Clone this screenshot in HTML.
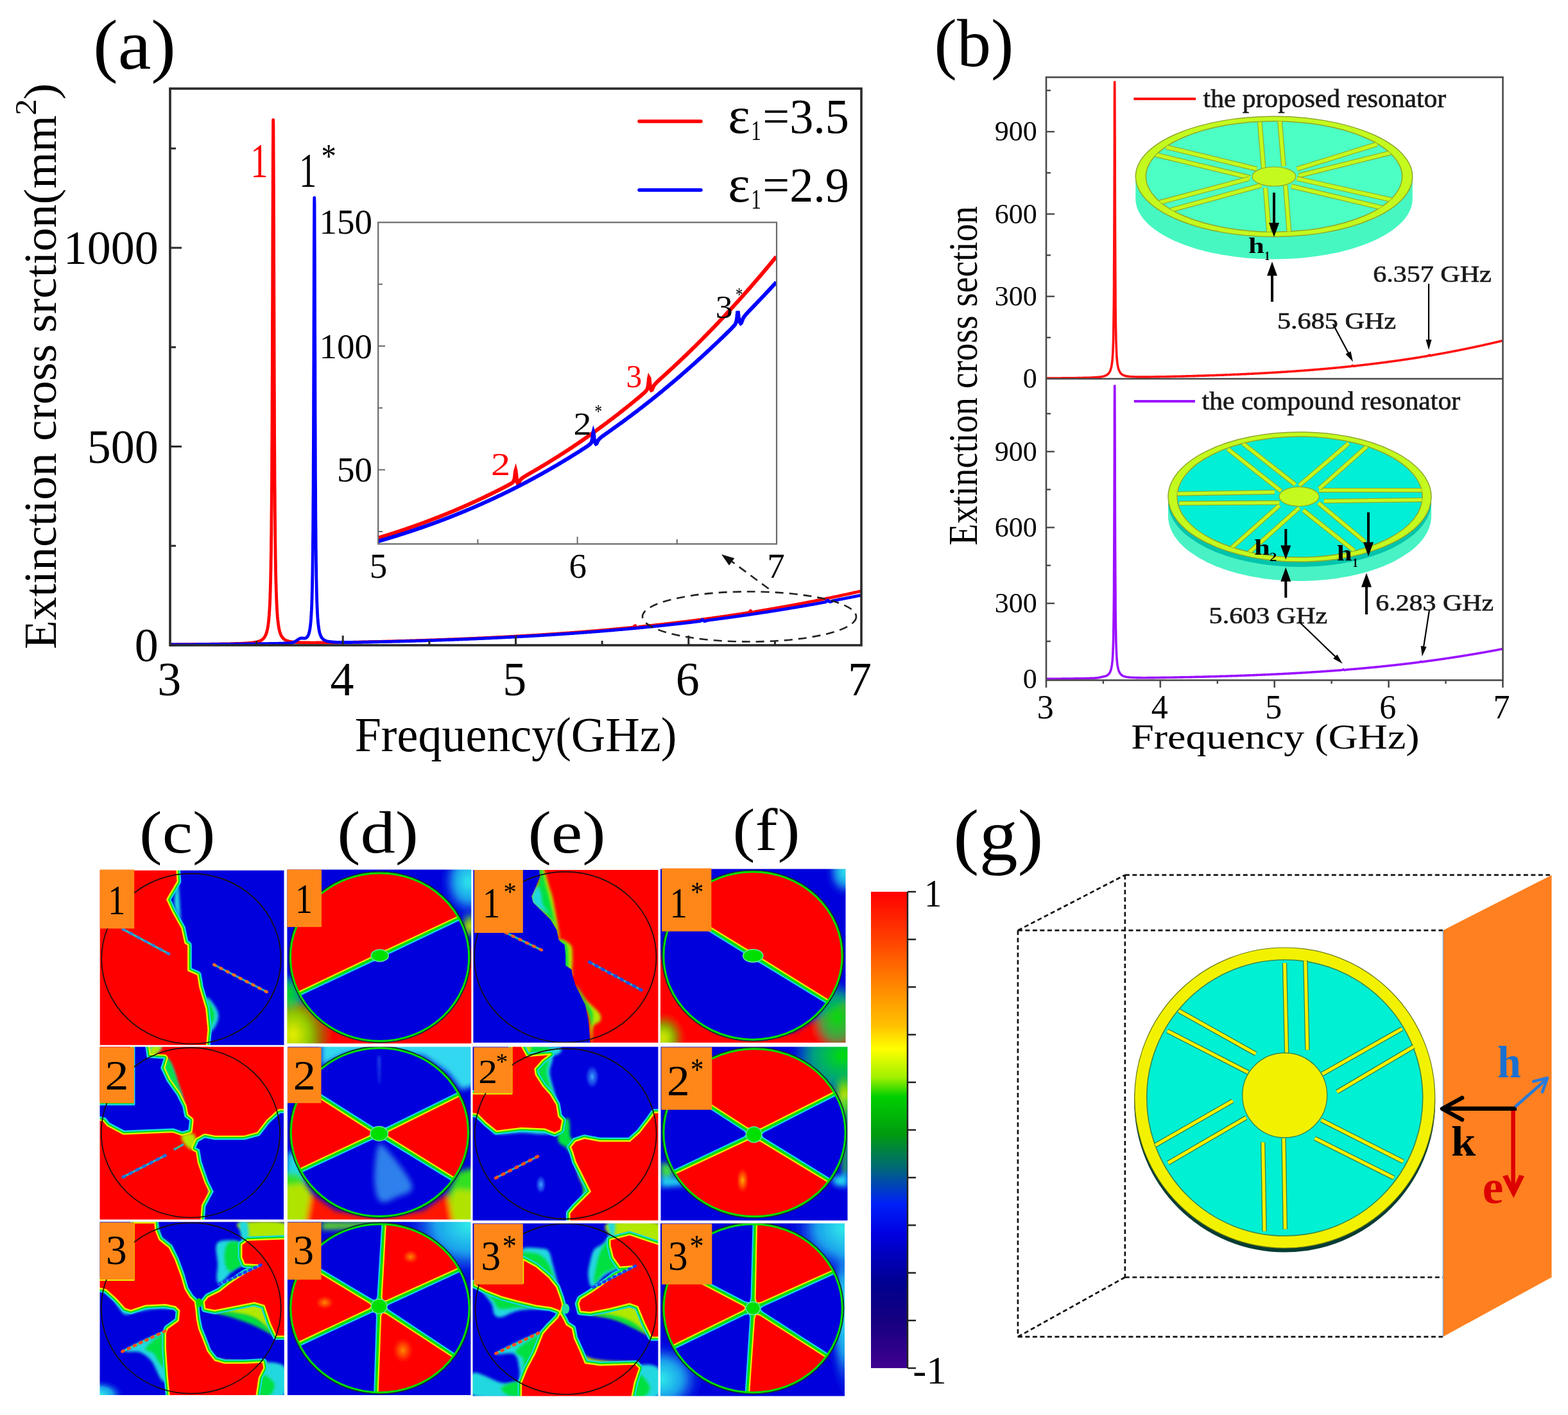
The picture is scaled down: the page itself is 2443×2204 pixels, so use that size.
<!DOCTYPE html>
<html><head><meta charset="utf-8"><style>html,body{margin:0;padding:0;background:#fff;}svg{display:block;}</style></head>
<body><svg xmlns="http://www.w3.org/2000/svg" width="2443" height="2204" viewBox="0 0 2443 2204" font-family="Liberation Serif, Times New Roman, serif">
<rect width="2443" height="2204" fill="#fff"/>
<path d="M265.0,1003.8 L266.1,1003.8 L267.2,1003.8 L268.2,1003.8 L269.3,1003.8 L270.4,1003.8 L271.5,1003.8 L272.5,1003.8 L273.6,1003.8 L274.7,1003.8 L275.8,1003.7 L276.8,1003.7 L277.9,1003.7 L279.0,1003.7 L280.1,1003.7 L281.2,1003.7 L282.2,1003.7 L283.3,1003.7 L284.4,1003.7 L285.5,1003.7 L286.5,1003.7 L287.6,1003.7 L288.7,1003.6 L289.8,1003.6 L290.8,1003.6 L291.9,1003.6 L293.0,1003.6 L294.1,1003.6 L295.2,1003.6 L296.2,1003.6 L297.3,1003.6 L298.4,1003.6 L299.5,1003.5 L300.5,1003.5 L301.6,1003.5 L302.7,1003.5 L303.8,1003.5 L304.8,1003.5 L305.9,1003.5 L307.0,1003.5 L308.1,1003.5 L309.2,1003.5 L310.2,1003.4 L311.3,1003.4 L312.4,1003.4 L313.5,1003.4 L314.5,1003.4 L315.6,1003.4 L316.7,1003.4 L317.8,1003.4 L318.9,1003.4 L319.9,1003.3 L321.0,1003.3 L322.1,1003.3 L323.2,1003.3 L324.2,1003.3 L325.3,1003.3 L326.4,1003.3 L327.5,1003.3 L328.5,1003.2 L329.6,1003.2 L330.7,1003.2 L331.8,1003.2 L332.9,1003.2 L333.9,1003.2 L335.0,1003.2 L336.1,1003.2 L337.2,1003.1 L338.2,1003.1 L339.3,1003.1 L340.4,1003.1 L341.5,1003.1 L342.5,1003.1 L343.6,1003.0 L344.7,1003.0 L345.8,1003.0 L346.9,1003.0 L347.9,1003.0 L349.0,1003.0 L350.1,1002.9 L351.2,1002.9 L352.2,1002.9 L353.3,1002.9 L354.4,1002.9 L355.5,1002.8 L356.5,1002.8 L357.6,1002.8 L358.7,1002.8 L359.8,1002.7 L360.9,1002.7 L361.9,1002.7 L363.0,1002.7 L364.1,1002.6 L365.2,1002.6 L366.2,1002.6 L367.3,1002.5 L368.4,1002.5 L369.5,1002.5 L370.5,1002.4 L371.6,1002.4 L372.7,1002.4 L373.8,1002.3 L374.9,1002.3 L375.9,1002.2 L377.0,1002.2 L378.1,1002.2 L379.2,1002.1 L380.2,1002.1 L381.3,1002.0 L382.4,1001.9 L383.5,1001.9 L384.5,1001.8 L385.6,1001.7 L386.7,1001.7 L387.8,1001.6 L388.9,1001.5 L389.9,1001.4 L391.0,1001.3 L392.1,1001.2 L393.2,1001.0 L394.2,1000.9 L395.3,1000.7 L396.4,1000.6 L397.5,1000.4 L398.5,1000.2 L399.6,1000.0 L400.7,999.7 L401.8,999.4 L402.9,999.1 L403.9,998.7 L405.0,998.3 L406.1,997.8 L407.2,997.2 L408.2,996.4 L409.3,995.6 L410.4,994.6 L411.3,993.5 L412.1,992.4 L412.8,991.3 L413.5,990.0 L414.0,988.8 L414.6,987.5 L415.0,986.4 L415.4,985.1 L415.8,983.7 L416.0,982.6 L416.3,981.5 L416.6,980.3 L416.9,978.9 L417.1,977.5 L417.4,975.9 L417.7,974.1 L417.9,972.2 L418.1,971.2 L418.2,970.1 L418.3,968.9 L418.5,967.7 L418.6,966.5 L418.7,965.1 L418.9,963.7 L419.0,962.2 L419.1,960.7 L419.3,959.0 L419.4,957.2 L419.5,955.3 L419.7,953.3 L419.8,951.2 L420.0,949.0 L420.1,946.5 L420.2,944.0 L420.4,941.2 L420.5,938.3 L420.6,935.2 L420.8,931.8 L420.9,928.2 L421.0,924.3 L421.2,920.1 L421.3,915.5 L421.4,910.6 L421.6,905.3 L421.7,899.6 L421.8,893.3 L422.0,886.5 L422.1,879.1 L422.2,871.0 L422.4,862.1 L422.5,852.3 L422.6,841.6 L422.8,829.8 L422.9,816.8 L423.0,802.4 L423.2,786.5 L423.3,768.9 L423.5,749.4 L423.6,727.8 L423.7,703.8 L423.9,677.2 L424.0,647.8 L424.1,615.5 L424.3,580.0 L424.4,541.4 L424.5,499.9 L424.7,455.8 L424.8,410.0 L424.9,363.6 L425.1,318.2 L425.2,276.1 L425.3,239.5 L425.5,211.0 L425.6,192.8 L425.7,186.6 L425.9,192.8 L426.0,211.0 L426.1,239.5 L426.3,276.0 L426.4,318.2 L426.6,363.6 L426.7,410.0 L426.8,455.8 L427.0,499.9 L427.1,541.4 L427.2,580.0 L427.4,615.4 L427.5,647.8 L427.6,677.2 L427.8,703.7 L427.9,727.7 L428.0,749.4 L428.2,768.9 L428.3,786.5 L428.4,802.4 L428.6,816.7 L428.7,829.7 L428.8,841.5 L429.0,852.2 L429.1,862.0 L429.2,870.9 L429.4,879.0 L429.5,886.4 L429.6,893.2 L429.8,899.5 L429.9,905.2 L430.1,910.5 L430.2,915.4 L430.3,920.0 L430.5,924.1 L430.6,928.0 L430.7,931.7 L430.9,935.0 L431.0,938.2 L431.1,941.1 L431.3,943.8 L431.4,946.4 L431.5,948.8 L431.7,951.1 L431.8,953.2 L431.9,955.2 L432.1,957.0 L432.2,958.8 L432.3,960.5 L432.5,962.1 L432.6,963.5 L432.7,965.0 L432.9,966.3 L433.0,967.6 L433.1,968.8 L433.3,969.9 L433.4,971.0 L433.6,972.0 L433.8,973.9 L434.1,975.7 L434.4,977.3 L434.6,978.7 L434.9,980.0 L435.2,981.3 L435.4,982.4 L435.7,983.4 L436.1,984.8 L436.5,986.1 L436.9,987.2 L437.3,988.2 L437.9,989.4 L438.4,990.5 L439.1,991.6 L439.9,992.8 L440.8,993.9 L441.9,995.0 L443.0,995.8 L444.1,996.5 L445.1,997.1 L446.2,997.6 L447.3,998.1 L448.4,998.4 L449.4,998.7 L450.5,999.0 L451.6,999.2 L452.7,999.5 L453.7,999.6 L454.8,999.8 L455.9,999.9 L457.0,1000.1 L458.1,1000.2 L459.1,1000.3 L460.2,1000.4 L461.3,1000.5 L462.4,1000.5 L463.4,1000.6 L464.5,1000.7 L465.6,1000.7 L466.7,1000.7 L467.7,1000.8 L468.8,1000.8 L469.9,1000.9 L471.0,1000.9 L472.1,1000.9 L473.1,1000.9 L474.2,1001.0 L475.3,1001.0 L476.4,1001.0 L477.4,1001.0 L478.5,1001.0 L479.6,1001.0 L480.7,1001.0 L481.7,1001.0 L482.8,1001.1 L483.9,1001.1 L485.0,1001.1 L486.1,1001.1 L487.1,1001.1 L488.2,1001.1 L489.3,1001.1 L490.4,1001.1 L491.4,1001.1 L492.5,1001.1 L493.6,1001.0 L494.7,1001.0 L495.7,1001.0 L496.8,1001.0 L497.9,1001.0 L499.0,1001.0 L500.1,1001.0 L501.1,1001.0 L502.2,1001.0 L503.3,1001.0 L504.4,1001.0 L505.4,1001.0 L506.5,1000.9 L507.6,1000.9 L508.7,1000.9 L509.7,1000.9 L510.8,1000.9 L511.9,1000.9 L513.0,1000.9 L514.1,1000.9 L515.1,1000.8 L516.2,1000.8 L517.3,1000.8 L518.4,1000.8 L519.4,1000.8 L520.5,1000.8 L521.6,1000.7 L522.7,1000.7 L523.7,1000.7 L524.8,1000.7 L525.9,1000.7 L527.0,1000.7 L528.1,1000.6 L529.1,1000.6 L530.2,1000.6 L531.3,1000.6 L532.4,1000.6 L533.4,1000.6 L534.5,1000.5 L535.6,1000.5 L536.7,1000.5 L537.8,1000.5 L538.8,1000.5 L539.9,1000.4 L541.0,1000.4 L542.1,1000.4 L543.1,1000.4 L544.2,1000.4 L545.3,1000.3 L546.4,1000.3 L547.4,1000.3 L548.5,1000.3 L549.6,1000.3 L550.7,1000.2 L551.8,1000.2 L552.8,1000.2 L553.9,1000.2 L555.0,1000.2 L556.1,1000.1 L557.1,1000.1 L558.2,1000.1 L559.3,1000.1 L560.4,1000.0 L561.4,1000.0 L562.5,1000.0 L563.6,1000.0 L564.7,1000.0 L565.8,999.9 L566.8,999.9 L567.9,999.9 L569.0,999.9 L570.1,999.8 L571.1,999.8 L572.2,999.8 L573.3,999.8 L574.4,999.7 L575.4,999.7 L576.5,999.7 L577.6,999.7 L578.7,999.6 L579.8,999.6 L580.8,999.6 L581.9,999.6 L583.0,999.5 L584.1,999.5 L585.1,999.5 L586.2,999.5 L587.3,999.4 L588.4,999.4 L589.4,999.4 L590.5,999.4 L591.6,999.3 L592.7,999.3 L593.8,999.3 L594.8,999.3 L595.9,999.2 L597.0,999.2 L598.1,999.2 L599.1,999.1 L600.2,999.1 L601.3,999.1 L602.4,999.1 L603.4,999.0 L604.5,999.0 L605.6,999.0 L606.7,999.0 L607.8,998.9 L608.8,998.9 L609.9,998.9 L611.0,998.8 L612.1,998.8 L613.1,998.8 L614.2,998.8 L615.3,998.7 L616.4,998.7 L617.4,998.7 L618.5,998.6 L619.6,998.6 L620.7,998.6 L621.8,998.5 L622.8,998.5 L623.9,998.5 L625.0,998.4 L626.1,998.4 L627.1,998.4 L628.2,998.4 L629.3,998.3 L630.4,998.3 L631.4,998.3 L632.5,998.2 L633.6,998.2 L634.7,998.2 L635.8,998.1 L636.8,998.1 L637.9,998.1 L639.0,998.0 L640.1,998.0 L641.1,998.0 L642.2,997.9 L643.3,997.9 L644.4,997.9 L645.5,997.8 L646.5,997.8 L647.6,997.8 L648.7,997.7 L649.8,997.7 L650.8,997.7 L651.9,997.6 L653.0,997.6 L654.1,997.6 L655.1,997.5 L656.2,997.5 L657.3,997.5 L658.4,997.4 L659.5,997.4 L660.5,997.4 L661.6,997.3 L662.7,997.3 L663.8,997.2 L664.8,997.2 L665.9,997.2 L667.0,997.1 L668.1,997.1 L669.1,997.1 L670.2,997.0 L671.3,997.0 L672.4,997.0 L673.5,996.9 L674.5,996.9 L675.6,996.8 L676.7,996.8 L677.8,996.8 L678.8,996.7 L679.9,996.7 L681.0,996.7 L682.1,996.6 L683.1,996.6 L684.2,996.5 L685.3,996.5 L686.4,996.5 L687.5,996.4 L688.5,996.4 L689.6,996.3 L690.7,996.3 L691.8,996.3 L692.8,996.2 L693.9,996.2 L695.0,996.1 L696.1,996.1 L697.1,996.1 L698.2,996.0 L699.3,996.0 L700.4,995.9 L701.5,995.9 L702.5,995.8 L703.6,995.8 L704.7,995.8 L705.8,995.7 L706.8,995.7 L707.9,995.6 L709.0,995.6 L710.1,995.6 L711.1,995.5 L712.2,995.5 L713.3,995.4 L714.4,995.4 L715.5,995.3 L716.5,995.3 L717.6,995.2 L718.7,995.2 L719.8,995.2 L720.8,995.1 L721.9,995.1 L723.0,995.0 L724.1,995.0 L725.1,994.9 L726.2,994.9 L727.3,994.8 L728.4,994.8 L729.5,994.7 L730.5,994.7 L731.6,994.7 L732.7,994.6 L733.8,994.6 L734.8,994.5 L735.9,994.5 L737.0,994.4 L738.1,994.4 L739.1,994.3 L740.2,994.3 L741.3,994.2 L742.4,994.2 L743.5,994.1 L744.5,994.1 L745.6,994.0 L746.7,994.0 L747.8,993.9 L748.8,993.9 L749.9,993.8 L751.0,993.8 L752.1,993.7 L753.2,993.7 L754.2,993.6 L755.3,993.6 L756.4,993.5 L757.5,993.5 L758.5,993.4 L759.6,993.4 L760.7,993.3 L761.8,993.3 L762.8,993.2 L763.9,993.2 L765.0,993.1 L766.1,993.1 L767.2,993.0 L768.2,993.0 L769.3,992.9 L770.4,992.9 L771.5,992.8 L772.5,992.7 L773.6,992.7 L774.7,992.6 L775.8,992.6 L776.8,992.5 L777.9,992.5 L779.0,992.4 L780.1,992.4 L781.2,992.3 L782.2,992.3 L783.3,992.2 L784.4,992.1 L785.5,992.1 L786.5,992.0 L787.6,992.0 L788.7,991.9 L789.8,991.9 L790.8,991.8 L791.9,991.7 L793.0,991.7 L794.1,991.6 L795.2,991.6 L796.2,991.5 L797.3,991.5 L798.4,991.4 L799.5,991.3 L800.5,991.3 L801.6,991.2 L802.7,991.2 L803.8,991.1 L804.8,991.0 L805.9,991.0 L807.0,990.9 L808.1,990.9 L809.2,990.8 L810.2,990.7 L811.3,990.7 L812.4,990.6 L813.5,990.5 L814.5,990.5 L815.6,990.4 L816.7,990.4 L817.8,990.3 L818.8,990.2 L819.9,990.2 L821.0,990.1 L822.1,990.0 L823.2,990.0 L824.2,989.9 L825.3,989.8 L826.4,989.8 L827.5,989.7 L828.5,989.7 L829.6,989.6 L830.7,989.5 L831.8,989.5 L832.8,989.4 L833.9,989.3 L835.0,989.3 L836.1,989.2 L837.2,989.1 L838.2,989.1 L839.3,989.0 L840.4,988.9 L841.5,988.8 L842.5,988.8 L843.6,988.7 L844.7,988.6 L845.8,988.6 L846.8,988.5 L847.9,988.4 L849.0,988.4 L850.1,988.3 L851.2,988.2 L852.2,988.2 L853.3,988.1 L854.4,988.0 L855.5,987.9 L856.5,987.9 L857.6,987.8 L858.7,987.7 L859.8,987.7 L860.9,987.6 L861.9,987.5 L863.0,987.4 L864.1,987.4 L865.2,987.3 L866.2,987.2 L867.3,987.1 L868.4,987.1 L869.5,987.0 L870.5,986.9 L871.6,986.8 L872.7,986.8 L873.8,986.7 L874.9,986.6 L875.9,986.5 L877.0,986.5 L878.1,986.4 L879.2,986.3 L880.2,986.2 L881.3,986.2 L882.4,986.1 L883.5,986.0 L884.5,985.9 L885.6,985.8 L886.7,985.8 L887.8,985.7 L888.9,985.6 L889.9,985.5 L891.0,985.4 L892.1,985.4 L893.2,985.3 L894.2,985.2 L895.3,985.1 L896.4,985.0 L897.5,985.0 L898.5,984.9 L899.6,984.8 L900.7,984.7 L901.8,984.6 L902.9,984.5 L903.9,984.5 L905.0,984.4 L906.1,984.3 L907.2,984.2 L908.2,984.1 L909.3,984.0 L910.4,984.0 L911.5,983.9 L912.5,983.8 L913.6,983.7 L914.7,983.6 L915.8,983.5 L916.9,983.4 L917.9,983.4 L919.0,983.3 L920.1,983.2 L921.2,983.1 L922.2,983.0 L923.3,982.9 L924.4,982.8 L925.5,982.7 L926.5,982.6 L927.6,982.6 L928.7,982.5 L929.8,982.4 L930.9,982.3 L931.9,982.2 L933.0,982.1 L934.1,982.0 L935.2,981.9 L936.2,981.8 L937.3,981.7 L938.4,981.6 L939.5,981.6 L940.5,981.5 L941.6,981.4 L942.7,981.3 L943.8,981.2 L944.9,981.1 L945.9,981.0 L947.0,980.9 L948.1,980.8 L949.2,980.7 L950.2,980.6 L951.3,980.5 L952.4,980.4 L953.5,980.3 L954.5,980.2 L955.6,980.1 L956.7,980.0 L957.8,979.9 L958.9,979.8 L959.9,979.7 L961.0,979.6 L962.1,979.5 L963.2,979.4 L964.2,979.3 L965.3,979.2 L966.4,979.1 L967.5,979.0 L968.6,978.9 L969.6,978.8 L970.7,978.7 L971.8,978.6 L972.9,978.5 L973.9,978.4 L975.0,978.3 L976.1,978.2 L977.2,978.1 L978.2,978.0 L979.3,977.9 L980.4,977.8 L981.5,977.7 L982.6,977.6 L983.6,977.4 L984.7,977.3 L985.8,977.1 L986.9,976.8 L987.9,976.1 L988.6,975.1 L989.7,974.6 L990.2,975.7 L991.0,976.7 L992.1,977.4 L993.2,977.4 L994.3,977.0 L995.3,976.7 L996.4,976.4 L997.5,976.2 L998.6,976.1 L999.6,975.9 L1000.7,975.8 L1001.8,975.7 L1002.9,975.6 L1004.0,975.4 L1005.0,975.3 L1006.1,975.2 L1007.2,975.1 L1008.3,975.0 L1009.3,974.9 L1010.4,974.8 L1011.5,974.6 L1012.6,974.5 L1013.6,974.4 L1014.7,974.3 L1015.8,974.2 L1016.9,974.1 L1018.0,973.9 L1019.0,973.8 L1020.1,973.7 L1021.2,973.6 L1022.3,973.5 L1023.3,973.4 L1024.4,973.2 L1025.5,973.1 L1026.6,973.0 L1027.7,972.9 L1028.7,972.8 L1029.8,972.6 L1030.9,972.5 L1032.0,972.4 L1033.0,972.3 L1034.1,972.1 L1035.2,972.0 L1036.3,971.9 L1037.3,971.8 L1038.4,971.7 L1039.5,971.5 L1040.6,971.4 L1041.7,971.3 L1042.7,971.2 L1043.8,971.0 L1044.9,970.9 L1046.0,970.8 L1047.0,970.7 L1048.1,970.5 L1049.2,970.4 L1050.3,970.3 L1051.3,970.1 L1052.4,970.0 L1053.5,969.9 L1054.6,969.8 L1055.7,969.6 L1056.7,969.5 L1057.8,969.4 L1058.9,969.2 L1060.0,969.1 L1061.0,969.0 L1062.1,968.9 L1063.2,968.7 L1064.3,968.6 L1065.3,968.5 L1066.4,968.3 L1067.5,968.2 L1068.6,968.1 L1069.7,967.9 L1070.7,967.8 L1071.8,967.7 L1072.9,967.5 L1074.0,967.4 L1075.0,967.2 L1076.1,967.1 L1077.2,967.0 L1078.3,966.8 L1079.3,966.7 L1080.4,966.6 L1081.5,966.4 L1082.6,966.3 L1083.7,966.1 L1084.7,966.0 L1085.8,965.9 L1086.9,965.7 L1088.0,965.6 L1089.0,965.4 L1090.1,965.3 L1091.2,965.2 L1092.3,965.0 L1093.3,964.9 L1094.4,964.7 L1095.5,964.6 L1096.6,964.4 L1097.7,964.3 L1098.7,964.2 L1099.8,964.0 L1100.9,963.9 L1102.0,963.7 L1103.0,963.6 L1104.1,963.4 L1105.2,963.3 L1106.3,963.1 L1107.3,963.0 L1108.4,962.8 L1109.5,962.7 L1110.6,962.5 L1111.7,962.4 L1112.7,962.2 L1113.8,962.1 L1114.9,961.9 L1116.0,961.8 L1117.0,961.6 L1118.1,961.5 L1119.2,961.3 L1120.3,961.2 L1121.3,961.0 L1122.4,960.9 L1123.5,960.7 L1124.6,960.6 L1125.7,960.4 L1126.7,960.3 L1127.8,960.1 L1128.9,960.0 L1130.0,959.8 L1131.0,959.6 L1132.1,959.5 L1133.2,959.3 L1134.3,959.2 L1135.4,959.0 L1136.4,958.9 L1137.5,958.7 L1138.6,958.5 L1139.7,958.4 L1140.7,958.2 L1141.8,958.1 L1142.9,957.9 L1144.0,957.7 L1145.0,957.6 L1146.1,957.4 L1147.2,957.3 L1148.3,957.1 L1149.4,956.9 L1150.4,956.8 L1151.5,956.6 L1152.6,956.4 L1153.7,956.3 L1154.7,956.1 L1155.8,955.9 L1156.9,955.8 L1158.0,955.6 L1159.0,955.4 L1160.1,955.3 L1161.2,955.1 L1162.3,954.9 L1163.4,954.7 L1164.4,954.5 L1165.5,954.3 L1166.6,954.0 L1167.7,953.6 L1168.7,952.4 L1169.4,951.2 L1170.5,952.2 L1171.2,953.2 L1172.2,954.0 L1173.3,954.1 L1174.4,953.7 L1175.5,953.2 L1176.5,952.9 L1177.6,952.6 L1178.7,952.4 L1179.8,952.2 L1180.9,952.0 L1181.9,951.8 L1183.0,951.6 L1184.1,951.5 L1185.2,951.3 L1186.2,951.1 L1187.3,950.9 L1188.4,950.7 L1189.5,950.5 L1190.5,950.4 L1191.6,950.2 L1192.7,950.0 L1193.8,949.8 L1194.9,949.6 L1195.9,949.5 L1197.0,949.3 L1198.1,949.1 L1199.2,948.9 L1200.2,948.7 L1201.3,948.5 L1202.4,948.4 L1203.5,948.2 L1204.5,948.0 L1205.6,947.8 L1206.7,947.6 L1207.8,947.4 L1208.9,947.2 L1209.9,947.0 L1211.0,946.9 L1212.1,946.7 L1213.2,946.5 L1214.2,946.3 L1215.3,946.1 L1216.4,945.9 L1217.5,945.7 L1218.5,945.5 L1219.6,945.3 L1220.7,945.1 L1221.8,945.0 L1222.9,944.8 L1223.9,944.6 L1225.0,944.4 L1226.1,944.2 L1227.2,944.0 L1228.2,943.8 L1229.3,943.6 L1230.4,943.4 L1231.5,943.2 L1232.5,943.0 L1233.6,942.8 L1234.7,942.6 L1235.8,942.4 L1236.9,942.2 L1237.9,942.0 L1239.0,941.8 L1240.1,941.6 L1241.2,941.4 L1242.2,941.2 L1243.3,941.0 L1244.4,940.8 L1245.5,940.6 L1246.6,940.4 L1247.6,940.2 L1248.7,940.0 L1249.8,939.8 L1250.9,939.6 L1251.9,939.4 L1253.0,939.2 L1254.1,939.0 L1255.2,938.8 L1256.2,938.6 L1257.3,938.3 L1258.4,938.1 L1259.5,937.9 L1260.6,937.7 L1261.6,937.5 L1262.7,937.3 L1263.8,937.1 L1264.9,936.9 L1265.9,936.7 L1267.0,936.5 L1268.1,936.3 L1269.2,936.0 L1270.2,935.8 L1271.3,935.6 L1272.4,935.4 L1273.5,935.2 L1274.6,935.0 L1275.6,934.8 L1276.7,934.5 L1277.8,934.3 L1278.9,934.1 L1279.9,933.9 L1281.0,933.7 L1282.1,933.5 L1283.2,933.2 L1284.2,933.0 L1285.3,932.8 L1286.4,932.6 L1287.5,932.4 L1288.6,932.1 L1289.6,931.9 L1290.7,931.7 L1291.8,931.5 L1292.9,931.3 L1293.9,931.0 L1295.0,930.8 L1296.1,930.6 L1297.2,930.4 L1298.2,930.1 L1299.3,929.9 L1300.4,929.7 L1301.5,929.5 L1302.6,929.2 L1303.6,929.0 L1304.7,928.8 L1305.8,928.5 L1306.9,928.3 L1307.9,928.1 L1309.0,927.9 L1310.1,927.6 L1311.2,927.4 L1312.2,927.2 L1313.3,926.9 L1314.4,926.7 L1315.5,926.5 L1316.6,926.2 L1317.6,926.0 L1318.7,925.8 L1319.8,925.5 L1320.9,925.3 L1321.9,925.1 L1323.0,924.8 L1324.1,924.6 L1325.2,924.4 L1326.2,924.1 L1327.3,923.9 L1328.4,923.7 L1329.5,923.4 L1330.6,923.2 L1331.6,922.9 L1332.7,922.7 L1333.8,922.5 L1334.9,922.2 L1335.9,922.0 L1337.0,921.7 L1338.1,921.5 L1339.2,921.3 L1340.2,921.0 L1341.3,920.8 L1342.0,920.6" fill="none" stroke="#ff0000" stroke-width="4.8" stroke-linejoin="round"/>
<path d="M265.0,1004.0 L266.1,1004.0 L267.2,1004.0 L268.2,1004.0 L269.3,1004.0 L270.4,1004.0 L271.5,1004.0 L272.5,1004.0 L273.6,1003.9 L274.7,1003.9 L275.8,1003.9 L276.8,1003.9 L277.9,1003.9 L279.0,1003.9 L280.1,1003.9 L281.2,1003.9 L282.2,1003.9 L283.3,1003.9 L284.4,1003.9 L285.5,1003.9 L286.5,1003.9 L287.6,1003.9 L288.7,1003.9 L289.8,1003.8 L290.8,1003.8 L291.9,1003.8 L293.0,1003.8 L294.1,1003.8 L295.2,1003.8 L296.2,1003.8 L297.3,1003.8 L298.4,1003.8 L299.5,1003.8 L300.5,1003.8 L301.6,1003.8 L302.7,1003.8 L303.8,1003.8 L304.8,1003.7 L305.9,1003.7 L307.0,1003.7 L308.1,1003.7 L309.2,1003.7 L310.2,1003.7 L311.3,1003.7 L312.4,1003.7 L313.5,1003.7 L314.5,1003.7 L315.6,1003.7 L316.7,1003.7 L317.8,1003.7 L318.9,1003.6 L319.9,1003.6 L321.0,1003.6 L322.1,1003.6 L323.2,1003.6 L324.2,1003.6 L325.3,1003.6 L326.4,1003.6 L327.5,1003.6 L328.5,1003.6 L329.6,1003.6 L330.7,1003.6 L331.8,1003.5 L332.9,1003.5 L333.9,1003.5 L335.0,1003.5 L336.1,1003.5 L337.2,1003.5 L338.2,1003.5 L339.3,1003.5 L340.4,1003.5 L341.5,1003.5 L342.5,1003.5 L343.6,1003.4 L344.7,1003.4 L345.8,1003.4 L346.9,1003.4 L347.9,1003.4 L349.0,1003.4 L350.1,1003.4 L351.2,1003.4 L352.2,1003.4 L353.3,1003.4 L354.4,1003.3 L355.5,1003.3 L356.5,1003.3 L357.6,1003.3 L358.7,1003.3 L359.8,1003.3 L360.9,1003.3 L361.9,1003.3 L363.0,1003.3 L364.1,1003.3 L365.2,1003.2 L366.2,1003.2 L367.3,1003.2 L368.4,1003.2 L369.5,1003.2 L370.5,1003.2 L371.6,1003.2 L372.7,1003.2 L373.8,1003.2 L374.9,1003.1 L375.9,1003.1 L377.0,1003.1 L378.1,1003.1 L379.2,1003.1 L380.2,1003.1 L381.3,1003.1 L382.4,1003.1 L383.5,1003.0 L384.5,1003.0 L385.6,1003.0 L386.7,1003.0 L387.8,1003.0 L388.9,1003.0 L389.9,1003.0 L391.0,1003.0 L392.1,1002.9 L393.2,1002.9 L394.2,1002.9 L395.3,1002.9 L396.4,1002.9 L397.5,1002.9 L398.5,1002.9 L399.6,1002.8 L400.7,1002.8 L401.8,1002.8 L402.9,1002.8 L403.9,1002.8 L405.0,1002.8 L406.1,1002.8 L407.2,1002.7 L408.2,1002.7 L409.3,1002.7 L410.4,1002.7 L411.5,1002.7 L412.5,1002.7 L413.6,1002.6 L414.7,1002.6 L415.8,1002.6 L416.9,1002.6 L417.9,1002.6 L419.0,1002.5 L420.1,1002.5 L421.2,1002.5 L422.2,1002.5 L423.3,1002.5 L424.4,1002.4 L425.5,1002.4 L426.6,1002.4 L427.6,1002.4 L428.7,1002.4 L429.8,1002.3 L430.9,1002.3 L431.9,1002.3 L433.0,1002.3 L434.1,1002.2 L435.2,1002.2 L436.2,1002.2 L437.3,1002.1 L438.4,1002.1 L439.5,1002.1 L440.6,1002.1 L441.6,1002.0 L442.7,1002.0 L443.8,1001.9 L444.9,1001.9 L445.9,1001.9 L447.0,1001.8 L448.1,1001.8 L449.2,1001.7 L450.2,1001.6 L451.3,1001.6 L452.4,1001.4 L453.5,1001.3 L454.6,1001.1 L455.6,1000.9 L456.7,1000.6 L457.8,1000.2 L458.9,999.7 L459.9,999.1 L461.0,998.4 L462.1,997.7 L463.2,996.9 L464.2,996.2 L465.3,995.5 L466.4,994.9 L467.5,994.4 L468.6,994.1 L469.6,994.0 L470.7,994.0 L471.8,994.1 L472.9,994.2 L473.9,994.3 L475.0,994.2 L476.1,994.0 L477.2,993.5 L478.2,992.6 L479.2,991.4 L479.9,990.2 L480.4,989.1 L480.8,988.1 L481.2,986.9 L481.6,985.5 L481.9,984.4 L482.2,983.3 L482.4,982.0 L482.7,980.5 L483.0,978.9 L483.2,977.1 L483.5,975.1 L483.6,973.9 L483.8,972.8 L483.9,971.5 L484.0,970.1 L484.2,968.7 L484.3,967.1 L484.4,965.5 L484.6,963.7 L484.7,961.8 L484.8,959.7 L485.0,957.5 L485.1,955.1 L485.2,952.5 L485.4,949.7 L485.5,946.7 L485.7,943.4 L485.8,939.8 L485.9,935.9 L486.1,931.5 L486.2,926.8 L486.3,921.6 L486.5,915.9 L486.6,909.5 L486.7,902.5 L486.9,894.7 L487.0,886.0 L487.1,876.3 L487.3,865.4 L487.4,853.1 L487.5,839.4 L487.7,823.8 L487.8,806.2 L487.9,786.2 L488.1,763.6 L488.2,738.0 L488.3,709.0 L488.5,676.3 L488.6,639.8 L488.7,599.4 L488.9,555.5 L489.0,508.8 L489.2,461.0 L489.3,414.3 L489.4,372.1 L489.6,338.0 L489.7,315.7 L489.8,307.9 L490.0,315.7 L490.1,338.0 L490.2,372.1 L490.4,414.3 L490.5,460.9 L490.6,508.8 L490.8,555.4 L490.9,599.4 L491.0,639.8 L491.2,676.3 L491.3,708.9 L491.4,737.9 L491.6,763.5 L491.7,786.2 L491.8,806.1 L492.0,823.7 L492.1,839.3 L492.2,853.1 L492.4,865.3 L492.5,876.2 L492.7,885.9 L492.8,894.6 L492.9,902.5 L493.1,909.5 L493.2,915.8 L493.3,921.5 L493.5,926.7 L493.6,931.5 L493.7,935.8 L493.9,939.7 L494.0,943.3 L494.1,946.6 L494.3,949.7 L494.4,952.5 L494.5,955.1 L494.7,957.4 L494.8,959.7 L494.9,961.7 L495.1,963.6 L495.2,965.4 L495.3,967.1 L495.5,968.6 L495.6,970.1 L495.7,971.4 L495.9,972.7 L496.0,973.9 L496.2,975.0 L496.3,976.1 L496.6,978.0 L496.8,979.7 L497.1,981.3 L497.4,982.7 L497.6,983.9 L497.9,985.1 L498.2,986.1 L498.6,987.5 L499.0,988.7 L499.4,989.7 L499.9,990.9 L500.5,992.0 L501.1,993.1 L501.9,994.1 L502.9,995.1 L504.0,996.1 L505.0,996.8 L506.1,997.4 L507.2,997.9 L508.3,998.3 L509.3,998.6 L510.4,998.9 L511.5,999.1 L512.6,999.3 L513.7,999.5 L514.7,999.6 L515.8,999.7 L516.9,999.9 L518.0,999.9 L519.0,1000.0 L520.1,1000.1 L521.2,1000.2 L522.3,1000.2 L523.3,1000.3 L524.4,1000.3 L525.5,1000.3 L526.6,1000.4 L527.7,1000.4 L528.7,1000.4 L529.8,1000.4 L530.9,1000.5 L532.0,1000.5 L533.0,1000.5 L534.1,1000.5 L535.2,1000.5 L536.3,1000.5 L537.3,1000.5 L538.4,1000.5 L539.5,1000.5 L540.6,1000.5 L541.7,1000.5 L542.7,1000.5 L543.8,1000.5 L544.9,1000.5 L546.0,1000.5 L547.0,1000.5 L548.1,1000.4 L549.2,1000.4 L550.3,1000.4 L551.3,1000.4 L552.4,1000.4 L553.5,1000.4 L554.6,1000.4 L555.7,1000.4 L556.7,1000.4 L557.8,1000.3 L558.9,1000.3 L560.0,1000.3 L561.0,1000.3 L562.1,1000.3 L563.2,1000.3 L564.3,1000.2 L565.3,1000.2 L566.4,1000.2 L567.5,1000.2 L568.6,1000.2 L569.7,1000.1 L570.7,1000.1 L571.8,1000.1 L572.9,1000.1 L574.0,1000.1 L575.0,1000.0 L576.1,1000.0 L577.2,1000.0 L578.3,1000.0 L579.3,1000.0 L580.4,999.9 L581.5,999.9 L582.6,999.9 L583.7,999.9 L584.7,999.9 L585.8,999.8 L586.9,999.8 L588.0,999.8 L589.0,999.8 L590.1,999.7 L591.2,999.7 L592.3,999.7 L593.4,999.7 L594.4,999.6 L595.5,999.6 L596.6,999.6 L597.7,999.6 L598.7,999.5 L599.8,999.5 L600.9,999.5 L602.0,999.5 L603.0,999.4 L604.1,999.4 L605.2,999.4 L606.3,999.4 L607.4,999.3 L608.4,999.3 L609.5,999.3 L610.6,999.3 L611.7,999.2 L612.7,999.2 L613.8,999.2 L614.9,999.2 L616.0,999.1 L617.0,999.1 L618.1,999.1 L619.2,999.0 L620.3,999.0 L621.4,999.0 L622.4,999.0 L623.5,998.9 L624.6,998.9 L625.7,998.9 L626.7,998.8 L627.8,998.8 L628.9,998.8 L630.0,998.8 L631.0,998.7 L632.1,998.7 L633.2,998.7 L634.3,998.6 L635.4,998.6 L636.4,998.6 L637.5,998.6 L638.6,998.5 L639.7,998.5 L640.7,998.5 L641.8,998.4 L642.9,998.4 L644.0,998.4 L645.0,998.3 L646.1,998.3 L647.2,998.3 L648.3,998.2 L649.4,998.2 L650.4,998.2 L651.5,998.1 L652.6,998.1 L653.7,998.1 L654.7,998.0 L655.8,998.0 L656.9,998.0 L658.0,997.9 L659.0,997.9 L660.1,997.9 L661.2,997.8 L662.3,997.8 L663.4,997.8 L664.4,997.7 L665.5,997.7 L666.6,997.7 L667.7,997.6 L668.7,997.6 L669.8,997.6 L670.9,997.5 L672.0,997.5 L673.0,997.5 L674.1,997.4 L675.2,997.4 L676.3,997.4 L677.4,997.3 L678.4,997.3 L679.5,997.3 L680.6,997.2 L681.7,997.2 L682.7,997.1 L683.8,997.1 L684.9,997.1 L686.0,997.0 L687.0,997.0 L688.1,997.0 L689.2,996.9 L690.3,996.9 L691.4,996.8 L692.4,996.8 L693.5,996.8 L694.6,996.7 L695.7,996.7 L696.7,996.7 L697.8,996.6 L698.9,996.6 L700.0,996.5 L701.1,996.5 L702.1,996.5 L703.2,996.4 L704.3,996.4 L705.4,996.3 L706.4,996.3 L707.5,996.3 L708.6,996.2 L709.7,996.2 L710.7,996.1 L711.8,996.1 L712.9,996.1 L714.0,996.0 L715.1,996.0 L716.1,995.9 L717.2,995.9 L718.3,995.8 L719.4,995.8 L720.4,995.8 L721.5,995.7 L722.6,995.7 L723.7,995.6 L724.7,995.6 L725.8,995.5 L726.9,995.5 L728.0,995.5 L729.1,995.4 L730.1,995.4 L731.2,995.3 L732.3,995.3 L733.4,995.2 L734.4,995.2 L735.5,995.1 L736.6,995.1 L737.7,995.1 L738.7,995.0 L739.8,995.0 L740.9,994.9 L742.0,994.9 L743.1,994.8 L744.1,994.8 L745.2,994.7 L746.3,994.7 L747.4,994.6 L748.4,994.6 L749.5,994.6 L750.6,994.5 L751.7,994.5 L752.7,994.4 L753.8,994.4 L754.9,994.3 L756.0,994.3 L757.1,994.2 L758.1,994.2 L759.2,994.1 L760.3,994.1 L761.4,994.0 L762.4,994.0 L763.5,993.9 L764.6,993.9 L765.7,993.8 L766.7,993.8 L767.8,993.7 L768.9,993.7 L770.0,993.6 L771.1,993.6 L772.1,993.5 L773.2,993.5 L774.3,993.4 L775.4,993.4 L776.4,993.3 L777.5,993.3 L778.6,993.2 L779.7,993.2 L780.7,993.1 L781.8,993.1 L782.9,993.0 L784.0,992.9 L785.1,992.9 L786.1,992.8 L787.2,992.8 L788.3,992.7 L789.4,992.7 L790.4,992.6 L791.5,992.6 L792.6,992.5 L793.7,992.5 L794.7,992.4 L795.8,992.3 L796.9,992.3 L798.0,992.2 L799.1,992.2 L800.1,992.1 L801.2,992.1 L802.3,992.0 L803.4,992.0 L804.4,991.9 L805.5,991.8 L806.6,991.8 L807.7,991.7 L808.8,991.7 L809.8,991.6 L810.9,991.5 L812.0,991.5 L813.1,991.4 L814.1,991.4 L815.2,991.3 L816.3,991.3 L817.4,991.2 L818.4,991.1 L819.5,991.1 L820.6,991.0 L821.7,991.0 L822.8,990.9 L823.8,990.8 L824.9,990.8 L826.0,990.7 L827.1,990.6 L828.1,990.6 L829.2,990.5 L830.3,990.5 L831.4,990.4 L832.4,990.3 L833.5,990.3 L834.6,990.2 L835.7,990.1 L836.8,990.1 L837.8,990.0 L838.9,990.0 L840.0,989.9 L841.1,989.8 L842.1,989.8 L843.2,989.7 L844.3,989.6 L845.4,989.6 L846.4,989.5 L847.5,989.4 L848.6,989.4 L849.7,989.3 L850.8,989.2 L851.8,989.2 L852.9,989.1 L854.0,989.0 L855.1,989.0 L856.1,988.9 L857.2,988.8 L858.3,988.8 L859.4,988.7 L860.4,988.6 L861.5,988.6 L862.6,988.5 L863.7,988.4 L864.8,988.3 L865.8,988.3 L866.9,988.2 L868.0,988.1 L869.1,988.1 L870.1,988.0 L871.2,987.9 L872.3,987.9 L873.4,987.8 L874.4,987.7 L875.5,987.6 L876.6,987.6 L877.7,987.5 L878.8,987.4 L879.8,987.3 L880.9,987.3 L882.0,987.2 L883.1,987.1 L884.1,987.1 L885.2,987.0 L886.3,986.9 L887.4,986.8 L888.4,986.8 L889.5,986.7 L890.6,986.6 L891.7,986.5 L892.8,986.5 L893.8,986.4 L894.9,986.3 L896.0,986.2 L897.1,986.1 L898.1,986.1 L899.2,986.0 L900.3,985.9 L901.4,985.8 L902.4,985.8 L903.5,985.7 L904.6,985.6 L905.7,985.5 L906.8,985.4 L907.8,985.4 L908.9,985.3 L910.0,985.2 L911.1,985.1 L912.1,985.0 L913.2,985.0 L914.3,984.9 L915.4,984.8 L916.5,984.7 L917.5,984.6 L918.6,984.5 L919.7,984.5 L920.8,984.4 L921.8,984.3 L922.9,984.2 L924.0,984.1 L925.1,984.0 L926.1,984.0 L927.2,983.9 L928.3,983.8 L929.4,983.7 L930.5,983.6 L931.5,983.5 L932.6,983.5 L933.7,983.4 L934.8,983.3 L935.8,983.2 L936.9,983.1 L938.0,983.0 L939.1,982.9 L940.1,982.8 L941.2,982.8 L942.3,982.7 L943.4,982.6 L944.5,982.5 L945.5,982.4 L946.6,982.3 L947.7,982.2 L948.8,982.1 L949.8,982.0 L950.9,982.0 L952.0,981.9 L953.1,981.8 L954.1,981.7 L955.2,981.6 L956.3,981.5 L957.4,981.4 L958.5,981.3 L959.5,981.2 L960.6,981.1 L961.7,981.0 L962.8,980.9 L963.8,980.8 L964.9,980.7 L966.0,980.7 L967.1,980.6 L968.1,980.5 L969.2,980.4 L970.3,980.3 L971.4,980.2 L972.5,980.1 L973.5,980.0 L974.6,979.9 L975.7,979.8 L976.8,979.7 L977.8,979.6 L978.9,979.5 L980.0,979.4 L981.1,979.3 L982.1,979.2 L983.2,979.1 L984.3,979.0 L985.4,978.9 L986.5,978.8 L987.5,978.7 L988.6,978.6 L989.7,978.5 L990.8,978.4 L991.8,978.3 L992.9,978.2 L994.0,978.1 L995.1,978.0 L996.1,977.9 L997.2,977.8 L998.3,977.7 L999.4,977.6 L1000.5,977.5 L1001.5,977.4 L1002.6,977.3 L1003.7,977.2 L1004.8,977.1 L1005.8,976.9 L1006.9,976.8 L1008.0,976.7 L1009.1,976.6 L1010.1,976.5 L1011.2,976.4 L1012.3,976.3 L1013.4,976.2 L1014.5,976.1 L1015.5,976.0 L1016.6,975.9 L1017.7,975.8 L1018.8,975.7 L1019.8,975.5 L1020.9,975.4 L1022.0,975.3 L1023.1,975.2 L1024.2,975.1 L1025.2,975.0 L1026.3,974.9 L1027.4,974.8 L1028.5,974.7 L1029.5,974.5 L1030.6,974.4 L1031.7,974.3 L1032.8,974.2 L1033.8,974.1 L1034.9,974.0 L1036.0,973.9 L1037.1,973.7 L1038.2,973.6 L1039.2,973.5 L1040.3,973.4 L1041.4,973.3 L1042.5,973.2 L1043.5,973.0 L1044.6,972.9 L1045.7,972.8 L1046.8,972.7 L1047.8,972.6 L1048.9,972.5 L1050.0,972.3 L1051.1,972.2 L1052.2,972.1 L1053.2,972.0 L1054.3,971.9 L1055.4,971.7 L1056.5,971.6 L1057.5,971.5 L1058.6,971.4 L1059.7,971.3 L1060.8,971.1 L1061.8,971.0 L1062.9,970.9 L1064.0,970.8 L1065.1,970.6 L1066.2,970.5 L1067.2,970.4 L1068.3,970.3 L1069.4,970.1 L1070.5,970.0 L1071.5,969.9 L1072.6,969.8 L1073.7,969.6 L1074.8,969.5 L1075.8,969.4 L1076.9,969.3 L1078.0,969.1 L1079.1,969.0 L1080.2,968.9 L1081.2,968.7 L1082.3,968.6 L1083.4,968.5 L1084.5,968.4 L1085.5,968.2 L1086.6,968.1 L1087.7,967.9 L1088.8,967.8 L1089.8,967.6 L1090.9,967.4 L1092.0,967.1 L1093.1,966.3 L1093.8,965.2 L1094.8,965.2 L1095.5,966.2 L1096.6,967.1 L1097.7,967.6 L1098.7,967.5 L1099.8,967.0 L1100.9,966.7 L1102.0,966.4 L1103.0,966.2 L1104.1,966.0 L1105.2,965.9 L1106.3,965.7 L1107.3,965.6 L1108.4,965.4 L1109.5,965.3 L1110.6,965.1 L1111.7,965.0 L1112.7,964.9 L1113.8,964.7 L1114.9,964.6 L1116.0,964.4 L1117.0,964.3 L1118.1,964.1 L1119.2,964.0 L1120.3,963.9 L1121.3,963.7 L1122.4,963.6 L1123.5,963.4 L1124.6,963.3 L1125.7,963.1 L1126.7,963.0 L1127.8,962.9 L1128.9,962.7 L1130.0,962.6 L1131.0,962.4 L1132.1,962.3 L1133.2,962.1 L1134.3,962.0 L1135.4,961.8 L1136.4,961.7 L1137.5,961.6 L1138.6,961.4 L1139.7,961.3 L1140.7,961.1 L1141.8,961.0 L1142.9,960.8 L1144.0,960.7 L1145.0,960.5 L1146.1,960.4 L1147.2,960.2 L1148.3,960.1 L1149.4,959.9 L1150.4,959.8 L1151.5,959.6 L1152.6,959.5 L1153.7,959.3 L1154.7,959.2 L1155.8,959.0 L1156.9,958.8 L1158.0,958.7 L1159.0,958.5 L1160.1,958.4 L1161.2,958.2 L1162.3,958.1 L1163.4,957.9 L1164.4,957.8 L1165.5,957.6 L1166.6,957.5 L1167.7,957.3 L1168.7,957.1 L1169.8,957.0 L1170.9,956.8 L1172.0,956.7 L1173.0,956.5 L1174.1,956.3 L1175.2,956.2 L1176.3,956.0 L1177.4,955.9 L1178.4,955.7 L1179.5,955.5 L1180.6,955.4 L1181.7,955.2 L1182.7,955.1 L1183.8,954.9 L1184.9,954.7 L1186.0,954.6 L1187.0,954.4 L1188.1,954.2 L1189.2,954.1 L1190.3,953.9 L1191.4,953.7 L1192.4,953.6 L1193.5,953.4 L1194.6,953.3 L1195.7,953.1 L1196.7,952.9 L1197.8,952.8 L1198.9,952.6 L1200.0,952.4 L1201.0,952.2 L1202.1,952.1 L1203.2,951.9 L1204.3,951.7 L1205.4,951.6 L1206.4,951.4 L1207.5,951.2 L1208.6,951.1 L1209.7,950.9 L1210.7,950.7 L1211.8,950.5 L1212.9,950.4 L1214.0,950.2 L1215.0,950.0 L1216.1,949.9 L1217.2,949.7 L1218.3,949.5 L1219.4,949.3 L1220.4,949.2 L1221.5,949.0 L1222.6,948.8 L1223.7,948.6 L1224.7,948.4 L1225.8,948.3 L1226.9,948.1 L1228.0,947.9 L1229.0,947.7 L1230.1,947.6 L1231.2,947.4 L1232.3,947.2 L1233.4,947.0 L1234.4,946.8 L1235.5,946.7 L1236.6,946.5 L1237.7,946.3 L1238.7,946.1 L1239.8,945.9 L1240.9,945.8 L1242.0,945.6 L1243.1,945.4 L1244.1,945.2 L1245.2,945.0 L1246.3,944.8 L1247.4,944.7 L1248.4,944.5 L1249.5,944.3 L1250.6,944.1 L1251.7,943.9 L1252.7,943.7 L1253.8,943.5 L1254.9,943.4 L1256.0,943.2 L1257.1,943.0 L1258.1,942.8 L1259.2,942.6 L1260.3,942.4 L1261.4,942.2 L1262.4,942.0 L1263.5,941.8 L1264.6,941.7 L1265.7,941.5 L1266.7,941.3 L1267.8,941.1 L1268.9,940.9 L1270.0,940.7 L1271.1,940.5 L1272.1,940.3 L1273.2,940.1 L1274.3,939.9 L1275.4,939.7 L1276.4,939.5 L1277.5,939.3 L1278.6,939.1 L1279.7,938.9 L1280.7,938.7 L1281.8,938.5 L1282.9,938.3 L1284.0,938.1 L1285.1,937.9 L1286.1,937.6 L1287.2,937.1 L1288.3,936.2 L1289.0,935.0 L1290.0,934.9 L1290.7,936.0 L1291.8,936.8 L1292.9,937.3 L1293.9,937.4 L1295.0,937.0 L1296.1,936.4 L1297.2,936.0 L1298.2,935.7 L1299.3,935.5 L1300.4,935.2 L1301.5,935.0 L1302.6,934.8 L1303.6,934.6 L1304.7,934.3 L1305.8,934.1 L1306.9,933.9 L1307.9,933.7 L1309.0,933.5 L1310.1,933.3 L1311.2,933.1 L1312.2,932.9 L1313.3,932.7 L1314.4,932.5 L1315.5,932.3 L1316.6,932.0 L1317.6,931.8 L1318.7,931.6 L1319.8,931.4 L1320.9,931.2 L1321.9,931.0 L1323.0,930.8 L1324.1,930.6 L1325.2,930.4 L1326.2,930.2 L1327.3,929.9 L1328.4,929.7 L1329.5,929.5 L1330.6,929.3 L1331.6,929.1 L1332.7,928.9 L1333.8,928.7 L1334.9,928.5 L1335.9,928.2 L1337.0,928.0 L1338.1,927.8 L1339.2,927.6 L1340.2,927.4 L1341.3,927.2 L1342.0,927.0" fill="none" stroke="#0000ff" stroke-width="4.8" stroke-linejoin="round"/>
<rect x="265" y="138" width="1077" height="867" fill="none" stroke="#2a2a2a" stroke-width="3.6"/>
<line x1="265.0" y1="695.5" x2="283.0" y2="695.5" stroke="#2a2a2a" stroke-width="3" />
<line x1="265.0" y1="386.0" x2="283.0" y2="386.0" stroke="#2a2a2a" stroke-width="3" />
<line x1="265.0" y1="850.2" x2="274.0" y2="850.2" stroke="#2a2a2a" stroke-width="3" />
<line x1="265.0" y1="540.8" x2="274.0" y2="540.8" stroke="#2a2a2a" stroke-width="3" />
<line x1="265.0" y1="231.2" x2="274.0" y2="231.2" stroke="#2a2a2a" stroke-width="3" />
<line x1="534.2" y1="1005.0" x2="534.2" y2="990.0" stroke="#2a2a2a" stroke-width="3" />
<line x1="803.5" y1="1005.0" x2="803.5" y2="990.0" stroke="#2a2a2a" stroke-width="3" />
<line x1="1072.8" y1="1005.0" x2="1072.8" y2="990.0" stroke="#2a2a2a" stroke-width="3" />
<line x1="399.6" y1="1005.0" x2="399.6" y2="998.0" stroke="#2a2a2a" stroke-width="3" />
<line x1="668.9" y1="1005.0" x2="668.9" y2="998.0" stroke="#2a2a2a" stroke-width="3" />
<line x1="938.1" y1="1005.0" x2="938.1" y2="998.0" stroke="#2a2a2a" stroke-width="3" />
<line x1="1207.4" y1="1005.0" x2="1207.4" y2="998.0" stroke="#2a2a2a" stroke-width="3" />
<text x="209.8" y="1029.5" font-size="74" textLength="37.0" lengthAdjust="spacingAndGlyphs" fill="#000" >0</text>
<text x="135.8" y="720.5" font-size="74" textLength="111.0" lengthAdjust="spacingAndGlyphs" fill="#000" >500</text>
<text x="98.8" y="410.5" font-size="74" textLength="148.0" lengthAdjust="spacingAndGlyphs" fill="#000" >1000</text>
<text x="245.2" y="1083.0" font-size="74" textLength="37.0" lengthAdjust="spacingAndGlyphs" fill="#000" >3</text>
<text x="514.6" y="1083.0" font-size="74" textLength="37.0" lengthAdjust="spacingAndGlyphs" fill="#000" >4</text>
<text x="783.3" y="1083.0" font-size="74" textLength="37.0" lengthAdjust="spacingAndGlyphs" fill="#000" >5</text>
<text x="1052.8" y="1083.0" font-size="74" textLength="37.0" lengthAdjust="spacingAndGlyphs" fill="#000" >6</text>
<text x="1321.1" y="1083.0" font-size="74" textLength="37.0" lengthAdjust="spacingAndGlyphs" fill="#000" >7</text>
<text x="552.7" y="1170.0" font-size="77" textLength="501.6" lengthAdjust="spacingAndGlyphs" fill="#000" >Frequency(GHz)</text>
<text transform="translate(86.8,1011.1) rotate(-90)" x="0" y="0" font-size="72" textLength="831.5" lengthAdjust="spacingAndGlyphs" fill="#000">Extinction cross srction(mm</text>
<text transform="translate(56.3,179.8) rotate(-90)" x="0" y="0" font-size="46" textLength="25.7" lengthAdjust="spacingAndGlyphs" fill="#000">2</text>
<text transform="translate(86.8,155.2) rotate(-90)" x="0" y="0" font-size="72" textLength="25.5" lengthAdjust="spacingAndGlyphs" fill="#000">)</text>
<text x="144.9" y="107.3" font-size="110" textLength="129.2" lengthAdjust="spacingAndGlyphs" fill="#000" >(a)</text>
<line x1="996.0" y1="189.0" x2="1092.0" y2="189.0" stroke="#ff0000" stroke-width="5.5" stroke-linecap="round"/>
<line x1="996.0" y1="296.0" x2="1092.0" y2="296.0" stroke="#0000ff" stroke-width="5.5" stroke-linecap="round"/>
<text x="1134.2" y="206.5" font-size="80" textLength="34.5" lengthAdjust="spacingAndGlyphs" fill="#000" >ε</text>
<text x="1170.3" y="218.0" font-size="45" textLength="15.6" lengthAdjust="spacingAndGlyphs" fill="#000" >1</text>
<text x="1188.3" y="206.5" font-size="77" textLength="134.6" lengthAdjust="spacingAndGlyphs" fill="#000" >=3.5</text>
<text x="1134.2" y="313.5" font-size="80" textLength="34.5" lengthAdjust="spacingAndGlyphs" fill="#000" >ε</text>
<text x="1170.3" y="325.0" font-size="45" textLength="15.6" lengthAdjust="spacingAndGlyphs" fill="#000" >1</text>
<text x="1188.3" y="313.5" font-size="77" textLength="134.7" lengthAdjust="spacingAndGlyphs" fill="#000" >=2.9</text>
<text x="390.6" y="276.0" font-size="77" textLength="27.0" lengthAdjust="spacingAndGlyphs" fill="#ff0000" >1</text>
<text x="466.3" y="291.0" font-size="77" textLength="27.0" lengthAdjust="spacingAndGlyphs" fill="#000" >1</text>
<text x="500.5" y="261.0" font-size="52" textLength="23.3" lengthAdjust="spacingAndGlyphs" fill="#000" >*</text>
<clipPath id="insclip"><rect x="589.2" y="346.4" width="620.8" height="500.9"/></clipPath>
<g clip-path="url(#insclip)"><path d="M589.2,837.9 L590.1,837.6 L591.1,837.3 L592.0,837.0 L592.9,836.8 L593.9,836.5 L594.8,836.2 L595.7,835.9 L596.6,835.6 L597.6,835.3 L598.5,835.0 L599.4,834.8 L600.4,834.5 L601.3,834.2 L602.2,833.9 L603.2,833.6 L604.1,833.3 L605.0,833.0 L606.0,832.7 L606.9,832.4 L607.8,832.1 L608.8,831.8 L609.7,831.5 L610.6,831.2 L611.5,830.9 L612.5,830.6 L613.4,830.3 L614.3,830.0 L615.3,829.7 L616.2,829.4 L617.1,829.1 L618.1,828.8 L619.0,828.5 L619.9,828.2 L620.9,827.9 L621.8,827.6 L622.7,827.3 L623.7,827.0 L624.6,826.7 L625.5,826.3 L626.4,826.0 L627.4,825.7 L628.3,825.4 L629.2,825.1 L630.2,824.8 L631.1,824.5 L632.0,824.1 L633.0,823.8 L633.9,823.5 L634.8,823.2 L635.8,822.9 L636.7,822.5 L637.6,822.2 L638.6,821.9 L639.5,821.6 L640.4,821.2 L641.3,820.9 L642.3,820.6 L643.2,820.3 L644.1,819.9 L645.1,819.6 L646.0,819.3 L646.9,818.9 L647.9,818.6 L648.8,818.3 L649.7,817.9 L650.7,817.6 L651.6,817.3 L652.5,816.9 L653.5,816.6 L654.4,816.3 L655.3,815.9 L656.2,815.6 L657.2,815.2 L658.1,814.9 L659.0,814.6 L660.0,814.2 L660.9,813.9 L661.8,813.5 L662.8,813.2 L663.7,812.8 L664.6,812.5 L665.6,812.1 L666.5,811.8 L667.4,811.4 L668.4,811.1 L669.3,810.7 L670.2,810.4 L671.1,810.0 L672.1,809.7 L673.0,809.3 L673.9,809.0 L674.9,808.6 L675.8,808.2 L676.7,807.9 L677.7,807.5 L678.6,807.2 L679.5,806.8 L680.5,806.4 L681.4,806.1 L682.3,805.7 L683.3,805.3 L684.2,805.0 L685.1,804.6 L686.0,804.2 L687.0,803.9 L687.9,803.5 L688.8,803.1 L689.8,802.7 L690.7,802.4 L691.6,802.0 L692.6,801.6 L693.5,801.2 L694.4,800.9 L695.4,800.5 L696.3,800.1 L697.2,799.7 L698.2,799.3 L699.1,799.0 L700.0,798.6 L700.9,798.2 L701.9,797.8 L702.8,797.4 L703.7,797.0 L704.7,796.6 L705.6,796.3 L706.5,795.9 L707.5,795.5 L708.4,795.1 L709.3,794.7 L710.3,794.3 L711.2,793.9 L712.1,793.5 L713.0,793.1 L714.0,792.7 L714.9,792.3 L715.8,791.9 L716.8,791.5 L717.7,791.1 L718.6,790.7 L719.6,790.3 L720.5,789.9 L721.4,789.5 L722.4,789.1 L723.3,788.7 L724.2,788.3 L725.2,787.8 L726.1,787.4 L727.0,787.0 L727.9,786.6 L728.9,786.2 L729.8,785.8 L730.7,785.4 L731.7,784.9 L732.6,784.5 L733.5,784.1 L734.5,783.7 L735.4,783.3 L736.3,782.8 L737.3,782.4 L738.2,782.0 L739.1,781.6 L740.1,781.1 L741.0,780.7 L741.9,780.3 L742.8,779.9 L743.8,779.4 L744.7,779.0 L745.6,778.6 L746.6,778.1 L747.5,777.7 L748.4,777.3 L749.4,776.8 L750.3,776.4 L751.2,775.9 L752.2,775.5 L753.1,775.1 L754.0,774.6 L755.0,774.2 L755.9,773.7 L756.8,773.3 L757.7,772.8 L758.7,772.4 L759.6,771.9 L760.5,771.5 L761.5,771.0 L762.4,770.6 L763.3,770.1 L764.3,769.7 L765.2,769.2 L766.1,768.8 L767.1,768.3 L768.0,767.8 L768.9,767.4 L769.9,766.9 L770.8,766.5 L771.7,766.0 L772.6,765.5 L773.6,765.1 L774.5,764.6 L775.4,764.1 L776.4,763.7 L777.3,763.2 L778.2,762.7 L779.2,762.3 L780.1,761.8 L781.0,761.3 L782.0,760.8 L782.9,760.4 L783.8,759.9 L784.8,759.4 L785.7,758.9 L786.6,758.4 L787.5,757.9 L788.5,757.5 L789.4,757.0 L790.3,756.5 L791.3,756.0 L792.2,755.5 L793.1,755.0 L794.1,754.5 L795.0,753.9 L795.9,753.4 L796.9,752.8 L797.8,752.2 L798.7,751.4 L799.5,750.6 L800.1,749.7 L800.6,748.9 L801.0,747.7 L801.4,746.6 L801.7,745.2 L801.8,744.3 L802.0,743.3 L802.1,742.1 L802.3,740.9 L802.4,739.4 L802.6,737.9 L802.8,736.4 L802.9,734.9 L803.1,733.7 L803.4,732.7 L803.7,733.9 L803.8,735.3 L804.0,736.8 L804.2,738.5 L804.3,740.1 L804.5,741.7 L804.6,743.1 L804.8,744.4 L804.9,745.6 L805.1,746.6 L805.2,747.6 L805.4,748.4 L805.7,749.9 L806.0,751.1 L806.3,752.1 L806.8,753.1 L807.7,753.0 L808.3,751.9 L808.8,750.9 L809.3,749.9 L809.7,749.0 L810.4,748.0 L811.0,747.2 L811.8,746.3 L812.7,745.4 L813.6,744.7 L814.6,744.0 L815.5,743.4 L816.4,742.8 L817.3,742.2 L818.3,741.6 L819.2,741.1 L820.1,740.5 L821.1,740.0 L822.0,739.4 L822.9,738.9 L823.9,738.3 L824.8,737.8 L825.7,737.2 L826.7,736.7 L827.6,736.2 L828.5,735.6 L829.4,735.1 L830.4,734.5 L831.3,734.0 L832.2,733.5 L833.2,732.9 L834.1,732.4 L835.0,731.8 L836.0,731.3 L836.9,730.7 L837.8,730.2 L838.8,729.6 L839.7,729.1 L840.6,728.5 L841.6,728.0 L842.5,727.4 L843.4,726.9 L844.3,726.3 L845.3,725.8 L846.2,725.2 L847.1,724.7 L848.1,724.1 L849.0,723.5 L849.9,723.0 L850.9,722.4 L851.8,721.8 L852.7,721.3 L853.7,720.7 L854.6,720.1 L855.5,719.6 L856.5,719.0 L857.4,718.4 L858.3,717.9 L859.2,717.3 L860.2,716.7 L861.1,716.1 L862.0,715.5 L863.0,715.0 L863.9,714.4 L864.8,713.8 L865.8,713.2 L866.7,712.6 L867.6,712.0 L868.6,711.5 L869.5,710.9 L870.4,710.3 L871.4,709.7 L872.3,709.1 L873.2,708.5 L874.1,707.9 L875.1,707.3 L876.0,706.7 L876.9,706.1 L877.9,705.5 L878.8,704.9 L879.7,704.3 L880.7,703.7 L881.6,703.1 L882.5,702.5 L883.5,701.9 L884.4,701.3 L885.3,700.7 L886.3,700.1 L887.2,699.4 L888.1,698.8 L889.0,698.2 L890.0,697.6 L890.9,697.0 L891.8,696.4 L892.8,695.7 L893.7,695.1 L894.6,694.5 L895.6,693.9 L896.5,693.2 L897.4,692.6 L898.4,692.0 L899.3,691.4 L900.2,690.7 L901.2,690.1 L902.1,689.5 L903.0,688.8 L903.9,688.2 L904.9,687.5 L905.8,686.9 L906.7,686.3 L907.7,685.6 L908.6,685.0 L909.5,684.3 L910.5,683.7 L911.4,683.0 L912.3,682.4 L913.3,681.7 L914.2,681.1 L915.1,680.4 L916.1,679.8 L917.0,679.1 L917.9,678.5 L918.8,677.8 L919.8,677.2 L920.7,676.5 L921.6,675.8 L922.6,675.2 L923.5,674.5 L924.4,673.8 L925.4,673.2 L926.3,672.5 L927.2,671.8 L928.2,671.2 L929.1,670.5 L930.0,669.8 L931.0,669.1 L931.9,668.5 L932.8,667.8 L933.7,667.1 L934.7,666.4 L935.6,665.7 L936.5,665.0 L937.5,664.4 L938.4,663.7 L939.3,663.0 L940.3,662.3 L941.2,661.6 L942.1,660.9 L943.1,660.2 L944.0,659.5 L944.9,658.8 L945.8,658.1 L946.8,657.4 L947.7,656.7 L948.6,656.0 L949.6,655.3 L950.5,654.6 L951.4,653.9 L952.4,653.2 L953.3,652.5 L954.2,651.8 L955.2,651.1 L956.1,650.3 L957.0,649.6 L958.0,648.9 L958.9,648.2 L959.8,647.5 L960.7,646.8 L961.7,646.0 L962.6,645.3 L963.5,644.6 L964.5,643.9 L965.4,643.1 L966.3,642.4 L967.3,641.7 L968.2,640.9 L969.1,640.2 L970.1,639.5 L971.0,638.7 L971.9,638.0 L972.9,637.3 L973.8,636.5 L974.7,635.8 L975.6,635.0 L976.6,634.3 L977.5,633.5 L978.4,632.8 L979.4,632.0 L980.3,631.3 L981.2,630.5 L982.2,629.8 L983.1,629.0 L984.0,628.3 L985.0,627.5 L985.9,626.8 L986.8,626.0 L987.8,625.2 L988.7,624.5 L989.6,623.7 L990.5,622.9 L991.5,622.2 L992.4,621.4 L993.3,620.6 L994.3,619.8 L995.2,619.1 L996.1,618.3 L997.1,617.5 L998.0,616.7 L998.9,615.9 L999.9,615.1 L1000.8,614.3 L1001.7,613.5 L1002.7,612.7 L1003.6,611.9 L1004.5,611.0 L1005.4,610.1 L1006.2,609.3 L1007.0,608.3 L1007.6,607.4 L1008.1,606.6 L1008.6,605.6 L1008.9,604.7 L1009.2,603.7 L1009.5,602.3 L1009.6,601.5 L1009.8,600.6 L1009.9,599.6 L1010.1,598.4 L1010.3,597.0 L1010.4,595.6 L1010.6,594.0 L1010.7,592.4 L1010.9,590.9 L1011.0,589.7 L1011.2,588.8 L1011.7,589.7 L1011.8,590.9 L1012.0,592.5 L1012.1,594.1 L1012.3,595.7 L1012.4,597.2 L1012.6,598.5 L1012.7,599.8 L1012.9,600.9 L1013.1,601.9 L1013.2,602.8 L1013.4,603.6 L1013.7,605.0 L1014.0,606.1 L1014.3,607.0 L1014.8,607.8 L1015.7,607.4 L1016.2,606.5 L1016.6,605.4 L1017.1,604.2 L1017.6,603.1 L1018.0,602.2 L1018.5,601.3 L1019.1,600.3 L1019.7,599.4 L1020.5,598.4 L1021.3,597.5 L1022.1,596.7 L1023.0,595.7 L1023.9,594.8 L1024.8,593.9 L1025.8,593.1 L1026.7,592.2 L1027.6,591.3 L1028.6,590.5 L1029.5,589.6 L1030.4,588.8 L1031.4,587.9 L1032.3,587.1 L1033.2,586.2 L1034.2,585.4 L1035.1,584.5 L1036.0,583.7 L1037.0,582.9 L1037.9,582.0 L1038.8,581.2 L1039.7,580.3 L1040.7,579.5 L1041.6,578.6 L1042.5,577.7 L1043.5,576.9 L1044.4,576.0 L1045.3,575.2 L1046.3,574.3 L1047.2,573.5 L1048.1,572.6 L1049.1,571.7 L1050.0,570.9 L1050.9,570.0 L1051.9,569.1 L1052.8,568.3 L1053.7,567.4 L1054.6,566.5 L1055.6,565.7 L1056.5,564.8 L1057.4,563.9 L1058.4,563.0 L1059.3,562.1 L1060.2,561.3 L1061.2,560.4 L1062.1,559.5 L1063.0,558.6 L1064.0,557.7 L1064.9,556.8 L1065.8,556.0 L1066.8,555.1 L1067.7,554.2 L1068.6,553.3 L1069.5,552.4 L1070.5,551.5 L1071.4,550.6 L1072.3,549.7 L1073.3,548.8 L1074.2,547.9 L1075.1,547.0 L1076.1,546.1 L1077.0,545.2 L1077.9,544.2 L1078.9,543.3 L1079.8,542.4 L1080.7,541.5 L1081.6,540.6 L1082.6,539.7 L1083.5,538.8 L1084.4,537.8 L1085.4,536.9 L1086.3,536.0 L1087.2,535.1 L1088.2,534.1 L1089.1,533.2 L1090.0,532.3 L1091.0,531.3 L1091.9,530.4 L1092.8,529.5 L1093.8,528.5 L1094.7,527.6 L1095.6,526.7 L1096.5,525.7 L1097.5,524.8 L1098.4,523.8 L1099.3,522.9 L1100.3,521.9 L1101.2,521.0 L1102.1,520.0 L1103.1,519.1 L1104.0,518.1 L1104.9,517.2 L1105.9,516.2 L1106.8,515.3 L1107.7,514.3 L1108.5,513.5 L1109.3,512.7 L1110.1,511.9 L1110.8,511.1 L1111.6,510.3 L1112.4,509.5 L1113.2,508.7 L1113.9,507.9 L1114.7,507.0 L1115.5,506.2 L1116.3,505.4 L1117.0,504.6 L1117.8,503.8 L1118.6,503.0 L1119.4,502.2 L1120.1,501.3 L1120.9,500.5 L1121.7,499.7 L1122.5,498.9 L1123.2,498.1 L1124.0,497.2 L1124.8,496.4 L1125.6,495.6 L1126.3,494.8 L1127.1,493.9 L1127.9,493.1 L1128.7,492.3 L1129.5,491.4 L1130.2,490.6 L1131.0,489.8 L1131.8,488.9 L1132.6,488.1 L1133.3,487.3 L1134.1,486.4 L1134.9,485.6 L1135.7,484.8 L1136.4,483.9 L1137.2,483.1 L1138.0,482.2 L1138.8,481.4 L1139.5,480.5 L1140.3,479.7 L1141.1,478.8 L1141.9,478.0 L1142.6,477.1 L1143.4,476.3 L1144.2,475.4 L1145.0,474.6 L1145.7,473.7 L1146.5,472.9 L1147.3,472.0 L1148.1,471.2 L1148.9,470.3 L1149.6,469.4 L1150.4,468.6 L1151.2,467.7 L1152.0,466.9 L1152.7,466.0 L1153.5,465.1 L1154.3,464.3 L1155.1,463.4 L1155.8,462.5 L1156.6,461.7 L1157.4,460.8 L1158.2,459.9 L1158.9,459.0 L1159.7,458.2 L1160.5,457.3 L1161.3,456.4 L1162.0,455.5 L1162.8,454.7 L1163.6,453.8 L1164.4,452.9 L1165.1,452.0 L1165.9,451.1 L1166.7,450.2 L1167.5,449.4 L1168.3,448.5 L1169.0,447.6 L1169.8,446.7 L1170.6,445.8 L1171.4,444.9 L1172.1,444.0 L1172.9,443.1 L1173.7,442.2 L1174.5,441.3 L1175.2,440.4 L1176.0,439.5 L1176.8,438.6 L1177.6,437.7 L1178.3,436.8 L1179.1,435.9 L1179.9,435.0 L1180.7,434.1 L1181.4,433.2 L1182.2,432.3 L1183.0,431.4 L1183.8,430.5 L1184.5,429.6 L1185.3,428.7 L1186.1,427.8 L1186.9,426.9 L1187.7,425.9 L1188.4,425.0 L1189.2,424.1 L1190.0,423.2 L1190.8,422.3 L1191.5,421.4 L1192.3,420.4 L1193.1,419.5 L1193.9,418.6 L1194.6,417.7 L1195.4,416.7 L1196.2,415.8 L1197.0,414.9 L1197.7,414.0 L1198.5,413.0 L1199.3,412.1 L1200.1,411.2 L1200.8,410.2 L1201.6,409.3 L1202.4,408.4 L1203.2,407.4 L1203.9,406.5 L1204.7,405.5 L1205.5,404.6 L1206.3,403.7 L1207.1,402.7 L1207.8,401.8 L1208.6,400.8 L1209.4,399.9" fill="none" stroke="#ff0000" stroke-width="6"/>
<path d="M589.2,843.1 L590.1,842.8 L591.1,842.6 L592.0,842.3 L592.9,842.0 L593.9,841.7 L594.8,841.5 L595.7,841.2 L596.6,840.9 L597.6,840.7 L598.5,840.4 L599.4,840.1 L600.4,839.8 L601.3,839.6 L602.2,839.3 L603.2,839.0 L604.1,838.7 L605.0,838.5 L606.0,838.2 L606.9,837.9 L607.8,837.6 L608.8,837.3 L609.7,837.1 L610.6,836.8 L611.5,836.5 L612.5,836.2 L613.4,835.9 L614.3,835.6 L615.3,835.3 L616.2,835.1 L617.1,834.8 L618.1,834.5 L619.0,834.2 L619.9,833.9 L620.9,833.6 L621.8,833.3 L622.7,833.0 L623.7,832.7 L624.6,832.4 L625.5,832.1 L626.4,831.8 L627.4,831.5 L628.3,831.2 L629.2,831.0 L630.2,830.7 L631.1,830.4 L632.0,830.0 L633.0,829.7 L633.9,829.4 L634.8,829.1 L635.8,828.8 L636.7,828.5 L637.6,828.2 L638.6,827.9 L639.5,827.6 L640.4,827.3 L641.3,827.0 L642.3,826.7 L643.2,826.4 L644.1,826.1 L645.1,825.8 L646.0,825.4 L646.9,825.1 L647.9,824.8 L648.8,824.5 L649.7,824.2 L650.7,823.9 L651.6,823.5 L652.5,823.2 L653.5,822.9 L654.4,822.6 L655.3,822.3 L656.2,821.9 L657.2,821.6 L658.1,821.3 L659.0,821.0 L660.0,820.6 L660.9,820.3 L661.8,820.0 L662.8,819.7 L663.7,819.3 L664.6,819.0 L665.6,818.7 L666.5,818.3 L667.4,818.0 L668.4,817.7 L669.3,817.3 L670.2,817.0 L671.1,816.7 L672.1,816.3 L673.0,816.0 L673.9,815.7 L674.9,815.3 L675.8,815.0 L676.7,814.6 L677.7,814.3 L678.6,814.0 L679.5,813.6 L680.5,813.3 L681.4,812.9 L682.3,812.6 L683.3,812.2 L684.2,811.9 L685.1,811.5 L686.0,811.2 L687.0,810.8 L687.9,810.5 L688.8,810.1 L689.8,809.8 L690.7,809.4 L691.6,809.1 L692.6,808.7 L693.5,808.4 L694.4,808.0 L695.4,807.6 L696.3,807.3 L697.2,806.9 L698.2,806.6 L699.1,806.2 L700.0,805.8 L700.9,805.5 L701.9,805.1 L702.8,804.7 L703.7,804.4 L704.7,804.0 L705.6,803.6 L706.5,803.3 L707.5,802.9 L708.4,802.5 L709.3,802.2 L710.3,801.8 L711.2,801.4 L712.1,801.0 L713.0,800.7 L714.0,800.3 L714.9,799.9 L715.8,799.5 L716.8,799.2 L717.7,798.8 L718.6,798.4 L719.6,798.0 L720.5,797.6 L721.4,797.2 L722.4,796.9 L723.3,796.5 L724.2,796.1 L725.2,795.7 L726.1,795.3 L727.0,794.9 L727.9,794.5 L728.9,794.1 L729.8,793.7 L730.7,793.4 L731.7,793.0 L732.6,792.6 L733.5,792.2 L734.5,791.8 L735.4,791.4 L736.3,791.0 L737.3,790.6 L738.2,790.2 L739.1,789.8 L740.1,789.4 L741.0,789.0 L741.9,788.6 L742.8,788.2 L743.8,787.7 L744.7,787.3 L745.6,786.9 L746.6,786.5 L747.5,786.1 L748.4,785.7 L749.4,785.3 L750.3,784.9 L751.2,784.5 L752.2,784.0 L753.1,783.6 L754.0,783.2 L755.0,782.8 L755.9,782.4 L756.8,781.9 L757.7,781.5 L758.7,781.1 L759.6,780.7 L760.5,780.3 L761.5,779.8 L762.4,779.4 L763.3,779.0 L764.3,778.5 L765.2,778.1 L766.1,777.7 L767.1,777.3 L768.0,776.8 L768.9,776.4 L769.9,776.0 L770.8,775.5 L771.7,775.1 L772.6,774.6 L773.6,774.2 L774.5,773.8 L775.4,773.3 L776.4,772.9 L777.3,772.4 L778.2,772.0 L779.2,771.6 L780.1,771.1 L781.0,770.7 L782.0,770.2 L782.9,769.8 L783.8,769.3 L784.8,768.9 L785.7,768.4 L786.6,768.0 L787.5,767.5 L788.5,767.1 L789.4,766.6 L790.3,766.1 L791.3,765.7 L792.2,765.2 L793.1,764.8 L794.1,764.3 L795.0,763.8 L795.9,763.4 L796.9,762.9 L797.8,762.4 L798.7,762.0 L799.7,761.5 L800.6,761.0 L801.5,760.6 L802.4,760.1 L803.4,759.6 L804.3,759.2 L805.2,758.7 L806.2,758.2 L807.1,757.7 L808.0,757.3 L809.0,756.8 L809.9,756.3 L810.8,755.8 L811.8,755.3 L812.7,754.9 L813.6,754.4 L814.6,753.9 L815.5,753.4 L816.4,752.9 L817.3,752.4 L818.3,751.9 L819.2,751.5 L820.1,751.0 L821.1,750.5 L822.0,750.0 L822.9,749.5 L823.9,749.0 L824.8,748.5 L825.7,748.0 L826.7,747.5 L827.6,747.0 L828.5,746.5 L829.4,746.0 L830.4,745.5 L831.3,745.0 L832.2,744.5 L833.2,744.0 L834.1,743.5 L835.0,743.0 L836.0,742.4 L836.9,741.9 L837.8,741.4 L838.8,740.9 L839.7,740.4 L840.6,739.9 L841.6,739.4 L842.5,738.8 L843.4,738.3 L844.3,737.8 L845.3,737.3 L846.2,736.8 L847.1,736.2 L848.1,735.7 L849.0,735.2 L849.9,734.7 L850.9,734.1 L851.8,733.6 L852.7,733.1 L853.7,732.6 L854.6,732.0 L855.5,731.5 L856.5,731.0 L857.4,730.4 L858.3,729.9 L859.2,729.3 L860.2,728.8 L861.1,728.3 L862.0,727.7 L863.0,727.2 L863.9,726.6 L864.8,726.1 L865.8,725.6 L866.7,725.0 L867.6,724.5 L868.6,723.9 L869.5,723.4 L870.4,722.8 L871.4,722.3 L872.3,721.7 L873.2,721.1 L874.1,720.6 L875.1,720.0 L876.0,719.5 L876.9,718.9 L877.9,718.4 L878.8,717.8 L879.7,717.2 L880.7,716.7 L881.6,716.1 L882.5,715.5 L883.5,715.0 L884.4,714.4 L885.3,713.8 L886.3,713.3 L887.2,712.7 L888.1,712.1 L889.0,711.5 L890.0,711.0 L890.9,710.4 L891.8,709.8 L892.8,709.2 L893.7,708.7 L894.6,708.1 L895.6,707.5 L896.5,706.9 L897.4,706.3 L898.4,705.7 L899.3,705.1 L900.2,704.6 L901.2,704.0 L902.1,703.4 L903.0,702.8 L903.9,702.2 L904.9,701.6 L905.8,701.0 L906.7,700.4 L907.7,699.8 L908.6,699.2 L909.5,698.6 L910.5,698.0 L911.4,697.4 L912.3,696.8 L913.3,696.2 L914.2,695.5 L915.1,694.9 L916.1,694.2 L917.0,693.6 L917.9,692.9 L918.8,692.1 L919.8,691.3 L920.6,690.4 L921.2,689.5 L921.6,688.6 L922.1,687.4 L922.4,686.3 L922.7,685.0 L922.9,684.1 L923.0,683.2 L923.2,682.1 L923.3,680.9 L923.5,679.6 L923.7,678.2 L923.8,676.8 L924.0,675.4 L924.1,674.3 L924.4,673.2 L924.7,674.2 L924.9,675.3 L925.1,676.7 L925.2,678.1 L925.4,679.5 L925.5,680.8 L925.7,682.0 L925.8,683.1 L926.0,684.1 L926.1,685.0 L926.4,686.4 L926.8,687.6 L927.1,688.6 L927.4,689.5 L927.8,690.6 L928.5,691.5 L929.4,691.0 L929.9,690.2 L930.3,689.1 L930.8,688.1 L931.3,687.2 L931.7,686.3 L932.3,685.4 L933.0,684.5 L933.7,683.7 L934.7,682.7 L935.6,681.9 L936.5,681.1 L937.5,680.4 L938.4,679.7 L939.3,679.0 L940.3,678.3 L941.2,677.6 L942.1,677.0 L943.1,676.3 L944.0,675.7 L944.9,675.0 L945.8,674.3 L946.8,673.7 L947.7,673.0 L948.6,672.4 L949.6,671.7 L950.5,671.0 L951.4,670.4 L952.4,669.7 L953.3,669.1 L954.2,668.4 L955.2,667.7 L956.1,667.1 L957.0,666.4 L958.0,665.7 L958.9,665.1 L959.8,664.4 L960.7,663.7 L961.7,663.1 L962.6,662.4 L963.5,661.7 L964.5,661.0 L965.4,660.4 L966.3,659.7 L967.3,659.0 L968.2,658.3 L969.1,657.7 L970.1,657.0 L971.0,656.3 L971.9,655.6 L972.9,654.9 L973.8,654.2 L974.7,653.6 L975.6,652.9 L976.6,652.2 L977.5,651.5 L978.4,650.8 L979.4,650.1 L980.3,649.4 L981.2,648.7 L982.2,648.0 L983.1,647.3 L984.0,646.6 L985.0,645.9 L985.9,645.2 L986.8,644.5 L987.8,643.8 L988.7,643.1 L989.6,642.4 L990.5,641.7 L991.5,641.0 L992.4,640.3 L993.3,639.6 L994.3,638.9 L995.2,638.1 L996.1,637.4 L997.1,636.7 L998.0,636.0 L998.9,635.3 L999.9,634.6 L1000.8,633.8 L1001.7,633.1 L1002.7,632.4 L1003.6,631.7 L1004.5,630.9 L1005.4,630.2 L1006.4,629.5 L1007.3,628.7 L1008.2,628.0 L1009.2,627.3 L1010.1,626.5 L1011.0,625.8 L1012.0,625.1 L1012.9,624.3 L1013.8,623.6 L1014.8,622.9 L1015.7,622.1 L1016.6,621.4 L1017.6,620.6 L1018.5,619.9 L1019.4,619.1 L1020.3,618.4 L1021.3,617.6 L1022.2,616.9 L1023.1,616.1 L1024.1,615.4 L1025.0,614.6 L1025.9,613.9 L1026.9,613.1 L1027.8,612.3 L1028.7,611.6 L1029.7,610.8 L1030.6,610.1 L1031.5,609.3 L1032.5,608.5 L1033.4,607.8 L1034.3,607.0 L1035.2,606.2 L1036.2,605.5 L1037.1,604.7 L1038.0,603.9 L1039.0,603.1 L1039.9,602.4 L1040.8,601.6 L1041.8,600.8 L1042.7,600.0 L1043.6,599.2 L1044.6,598.5 L1045.5,597.7 L1046.4,596.9 L1047.4,596.1 L1048.3,595.3 L1049.2,594.5 L1050.1,593.7 L1051.1,593.0 L1052.0,592.2 L1052.9,591.4 L1053.9,590.6 L1054.8,589.8 L1055.7,589.0 L1056.7,588.2 L1057.6,587.4 L1058.5,586.6 L1059.5,585.8 L1060.4,585.0 L1061.3,584.2 L1062.2,583.4 L1063.2,582.6 L1064.1,581.7 L1065.0,580.9 L1066.0,580.1 L1066.9,579.3 L1067.8,578.5 L1068.8,577.7 L1069.7,576.9 L1070.6,576.0 L1071.6,575.2 L1072.5,574.4 L1073.4,573.6 L1074.4,572.8 L1075.3,571.9 L1076.2,571.1 L1077.1,570.3 L1078.1,569.5 L1079.0,568.6 L1079.9,567.8 L1080.9,567.0 L1081.8,566.1 L1082.7,565.3 L1083.7,564.5 L1084.6,563.6 L1085.5,562.8 L1086.5,561.9 L1087.4,561.1 L1088.3,560.2 L1089.3,559.4 L1090.2,558.6 L1091.1,557.7 L1092.0,556.9 L1093.0,556.0 L1093.9,555.2 L1094.8,554.3 L1095.8,553.5 L1096.7,552.6 L1097.6,551.7 L1098.6,550.9 L1099.5,550.0 L1100.4,549.2 L1101.4,548.3 L1102.3,547.4 L1103.2,546.6 L1104.2,545.7 L1105.1,544.9 L1106.0,544.0 L1106.9,543.1 L1107.9,542.2 L1108.8,541.4 L1109.7,540.5 L1110.7,539.6 L1111.6,538.8 L1112.5,537.9 L1113.5,537.0 L1114.4,536.1 L1115.3,535.2 L1116.3,534.4 L1117.2,533.5 L1118.1,532.6 L1119.1,531.7 L1120.0,530.8 L1120.9,529.9 L1121.8,529.0 L1122.8,528.1 L1123.7,527.3 L1124.6,526.4 L1125.6,525.5 L1126.5,524.6 L1127.4,523.7 L1128.4,522.8 L1129.3,521.9 L1130.2,521.0 L1131.2,520.1 L1132.1,519.2 L1133.0,518.2 L1134.0,517.3 L1134.9,516.4 L1135.8,515.5 L1136.7,514.6 L1137.7,513.7 L1138.6,512.7 L1139.5,511.8 L1140.5,510.8 L1141.2,510.0 L1142.0,509.2 L1142.8,508.4 L1143.6,507.5 L1144.4,506.5 L1145.0,505.7 L1145.6,504.7 L1146.1,503.8 L1146.5,502.8 L1146.8,501.9 L1147.1,500.9 L1147.5,499.6 L1147.8,498.0 L1147.9,497.1 L1148.1,496.0 L1148.2,494.7 L1148.4,493.3 L1148.5,491.8 L1148.7,490.2 L1148.9,488.5 L1149.0,487.0 L1149.2,485.6 L1149.3,484.7 L1149.9,486.5 L1150.1,487.9 L1150.2,489.4 L1150.4,490.9 L1150.6,492.3 L1150.7,493.6 L1150.9,494.7 L1151.0,495.6 L1151.2,496.5 L1151.5,497.9 L1151.8,499.1 L1152.1,500.0 L1152.4,500.8 L1152.9,501.9 L1153.4,502.8 L1154.1,503.7 L1155.1,502.8 L1155.5,501.7 L1155.8,500.8 L1156.1,500.0 L1156.5,499.1 L1156.8,498.3 L1157.2,497.2 L1157.7,496.2 L1158.2,495.3 L1158.6,494.5 L1159.2,493.5 L1159.9,492.7 L1160.5,491.8 L1161.3,490.9 L1162.0,490.0 L1162.8,489.1 L1163.6,488.2 L1164.4,487.4 L1165.1,486.5 L1165.9,485.7 L1166.7,484.9 L1167.5,484.0 L1168.3,483.2 L1169.0,482.4 L1169.8,481.6 L1170.6,480.8 L1171.4,480.0 L1172.1,479.2 L1172.9,478.4 L1173.7,477.6 L1174.5,476.7 L1175.2,475.9 L1176.0,475.1 L1176.8,474.3 L1177.6,473.5 L1178.3,472.7 L1179.1,471.9 L1179.9,471.1 L1180.7,470.3 L1181.4,469.5 L1182.2,468.6 L1183.0,467.8 L1183.8,467.0 L1184.5,466.2 L1185.3,465.4 L1186.1,464.6 L1186.9,463.7 L1187.7,462.9 L1188.4,462.1 L1189.2,461.3 L1190.0,460.5 L1190.8,459.7 L1191.5,458.8 L1192.3,458.0 L1193.1,457.2 L1193.9,456.4 L1194.6,455.5 L1195.4,454.7 L1196.2,453.9 L1197.0,453.1 L1197.7,452.2 L1198.5,451.4 L1199.3,450.6 L1200.1,449.7 L1200.8,448.9 L1201.6,448.1 L1202.4,447.2 L1203.2,446.4 L1203.9,445.6 L1204.7,444.7 L1205.5,443.9 L1206.3,443.1 L1207.1,442.2 L1207.8,441.4 L1208.6,440.5 L1209.4,439.7" fill="none" stroke="#0000ff" stroke-width="6"/></g>
<rect x="589.2" y="346.4" width="620.8" height="500.9" fill="none" stroke="#6a6a6a" stroke-width="2.2"/>
<line x1="589.2" y1="731.7" x2="600.0" y2="731.7" stroke="#6a6a6a" stroke-width="2" />
<line x1="589.2" y1="539.0" x2="600.0" y2="539.0" stroke="#6a6a6a" stroke-width="2" />
<line x1="589.2" y1="828.0" x2="596.0" y2="828.0" stroke="#6a6a6a" stroke-width="2" />
<line x1="589.2" y1="635.4" x2="596.0" y2="635.4" stroke="#6a6a6a" stroke-width="2" />
<line x1="589.2" y1="442.7" x2="596.0" y2="442.7" stroke="#6a6a6a" stroke-width="2" />
<line x1="899.6" y1="847.3" x2="899.6" y2="836.0" stroke="#6a6a6a" stroke-width="2" />
<line x1="744.4" y1="847.3" x2="744.4" y2="840.0" stroke="#6a6a6a" stroke-width="2" />
<line x1="1054.8" y1="847.3" x2="1054.8" y2="840.0" stroke="#6a6a6a" stroke-width="2" />
<text x="497.6" y="364.0" font-size="55" textLength="82.5" lengthAdjust="spacingAndGlyphs" fill="#000" >150</text>
<text x="497.6" y="557.5" font-size="55" textLength="82.5" lengthAdjust="spacingAndGlyphs" fill="#000" >100</text>
<text x="525.1" y="749.5" font-size="55" textLength="55.0" lengthAdjust="spacingAndGlyphs" fill="#000" >50</text>
<text x="575.7" y="900.0" font-size="55" textLength="27.5" lengthAdjust="spacingAndGlyphs" fill="#000" >5</text>
<text x="886.4" y="900.0" font-size="55" textLength="27.5" lengthAdjust="spacingAndGlyphs" fill="#000" >6</text>
<text x="1195.2" y="900.0" font-size="55" textLength="27.5" lengthAdjust="spacingAndGlyphs" fill="#000" >7</text>
<text x="765.1" y="740.0" font-size="50" textLength="30.2" lengthAdjust="spacingAndGlyphs" fill="#ff0000" >2</text>
<text x="893.5" y="677.0" font-size="50" textLength="27.9" lengthAdjust="spacingAndGlyphs" fill="#000" >2</text>
<text x="926.6" y="650.0" font-size="30" textLength="11.5" lengthAdjust="spacingAndGlyphs" fill="#000" >*</text>
<text x="975.5" y="602.6" font-size="50" textLength="24.7" lengthAdjust="spacingAndGlyphs" fill="#ff0000" >3</text>
<text x="1114.7" y="494.8" font-size="50" textLength="27.0" lengthAdjust="spacingAndGlyphs" fill="#000" >3</text>
<text x="1145.9" y="468.0" font-size="30" textLength="11.2" lengthAdjust="spacingAndGlyphs" fill="#000" >*</text>
<ellipse cx="1167.5" cy="960.5" rx="166.5" ry="39" fill="none" stroke="#222" stroke-width="2.6" stroke-dasharray="13,9"/>
<line x1="1197.6" y1="917.0" x2="1138.0" y2="873.0" stroke="#222" stroke-width="2.6" stroke-dasharray="13,9"/>
<polygon points="1124.0,863.4 1144.3,869.5 1136.0,880.8" fill="#111" />
<clipPath id="bt"><rect x="1630" y="120" width="711.5" height="470"/></clipPath>
<clipPath id="bb"><rect x="1630" y="590" width="711.5" height="470"/></clipPath>
<path clip-path="url(#bt)" d="M1630.0,589.2 L1630.8,589.1 L1631.6,589.1 L1632.4,589.1 L1633.2,589.1 L1634.0,589.1 L1634.8,589.1 L1635.6,589.1 L1636.4,589.1 L1637.2,589.1 L1638.0,589.1 L1638.8,589.1 L1639.6,589.1 L1640.4,589.1 L1641.2,589.1 L1642.0,589.1 L1642.8,589.1 L1643.6,589.0 L1644.4,589.0 L1645.2,589.0 L1646.0,589.0 L1646.8,589.0 L1647.6,589.0 L1648.4,589.0 L1649.2,589.0 L1650.0,589.0 L1650.8,589.0 L1651.6,589.0 L1652.4,589.0 L1653.2,589.0 L1654.0,588.9 L1654.8,588.9 L1655.6,588.9 L1656.4,588.9 L1657.2,588.9 L1658.0,588.9 L1658.8,588.9 L1659.6,588.9 L1660.4,588.9 L1661.2,588.9 L1662.0,588.9 L1662.8,588.8 L1663.6,588.8 L1664.4,588.8 L1665.2,588.8 L1666.0,588.8 L1666.8,588.8 L1667.6,588.8 L1668.4,588.8 L1669.2,588.8 L1670.0,588.8 L1670.8,588.7 L1671.6,588.7 L1672.4,588.7 L1673.2,588.7 L1674.0,588.7 L1674.8,588.7 L1675.6,588.7 L1676.4,588.7 L1677.2,588.7 L1678.0,588.6 L1678.8,588.6 L1679.6,588.6 L1680.4,588.6 L1681.2,588.6 L1682.0,588.6 L1682.8,588.6 L1683.6,588.5 L1684.4,588.5 L1685.2,588.5 L1686.0,588.5 L1686.8,588.5 L1687.6,588.5 L1688.4,588.4 L1689.2,588.4 L1690.0,588.4 L1690.8,588.4 L1691.6,588.4 L1692.4,588.3 L1693.2,588.3 L1694.0,588.3 L1694.8,588.3 L1695.6,588.3 L1696.4,588.2 L1697.2,588.2 L1698.0,588.2 L1698.8,588.1 L1699.6,588.1 L1700.4,588.1 L1701.2,588.0 L1702.0,588.0 L1702.8,588.0 L1703.6,587.9 L1704.4,587.9 L1705.2,587.9 L1706.0,587.8 L1706.8,587.8 L1707.6,587.7 L1708.4,587.6 L1709.2,587.6 L1710.0,587.5 L1710.8,587.4 L1711.6,587.4 L1712.4,587.3 L1713.2,587.2 L1714.0,587.1 L1714.8,587.0 L1715.6,586.9 L1716.4,586.7 L1717.2,586.6 L1718.0,586.4 L1718.8,586.3 L1719.6,586.1 L1720.4,585.8 L1721.2,585.6 L1722.0,585.3 L1722.8,584.9 L1723.6,584.5 L1724.4,584.1 L1725.2,583.5 L1726.0,582.9 L1726.8,582.1 L1727.6,581.3 L1728.2,580.4 L1728.7,579.6 L1729.2,578.8 L1729.6,577.8 L1730.0,577.0 L1730.3,576.0 L1730.6,575.2 L1730.8,574.3 L1731.1,573.3 L1731.4,572.2 L1731.6,571.4 L1731.7,570.6 L1731.9,569.6 L1732.1,568.6 L1732.3,567.4 L1732.4,566.2 L1732.6,564.8 L1732.8,563.3 L1732.9,562.4 L1733.0,561.5 L1733.1,560.6 L1733.2,559.6 L1733.2,558.5 L1733.3,557.4 L1733.4,556.2 L1733.5,554.9 L1733.6,553.5 L1733.7,552.0 L1733.8,550.4 L1733.9,548.7 L1734.0,546.8 L1734.0,544.8 L1734.1,542.5 L1734.2,540.1 L1734.3,537.4 L1734.4,534.5 L1734.5,531.3 L1734.6,527.7 L1734.7,523.8 L1734.8,519.4 L1734.8,514.5 L1734.9,509.0 L1735.0,502.9 L1735.1,495.9 L1735.2,488.0 L1735.3,479.0 L1735.4,468.7 L1735.5,457.0 L1735.6,443.5 L1735.6,428.1 L1735.7,410.3 L1735.8,389.9 L1735.9,366.5 L1736.0,340.1 L1736.1,310.5 L1736.2,278.1 L1736.3,243.8 L1736.4,209.3 L1736.4,177.1 L1736.5,150.4 L1736.6,132.6 L1736.7,126.3 L1736.8,132.6 L1736.9,150.4 L1737.0,177.1 L1737.1,209.3 L1737.2,243.8 L1737.2,278.1 L1737.3,310.5 L1737.4,340.0 L1737.5,366.5 L1737.6,389.8 L1737.7,410.3 L1737.8,428.0 L1737.9,443.5 L1738.0,457.0 L1738.0,468.7 L1738.1,479.0 L1738.2,487.9 L1738.3,495.8 L1738.4,502.8 L1738.5,509.0 L1738.6,514.5 L1738.7,519.4 L1738.8,523.7 L1738.8,527.7 L1738.9,531.2 L1739.0,534.5 L1739.1,537.4 L1739.2,540.0 L1739.3,542.5 L1739.4,544.7 L1739.5,546.7 L1739.6,548.6 L1739.6,550.3 L1739.7,551.9 L1739.8,553.4 L1739.9,554.8 L1740.0,556.1 L1740.1,557.3 L1740.2,558.5 L1740.3,559.5 L1740.4,560.5 L1740.4,561.4 L1740.5,562.3 L1740.6,563.2 L1740.8,564.7 L1741.0,566.1 L1741.2,567.3 L1741.3,568.5 L1741.5,569.5 L1741.7,570.4 L1741.9,571.3 L1742.0,572.1 L1742.3,573.2 L1742.6,574.2 L1742.8,575.1 L1743.2,576.1 L1743.6,577.0 L1743.9,577.8 L1744.4,578.7 L1744.9,579.7 L1745.5,580.6 L1746.2,581.5 L1747.0,582.3 L1747.8,583.0 L1748.6,583.5 L1749.4,584.0 L1750.2,584.4 L1751.0,584.7 L1751.8,585.0 L1752.6,585.3 L1753.4,585.5 L1754.2,585.7 L1755.0,585.9 L1755.8,586.0 L1756.6,586.1 L1757.4,586.3 L1758.2,586.4 L1759.0,586.4 L1759.8,586.5 L1760.6,586.6 L1761.4,586.7 L1762.2,586.7 L1763.0,586.8 L1763.8,586.8 L1764.6,586.9 L1765.4,586.9 L1766.2,586.9 L1767.0,587.0 L1767.8,587.0 L1768.6,587.0 L1769.4,587.0 L1770.2,587.0 L1771.0,587.1 L1771.8,587.1 L1772.6,587.1 L1773.4,587.1 L1774.2,587.1 L1775.0,587.1 L1775.8,587.1 L1776.6,587.1 L1777.4,587.1 L1778.2,587.1 L1779.0,587.1 L1779.8,587.1 L1780.6,587.1 L1781.4,587.1 L1782.2,587.1 L1783.0,587.1 L1783.8,587.1 L1784.6,587.1 L1785.4,587.1 L1786.2,587.1 L1787.0,587.1 L1787.8,587.1 L1788.6,587.1 L1789.4,587.1 L1790.2,587.1 L1791.0,587.1 L1791.8,587.1 L1792.6,587.1 L1793.4,587.0 L1794.2,587.0 L1795.0,587.0 L1795.8,587.0 L1796.6,587.0 L1797.4,587.0 L1798.2,587.0 L1799.0,587.0 L1799.8,587.0 L1800.6,586.9 L1801.4,586.9 L1802.2,586.9 L1803.0,586.9 L1803.8,586.9 L1804.6,586.9 L1805.4,586.9 L1806.2,586.9 L1807.0,586.8 L1807.8,586.8 L1808.7,586.8 L1809.5,586.8 L1810.3,586.8 L1811.1,586.8 L1811.9,586.8 L1812.7,586.7 L1813.5,586.7 L1814.3,586.7 L1815.1,586.7 L1815.9,586.7 L1816.7,586.7 L1817.5,586.7 L1818.3,586.6 L1819.1,586.6 L1819.9,586.6 L1820.7,586.6 L1821.5,586.6 L1822.3,586.6 L1823.1,586.5 L1823.9,586.5 L1824.7,586.5 L1825.5,586.5 L1826.3,586.5 L1827.1,586.4 L1827.9,586.4 L1828.7,586.4 L1829.5,586.4 L1830.3,586.4 L1831.1,586.4 L1831.9,586.3 L1832.7,586.3 L1833.5,586.3 L1834.3,586.3 L1835.1,586.3 L1835.9,586.2 L1836.7,586.2 L1837.5,586.2 L1838.3,586.2 L1839.1,586.2 L1839.9,586.1 L1840.7,586.1 L1841.5,586.1 L1842.3,586.1 L1843.1,586.1 L1843.9,586.0 L1844.7,586.0 L1845.5,586.0 L1846.3,586.0 L1847.1,586.0 L1847.9,585.9 L1848.7,585.9 L1849.5,585.9 L1850.3,585.9 L1851.1,585.9 L1851.9,585.8 L1852.7,585.8 L1853.5,585.8 L1854.3,585.8 L1855.1,585.7 L1855.9,585.7 L1856.7,585.7 L1857.5,585.7 L1858.3,585.7 L1859.1,585.6 L1859.9,585.6 L1860.7,585.6 L1861.5,585.6 L1862.3,585.5 L1863.1,585.5 L1863.9,585.5 L1864.7,585.5 L1865.5,585.4 L1866.3,585.4 L1867.1,585.4 L1867.9,585.4 L1868.7,585.3 L1869.5,585.3 L1870.3,585.3 L1871.1,585.3 L1871.9,585.2 L1872.7,585.2 L1873.5,585.2 L1874.3,585.2 L1875.1,585.1 L1875.9,585.1 L1876.7,585.1 L1877.5,585.1 L1878.3,585.0 L1879.1,585.0 L1879.9,585.0 L1880.7,585.0 L1881.5,584.9 L1882.3,584.9 L1883.1,584.9 L1883.9,584.9 L1884.7,584.8 L1885.5,584.8 L1886.3,584.8 L1887.1,584.8 L1887.9,584.7 L1888.7,584.7 L1889.5,584.7 L1890.3,584.6 L1891.1,584.6 L1891.9,584.6 L1892.7,584.6 L1893.5,584.5 L1894.3,584.5 L1895.1,584.5 L1895.9,584.4 L1896.7,584.4 L1897.5,584.4 L1898.3,584.4 L1899.1,584.3 L1899.9,584.3 L1900.7,584.3 L1901.5,584.2 L1902.3,584.2 L1903.1,584.2 L1903.9,584.1 L1904.7,584.1 L1905.5,584.1 L1906.3,584.1 L1907.1,584.0 L1907.9,584.0 L1908.7,584.0 L1909.5,583.9 L1910.3,583.9 L1911.1,583.9 L1911.9,583.8 L1912.7,583.8 L1913.5,583.8 L1914.3,583.7 L1915.1,583.7 L1915.9,583.7 L1916.7,583.6 L1917.5,583.6 L1918.3,583.6 L1919.1,583.5 L1919.9,583.5 L1920.7,583.5 L1921.5,583.4 L1922.3,583.4 L1923.1,583.4 L1923.9,583.3 L1924.7,583.3 L1925.5,583.3 L1926.3,583.2 L1927.1,583.2 L1927.9,583.2 L1928.7,583.1 L1929.5,583.1 L1930.3,583.1 L1931.1,583.0 L1931.9,583.0 L1932.7,583.0 L1933.5,582.9 L1934.3,582.9 L1935.1,582.8 L1935.9,582.8 L1936.7,582.8 L1937.5,582.7 L1938.3,582.7 L1939.1,582.7 L1939.9,582.6 L1940.7,582.6 L1941.5,582.6 L1942.3,582.5 L1943.1,582.5 L1943.9,582.4 L1944.7,582.4 L1945.5,582.4 L1946.3,582.3 L1947.1,582.3 L1947.9,582.2 L1948.7,582.2 L1949.5,582.2 L1950.3,582.1 L1951.1,582.1 L1951.9,582.1 L1952.7,582.0 L1953.5,582.0 L1954.3,581.9 L1955.1,581.9 L1955.9,581.8 L1956.7,581.8 L1957.5,581.8 L1958.3,581.7 L1959.1,581.7 L1959.9,581.6 L1960.7,581.6 L1961.5,581.6 L1962.3,581.5 L1963.1,581.5 L1963.9,581.4 L1964.7,581.4 L1965.5,581.3 L1966.3,581.3 L1967.1,581.3 L1967.9,581.2 L1968.7,581.2 L1969.5,581.1 L1970.3,581.1 L1971.1,581.0 L1971.9,581.0 L1972.7,581.0 L1973.5,580.9 L1974.3,580.9 L1975.1,580.8 L1975.9,580.8 L1976.7,580.7 L1977.5,580.7 L1978.3,580.6 L1979.1,580.6 L1979.9,580.5 L1980.7,580.5 L1981.5,580.5 L1982.3,580.4 L1983.1,580.4 L1983.9,580.3 L1984.7,580.3 L1985.5,580.2 L1986.3,580.2 L1987.1,580.1 L1987.9,580.1 L1988.7,580.0 L1989.5,580.0 L1990.3,579.9 L1991.1,579.9 L1991.9,579.8 L1992.7,579.8 L1993.5,579.7 L1994.3,579.7 L1995.1,579.6 L1995.9,579.6 L1996.7,579.5 L1997.5,579.5 L1998.3,579.4 L1999.1,579.4 L1999.9,579.3 L2000.7,579.3 L2001.5,579.2 L2002.3,579.2 L2003.1,579.1 L2003.9,579.1 L2004.7,579.0 L2005.5,579.0 L2006.3,578.9 L2007.1,578.9 L2007.9,578.8 L2008.7,578.8 L2009.5,578.7 L2010.3,578.6 L2011.1,578.6 L2011.9,578.5 L2012.7,578.5 L2013.5,578.4 L2014.3,578.4 L2015.1,578.3 L2015.9,578.3 L2016.7,578.2 L2017.5,578.2 L2018.3,578.1 L2019.1,578.0 L2019.9,578.0 L2020.7,577.9 L2021.5,577.9 L2022.3,577.8 L2023.1,577.8 L2023.9,577.7 L2024.7,577.6 L2025.5,577.6 L2026.3,577.5 L2027.1,577.5 L2027.9,577.4 L2028.7,577.3 L2029.5,577.3 L2030.3,577.2 L2031.1,577.2 L2031.9,577.1 L2032.7,577.0 L2033.5,577.0 L2034.3,576.9 L2035.1,576.9 L2035.9,576.8 L2036.7,576.7 L2037.5,576.7 L2038.3,576.6 L2039.1,576.6 L2039.9,576.5 L2040.7,576.4 L2041.5,576.4 L2042.3,576.3 L2043.1,576.2 L2043.9,576.2 L2044.7,576.1 L2045.5,576.1 L2046.3,576.0 L2047.1,575.9 L2047.9,575.9 L2048.7,575.8 L2049.5,575.7 L2050.3,575.7 L2051.1,575.6 L2051.9,575.5 L2052.7,575.5 L2053.5,575.4 L2054.4,575.3 L2055.2,575.3 L2056.0,575.2 L2056.8,575.1 L2057.6,575.1 L2058.4,575.0 L2059.2,574.9 L2060.0,574.9 L2060.8,574.8 L2061.6,574.7 L2062.4,574.7 L2063.2,574.6 L2064.0,574.5 L2064.8,574.4 L2065.6,574.4 L2066.4,574.3 L2067.2,574.2 L2068.0,574.2 L2068.8,574.1 L2069.6,574.0 L2070.4,573.9 L2071.2,573.9 L2072.0,573.8 L2072.8,573.7 L2073.6,573.7 L2074.4,573.6 L2075.2,573.5 L2076.0,573.4 L2076.8,573.4 L2077.6,573.3 L2078.4,573.2 L2079.2,573.1 L2080.0,573.1 L2080.8,573.0 L2081.6,572.9 L2082.4,572.8 L2083.2,572.8 L2084.0,572.7 L2084.8,572.6 L2085.6,572.5 L2086.4,572.5 L2087.2,572.4 L2088.0,572.3 L2088.8,572.2 L2089.6,572.1 L2090.4,572.1 L2091.2,572.0 L2092.0,571.9 L2092.8,571.8 L2093.6,571.7 L2094.4,571.7 L2095.2,571.6 L2096.0,571.5 L2096.8,571.4 L2097.6,571.3 L2098.4,571.3 L2099.2,571.2 L2100.0,571.1 L2100.8,571.0 L2101.6,570.9 L2102.4,570.8 L2103.2,570.8 L2104.0,570.7 L2104.8,570.6 L2105.6,570.4 L2106.4,570.2 L2107.2,569.5 L2108.0,569.6 L2108.8,570.3 L2109.6,570.4 L2110.4,570.3 L2111.2,570.1 L2112.0,569.9 L2112.8,569.8 L2113.6,569.7 L2114.4,569.6 L2115.2,569.5 L2116.0,569.4 L2116.8,569.3 L2117.6,569.2 L2118.4,569.1 L2119.2,569.0 L2120.0,569.0 L2120.8,568.9 L2121.6,568.8 L2122.4,568.7 L2123.2,568.6 L2124.0,568.5 L2124.8,568.4 L2125.6,568.3 L2126.4,568.2 L2127.2,568.1 L2128.0,568.0 L2128.8,567.9 L2129.6,567.9 L2130.4,567.8 L2131.2,567.7 L2132.0,567.6 L2132.8,567.5 L2133.6,567.4 L2134.4,567.3 L2135.2,567.2 L2136.0,567.1 L2136.8,567.0 L2137.6,566.9 L2138.4,566.8 L2139.2,566.7 L2140.0,566.6 L2140.8,566.5 L2141.6,566.4 L2142.4,566.3 L2143.2,566.2 L2144.0,566.1 L2144.8,566.0 L2145.6,565.9 L2146.4,565.8 L2147.2,565.7 L2148.0,565.6 L2148.8,565.5 L2149.6,565.4 L2150.4,565.3 L2151.2,565.2 L2152.0,565.1 L2152.8,565.0 L2153.6,564.9 L2154.4,564.8 L2155.2,564.7 L2156.0,564.6 L2156.8,564.5 L2157.6,564.4 L2158.4,564.3 L2159.2,564.2 L2160.0,564.1 L2160.8,564.0 L2161.6,563.9 L2162.4,563.8 L2163.2,563.6 L2164.0,563.5 L2164.8,563.4 L2165.6,563.3 L2166.4,563.2 L2167.2,563.1 L2168.0,563.0 L2168.8,562.9 L2169.6,562.8 L2170.4,562.7 L2171.2,562.6 L2172.0,562.4 L2172.8,562.3 L2173.6,562.2 L2174.4,562.1 L2175.2,562.0 L2176.0,561.9 L2176.8,561.8 L2177.6,561.7 L2178.4,561.6 L2179.2,561.4 L2180.0,561.3 L2180.8,561.2 L2181.6,561.1 L2182.4,561.0 L2183.2,560.9 L2184.0,560.7 L2184.8,560.6 L2185.6,560.5 L2186.4,560.4 L2187.2,560.3 L2188.0,560.2 L2188.8,560.0 L2189.6,559.9 L2190.4,559.8 L2191.2,559.7 L2192.0,559.6 L2192.8,559.5 L2193.6,559.3 L2194.4,559.2 L2195.2,559.1 L2196.0,559.0 L2196.8,558.8 L2197.6,558.7 L2198.4,558.6 L2199.2,558.5 L2200.0,558.4 L2200.8,558.2 L2201.6,558.1 L2202.4,558.0 L2203.2,557.9 L2204.0,557.7 L2204.8,557.6 L2205.6,557.5 L2206.4,557.4 L2207.2,557.2 L2208.0,557.1 L2208.8,557.0 L2209.6,556.9 L2210.4,556.7 L2211.2,556.6 L2212.0,556.5 L2212.8,556.3 L2213.6,556.2 L2214.4,556.1 L2215.2,555.9 L2216.0,555.8 L2216.8,555.7 L2217.6,555.6 L2218.4,555.4 L2219.2,555.3 L2220.0,555.2 L2220.8,555.0 L2221.6,554.9 L2222.4,554.8 L2223.2,554.6 L2224.0,554.5 L2224.8,554.3 L2225.6,554.1 L2226.4,553.5 L2227.2,553.0 L2228.0,553.8 L2228.8,554.0 L2229.6,553.8 L2230.4,553.6 L2231.2,553.4 L2232.0,553.2 L2232.8,553.0 L2233.6,552.9 L2234.4,552.7 L2235.2,552.6 L2236.0,552.4 L2236.8,552.3 L2237.6,552.2 L2238.4,552.0 L2239.2,551.9 L2240.0,551.7 L2240.8,551.6 L2241.6,551.4 L2242.4,551.3 L2243.2,551.2 L2244.0,551.0 L2244.8,550.9 L2245.6,550.7 L2246.4,550.6 L2247.2,550.4 L2248.0,550.3 L2248.8,550.1 L2249.6,550.0 L2250.4,549.9 L2251.2,549.7 L2252.0,549.6 L2252.8,549.4 L2253.6,549.3 L2254.4,549.1 L2255.2,549.0 L2256.0,548.8 L2256.8,548.7 L2257.6,548.5 L2258.4,548.4 L2259.2,548.2 L2260.0,548.1 L2260.8,547.9 L2261.6,547.8 L2262.4,547.6 L2263.2,547.4 L2264.0,547.3 L2264.8,547.1 L2265.6,547.0 L2266.4,546.8 L2267.2,546.7 L2268.0,546.5 L2268.8,546.4 L2269.6,546.2 L2270.4,546.1 L2271.2,545.9 L2272.0,545.7 L2272.8,545.6 L2273.6,545.4 L2274.4,545.3 L2275.2,545.1 L2276.0,544.9 L2276.8,544.8 L2277.6,544.6 L2278.4,544.5 L2279.2,544.3 L2280.0,544.1 L2280.8,544.0 L2281.6,543.8 L2282.4,543.7 L2283.2,543.5 L2284.0,543.3 L2284.8,543.2 L2285.6,543.0 L2286.4,542.8 L2287.2,542.7 L2288.0,542.5 L2288.8,542.3 L2289.6,542.2 L2290.4,542.0 L2291.2,541.8 L2292.0,541.7 L2292.8,541.5 L2293.6,541.3 L2294.4,541.2 L2295.2,541.0 L2296.0,540.8 L2296.8,540.7 L2297.6,540.5 L2298.4,540.3 L2299.2,540.1 L2300.0,540.0 L2300.9,539.8 L2301.7,539.6 L2302.5,539.5 L2303.3,539.3 L2304.1,539.1 L2304.9,538.9 L2305.7,538.8 L2306.5,538.6 L2307.3,538.4 L2308.1,538.2 L2308.9,538.1 L2309.7,537.9 L2310.5,537.7 L2311.3,537.5 L2312.1,537.3 L2312.9,537.2 L2313.7,537.0 L2314.5,536.8 L2315.3,536.6 L2316.1,536.5 L2316.9,536.3 L2317.7,536.1 L2318.5,535.9 L2319.3,535.7 L2320.1,535.5 L2320.9,535.4 L2321.7,535.2 L2322.5,535.0 L2323.3,534.8 L2324.1,534.6 L2324.9,534.4 L2325.7,534.3 L2326.5,534.1 L2327.3,533.9 L2328.1,533.7 L2328.9,533.5 L2329.7,533.3 L2330.5,533.1 L2331.3,533.0 L2332.1,532.8 L2332.9,532.6 L2333.7,532.4 L2334.5,532.2 L2335.3,532.0 L2336.1,531.8 L2336.9,531.6 L2337.7,531.4 L2338.5,531.2 L2339.3,531.1 L2340.1,530.9 L2340.9,530.7" fill="none" stroke="#ff1010" stroke-width="3.6"/>
<path clip-path="url(#bb)" d="M1630.0,1057.3 L1630.8,1057.3 L1631.6,1057.3 L1632.4,1057.3 L1633.2,1057.3 L1634.0,1057.3 L1634.8,1057.3 L1635.6,1057.3 L1636.4,1057.3 L1637.2,1057.3 L1638.0,1057.3 L1638.8,1057.3 L1639.6,1057.3 L1640.4,1057.2 L1641.2,1057.2 L1642.0,1057.2 L1642.8,1057.2 L1643.6,1057.2 L1644.4,1057.2 L1645.2,1057.2 L1646.0,1057.2 L1646.8,1057.2 L1647.6,1057.2 L1648.4,1057.2 L1649.2,1057.2 L1650.0,1057.2 L1650.8,1057.2 L1651.6,1057.2 L1652.4,1057.2 L1653.2,1057.2 L1654.0,1057.1 L1654.8,1057.1 L1655.6,1057.1 L1656.4,1057.1 L1657.2,1057.1 L1658.0,1057.1 L1658.8,1057.1 L1659.6,1057.1 L1660.4,1057.1 L1661.2,1057.1 L1662.0,1057.1 L1662.8,1057.1 L1663.6,1057.1 L1664.4,1057.0 L1665.2,1057.0 L1666.0,1057.0 L1666.8,1057.0 L1667.6,1057.0 L1668.4,1057.0 L1669.2,1057.0 L1670.0,1057.0 L1670.8,1057.0 L1671.6,1057.0 L1672.4,1057.0 L1673.2,1056.9 L1674.0,1056.9 L1674.8,1056.9 L1675.6,1056.9 L1676.4,1056.9 L1677.2,1056.9 L1678.0,1056.9 L1678.8,1056.9 L1679.6,1056.9 L1680.4,1056.9 L1681.2,1056.8 L1682.0,1056.8 L1682.8,1056.8 L1683.6,1056.8 L1684.4,1056.8 L1685.2,1056.8 L1686.0,1056.8 L1686.8,1056.7 L1687.6,1056.7 L1688.4,1056.7 L1689.2,1056.7 L1690.0,1056.7 L1690.8,1056.7 L1691.6,1056.6 L1692.4,1056.6 L1693.2,1056.6 L1694.0,1056.6 L1694.8,1056.6 L1695.6,1056.5 L1696.4,1056.5 L1697.2,1056.5 L1698.0,1056.5 L1698.8,1056.4 L1699.6,1056.4 L1700.4,1056.4 L1701.2,1056.4 L1702.0,1056.3 L1702.8,1056.3 L1703.6,1056.3 L1704.4,1056.2 L1705.2,1056.2 L1706.0,1056.1 L1706.8,1056.1 L1707.6,1056.0 L1708.4,1056.0 L1709.2,1055.9 L1710.0,1055.8 L1710.8,1055.7 L1711.6,1055.6 L1712.4,1055.5 L1713.2,1055.3 L1714.0,1055.1 L1714.8,1054.9 L1715.6,1054.7 L1716.4,1054.5 L1717.2,1054.3 L1718.0,1054.1 L1718.8,1053.9 L1719.6,1053.7 L1720.4,1053.6 L1721.2,1053.4 L1722.0,1053.2 L1722.8,1053.0 L1723.6,1052.7 L1724.4,1052.4 L1725.2,1051.9 L1726.0,1051.4 L1726.8,1050.7 L1727.6,1049.8 L1728.3,1049.0 L1728.8,1048.2 L1729.2,1047.4 L1729.7,1046.5 L1730.0,1045.6 L1730.4,1044.7 L1730.7,1043.9 L1730.9,1043.0 L1731.2,1042.0 L1731.5,1040.9 L1731.6,1040.0 L1731.8,1039.2 L1732.0,1038.2 L1732.2,1037.1 L1732.4,1036.0 L1732.5,1034.7 L1732.7,1033.3 L1732.9,1031.7 L1733.0,1030.8 L1733.1,1029.9 L1733.2,1028.9 L1733.2,1027.8 L1733.3,1026.7 L1733.4,1025.5 L1733.5,1024.3 L1733.6,1022.9 L1733.7,1021.4 L1733.8,1019.8 L1733.9,1018.1 L1734.0,1016.3 L1734.0,1014.2 L1734.1,1012.0 L1734.2,1009.6 L1734.3,1007.0 L1734.4,1004.1 L1734.5,1000.9 L1734.6,997.4 L1734.7,993.5 L1734.8,989.2 L1734.8,984.3 L1734.9,978.9 L1735.0,972.8 L1735.1,965.9 L1735.2,958.1 L1735.3,949.2 L1735.4,939.0 L1735.5,927.4 L1735.6,914.0 L1735.6,898.7 L1735.7,881.1 L1735.8,860.8 L1735.9,837.7 L1736.0,811.4 L1736.1,782.1 L1736.2,750.0 L1736.3,716.1 L1736.4,681.9 L1736.4,649.9 L1736.5,623.4 L1736.6,605.8 L1736.7,599.5 L1736.8,605.8 L1736.9,623.4 L1737.0,649.9 L1737.1,681.9 L1737.2,716.1 L1737.2,750.0 L1737.3,782.1 L1737.4,811.4 L1737.5,837.7 L1737.6,860.8 L1737.7,881.0 L1737.8,898.7 L1737.9,914.0 L1738.0,927.3 L1738.0,939.0 L1738.1,949.1 L1738.2,958.0 L1738.3,965.8 L1738.4,972.7 L1738.5,978.9 L1738.6,984.3 L1738.7,989.1 L1738.8,993.5 L1738.8,997.4 L1738.9,1000.9 L1739.0,1004.1 L1739.1,1007.0 L1739.2,1009.6 L1739.3,1012.0 L1739.4,1014.2 L1739.5,1016.2 L1739.6,1018.1 L1739.6,1019.8 L1739.7,1021.4 L1739.8,1022.8 L1739.9,1024.2 L1740.0,1025.5 L1740.1,1026.7 L1740.2,1027.8 L1740.3,1028.8 L1740.4,1029.8 L1740.4,1030.7 L1740.5,1031.6 L1740.6,1032.4 L1740.8,1033.9 L1741.0,1035.3 L1741.2,1036.5 L1741.3,1037.6 L1741.5,1038.6 L1741.7,1039.5 L1741.9,1040.4 L1742.1,1041.5 L1742.4,1042.5 L1742.7,1043.4 L1742.9,1044.3 L1743.3,1045.3 L1743.6,1046.1 L1744.1,1047.1 L1744.5,1047.9 L1745.1,1048.7 L1745.7,1049.6 L1746.4,1050.4 L1747.2,1051.1 L1748.0,1051.8 L1748.8,1052.3 L1749.6,1052.7 L1750.4,1053.1 L1751.2,1053.4 L1752.0,1053.7 L1752.8,1053.9 L1753.6,1054.1 L1754.4,1054.3 L1755.2,1054.4 L1756.0,1054.6 L1756.8,1054.7 L1757.6,1054.8 L1758.4,1054.9 L1759.2,1055.0 L1760.0,1055.1 L1760.8,1055.1 L1761.6,1055.2 L1762.4,1055.2 L1763.2,1055.3 L1764.0,1055.3 L1764.8,1055.4 L1765.6,1055.4 L1766.4,1055.4 L1767.2,1055.5 L1768.0,1055.5 L1768.8,1055.5 L1769.6,1055.5 L1770.4,1055.6 L1771.2,1055.6 L1772.0,1055.6 L1772.8,1055.6 L1773.6,1055.6 L1774.4,1055.6 L1775.2,1055.6 L1776.0,1055.6 L1776.8,1055.6 L1777.6,1055.6 L1778.4,1055.7 L1779.2,1055.7 L1780.0,1055.7 L1780.8,1055.7 L1781.6,1055.7 L1782.4,1055.7 L1783.2,1055.7 L1784.0,1055.7 L1784.8,1055.7 L1785.6,1055.7 L1786.4,1055.7 L1787.2,1055.7 L1788.0,1055.6 L1788.8,1055.6 L1789.6,1055.6 L1790.4,1055.6 L1791.2,1055.6 L1792.0,1055.6 L1792.8,1055.6 L1793.6,1055.6 L1794.4,1055.6 L1795.2,1055.6 L1796.0,1055.6 L1796.8,1055.6 L1797.6,1055.6 L1798.4,1055.6 L1799.2,1055.6 L1800.0,1055.5 L1800.8,1055.5 L1801.6,1055.5 L1802.4,1055.5 L1803.2,1055.5 L1804.0,1055.5 L1804.8,1055.5 L1805.6,1055.5 L1806.4,1055.5 L1807.2,1055.5 L1808.0,1055.5 L1808.8,1055.4 L1809.6,1055.4 L1810.4,1055.4 L1811.2,1055.4 L1812.0,1055.4 L1812.8,1055.4 L1813.6,1055.4 L1814.4,1055.4 L1815.2,1055.4 L1816.0,1055.3 L1816.8,1055.3 L1817.6,1055.3 L1818.4,1055.3 L1819.2,1055.3 L1820.0,1055.3 L1820.8,1055.3 L1821.6,1055.2 L1822.4,1055.2 L1823.2,1055.2 L1824.0,1055.2 L1824.8,1055.2 L1825.6,1055.2 L1826.4,1055.2 L1827.2,1055.2 L1828.0,1055.1 L1828.8,1055.1 L1829.6,1055.1 L1830.4,1055.1 L1831.2,1055.1 L1832.0,1055.1 L1832.8,1055.1 L1833.6,1055.0 L1834.4,1055.0 L1835.2,1055.0 L1836.0,1055.0 L1836.8,1055.0 L1837.6,1055.0 L1838.4,1054.9 L1839.2,1054.9 L1840.0,1054.9 L1840.8,1054.9 L1841.6,1054.9 L1842.4,1054.9 L1843.2,1054.9 L1844.0,1054.8 L1844.8,1054.8 L1845.6,1054.8 L1846.4,1054.8 L1847.2,1054.8 L1848.0,1054.8 L1848.8,1054.7 L1849.6,1054.7 L1850.4,1054.7 L1851.2,1054.7 L1852.0,1054.7 L1852.8,1054.7 L1853.6,1054.6 L1854.4,1054.6 L1855.2,1054.6 L1856.0,1054.6 L1856.8,1054.6 L1857.6,1054.5 L1858.4,1054.5 L1859.2,1054.5 L1860.0,1054.5 L1860.8,1054.5 L1861.6,1054.5 L1862.4,1054.4 L1863.3,1054.4 L1864.1,1054.4 L1864.9,1054.4 L1865.7,1054.4 L1866.5,1054.3 L1867.3,1054.3 L1868.1,1054.3 L1868.9,1054.3 L1869.7,1054.3 L1870.5,1054.2 L1871.3,1054.2 L1872.1,1054.2 L1872.9,1054.2 L1873.7,1054.2 L1874.5,1054.1 L1875.3,1054.1 L1876.1,1054.1 L1876.9,1054.1 L1877.7,1054.1 L1878.5,1054.0 L1879.3,1054.0 L1880.1,1054.0 L1880.9,1054.0 L1881.7,1054.0 L1882.5,1053.9 L1883.3,1053.9 L1884.1,1053.9 L1884.9,1053.9 L1885.7,1053.9 L1886.5,1053.8 L1887.3,1053.8 L1888.1,1053.8 L1888.9,1053.8 L1889.7,1053.7 L1890.5,1053.7 L1891.3,1053.7 L1892.1,1053.7 L1892.9,1053.7 L1893.7,1053.6 L1894.5,1053.6 L1895.3,1053.6 L1896.1,1053.6 L1896.9,1053.5 L1897.7,1053.5 L1898.5,1053.5 L1899.3,1053.5 L1900.1,1053.4 L1900.9,1053.4 L1901.7,1053.4 L1902.5,1053.4 L1903.3,1053.4 L1904.1,1053.3 L1904.9,1053.3 L1905.7,1053.3 L1906.5,1053.3 L1907.3,1053.2 L1908.1,1053.2 L1908.9,1053.2 L1909.7,1053.2 L1910.5,1053.1 L1911.3,1053.1 L1912.1,1053.1 L1912.9,1053.1 L1913.7,1053.0 L1914.5,1053.0 L1915.3,1053.0 L1916.1,1053.0 L1916.9,1052.9 L1917.7,1052.9 L1918.5,1052.9 L1919.3,1052.9 L1920.1,1052.8 L1920.9,1052.8 L1921.7,1052.8 L1922.5,1052.7 L1923.3,1052.7 L1924.1,1052.7 L1924.9,1052.7 L1925.7,1052.6 L1926.5,1052.6 L1927.3,1052.6 L1928.1,1052.6 L1928.9,1052.5 L1929.7,1052.5 L1930.5,1052.5 L1931.3,1052.4 L1932.1,1052.4 L1932.9,1052.4 L1933.7,1052.4 L1934.5,1052.3 L1935.3,1052.3 L1936.1,1052.3 L1936.9,1052.2 L1937.7,1052.2 L1938.5,1052.2 L1939.3,1052.2 L1940.1,1052.1 L1940.9,1052.1 L1941.7,1052.1 L1942.5,1052.0 L1943.3,1052.0 L1944.1,1052.0 L1944.9,1051.9 L1945.7,1051.9 L1946.5,1051.9 L1947.3,1051.9 L1948.1,1051.8 L1948.9,1051.8 L1949.7,1051.8 L1950.5,1051.7 L1951.3,1051.7 L1952.1,1051.7 L1952.9,1051.6 L1953.7,1051.6 L1954.5,1051.6 L1955.3,1051.5 L1956.1,1051.5 L1956.9,1051.5 L1957.7,1051.4 L1958.5,1051.4 L1959.3,1051.4 L1960.1,1051.3 L1960.9,1051.3 L1961.7,1051.3 L1962.5,1051.2 L1963.3,1051.2 L1964.1,1051.2 L1964.9,1051.1 L1965.7,1051.1 L1966.5,1051.1 L1967.3,1051.0 L1968.1,1051.0 L1968.9,1051.0 L1969.7,1050.9 L1970.5,1050.9 L1971.3,1050.9 L1972.1,1050.8 L1972.9,1050.8 L1973.7,1050.8 L1974.5,1050.7 L1975.3,1050.7 L1976.1,1050.6 L1976.9,1050.6 L1977.7,1050.6 L1978.5,1050.5 L1979.3,1050.5 L1980.1,1050.5 L1980.9,1050.4 L1981.7,1050.4 L1982.5,1050.4 L1983.3,1050.3 L1984.1,1050.3 L1984.9,1050.2 L1985.7,1050.2 L1986.5,1050.2 L1987.3,1050.1 L1988.1,1050.1 L1988.9,1050.1 L1989.7,1050.0 L1990.5,1050.0 L1991.3,1049.9 L1992.1,1049.9 L1992.9,1049.9 L1993.7,1049.8 L1994.5,1049.8 L1995.3,1049.7 L1996.1,1049.7 L1996.9,1049.7 L1997.7,1049.6 L1998.5,1049.6 L1999.3,1049.5 L2000.1,1049.5 L2000.9,1049.5 L2001.7,1049.4 L2002.5,1049.4 L2003.3,1049.3 L2004.1,1049.3 L2004.9,1049.2 L2005.7,1049.2 L2006.5,1049.2 L2007.3,1049.1 L2008.1,1049.1 L2008.9,1049.0 L2009.7,1049.0 L2010.5,1049.0 L2011.3,1048.9 L2012.1,1048.9 L2012.9,1048.8 L2013.7,1048.8 L2014.5,1048.7 L2015.3,1048.7 L2016.1,1048.6 L2016.9,1048.6 L2017.7,1048.6 L2018.5,1048.5 L2019.3,1048.5 L2020.1,1048.4 L2020.9,1048.4 L2021.7,1048.3 L2022.5,1048.3 L2023.3,1048.2 L2024.1,1048.2 L2024.9,1048.2 L2025.7,1048.1 L2026.5,1048.1 L2027.3,1048.0 L2028.1,1048.0 L2028.9,1047.9 L2029.7,1047.9 L2030.5,1047.8 L2031.3,1047.8 L2032.1,1047.7 L2032.9,1047.7 L2033.7,1047.6 L2034.5,1047.6 L2035.3,1047.5 L2036.1,1047.5 L2036.9,1047.4 L2037.7,1047.4 L2038.5,1047.3 L2039.3,1047.3 L2040.1,1047.2 L2040.9,1047.2 L2041.7,1047.1 L2042.5,1047.1 L2043.3,1047.0 L2044.1,1047.0 L2044.9,1046.9 L2045.7,1046.9 L2046.5,1046.8 L2047.3,1046.8 L2048.1,1046.7 L2048.9,1046.7 L2049.7,1046.6 L2050.5,1046.6 L2051.3,1046.5 L2052.1,1046.5 L2052.9,1046.4 L2053.7,1046.4 L2054.5,1046.3 L2055.3,1046.3 L2056.1,1046.2 L2056.9,1046.2 L2057.7,1046.1 L2058.5,1046.0 L2059.3,1046.0 L2060.1,1045.9 L2060.9,1045.9 L2061.7,1045.8 L2062.5,1045.8 L2063.3,1045.7 L2064.1,1045.7 L2064.9,1045.6 L2065.7,1045.5 L2066.5,1045.5 L2067.3,1045.4 L2068.1,1045.4 L2068.9,1045.3 L2069.7,1045.3 L2070.5,1045.2 L2071.3,1045.2 L2072.1,1045.1 L2072.9,1045.0 L2073.7,1045.0 L2074.5,1044.9 L2075.3,1044.9 L2076.1,1044.8 L2076.9,1044.7 L2077.7,1044.7 L2078.5,1044.6 L2079.3,1044.6 L2080.1,1044.5 L2080.9,1044.4 L2081.7,1044.4 L2082.5,1044.3 L2083.3,1044.3 L2084.1,1044.2 L2084.9,1044.1 L2085.7,1044.1 L2086.5,1044.0 L2087.3,1044.0 L2088.1,1043.9 L2088.9,1043.8 L2089.7,1043.8 L2090.5,1043.7 L2091.3,1043.5 L2092.1,1043.2 L2092.9,1042.7 L2093.7,1043.3 L2094.5,1043.6 L2095.3,1043.6 L2096.1,1043.4 L2096.9,1043.3 L2097.7,1043.2 L2098.5,1043.1 L2099.3,1043.0 L2100.1,1043.0 L2100.9,1042.9 L2101.7,1042.8 L2102.5,1042.7 L2103.3,1042.7 L2104.1,1042.6 L2104.9,1042.5 L2105.7,1042.5 L2106.5,1042.4 L2107.3,1042.3 L2108.1,1042.3 L2109.0,1042.2 L2109.8,1042.1 L2110.6,1042.1 L2111.4,1042.0 L2112.2,1041.9 L2113.0,1041.9 L2113.8,1041.8 L2114.6,1041.7 L2115.4,1041.7 L2116.2,1041.6 L2117.0,1041.5 L2117.8,1041.4 L2118.6,1041.4 L2119.4,1041.3 L2120.2,1041.2 L2121.0,1041.2 L2121.8,1041.1 L2122.6,1041.0 L2123.4,1040.9 L2124.2,1040.9 L2125.0,1040.8 L2125.8,1040.7 L2126.6,1040.6 L2127.4,1040.6 L2128.2,1040.5 L2129.0,1040.4 L2129.8,1040.4 L2130.6,1040.3 L2131.4,1040.2 L2132.2,1040.1 L2133.0,1040.1 L2133.8,1040.0 L2134.6,1039.9 L2135.4,1039.8 L2136.2,1039.8 L2137.0,1039.7 L2137.8,1039.6 L2138.6,1039.5 L2139.4,1039.4 L2140.2,1039.4 L2141.0,1039.3 L2141.8,1039.2 L2142.6,1039.1 L2143.4,1039.1 L2144.2,1039.0 L2145.0,1038.9 L2145.8,1038.8 L2146.6,1038.7 L2147.4,1038.7 L2148.2,1038.6 L2149.0,1038.5 L2149.8,1038.4 L2150.6,1038.3 L2151.4,1038.3 L2152.2,1038.2 L2153.0,1038.1 L2153.8,1038.0 L2154.6,1037.9 L2155.4,1037.8 L2156.2,1037.8 L2157.0,1037.7 L2157.8,1037.6 L2158.6,1037.5 L2159.4,1037.4 L2160.2,1037.3 L2161.0,1037.3 L2161.8,1037.2 L2162.6,1037.1 L2163.4,1037.0 L2164.2,1036.9 L2165.0,1036.8 L2165.8,1036.7 L2166.6,1036.7 L2167.4,1036.6 L2168.2,1036.5 L2169.0,1036.4 L2169.8,1036.3 L2170.6,1036.2 L2171.4,1036.1 L2172.2,1036.0 L2173.0,1036.0 L2173.8,1035.9 L2174.6,1035.8 L2175.4,1035.7 L2176.2,1035.6 L2177.0,1035.5 L2177.8,1035.4 L2178.6,1035.3 L2179.4,1035.2 L2180.2,1035.2 L2181.0,1035.1 L2181.8,1035.0 L2182.6,1034.9 L2183.4,1034.8 L2184.2,1034.7 L2185.0,1034.6 L2185.8,1034.5 L2186.6,1034.4 L2187.4,1034.3 L2188.2,1034.2 L2189.0,1034.1 L2189.8,1034.0 L2190.6,1033.9 L2191.4,1033.9 L2192.2,1033.8 L2193.0,1033.7 L2193.8,1033.6 L2194.6,1033.5 L2195.4,1033.4 L2196.2,1033.3 L2197.0,1033.2 L2197.8,1033.1 L2198.6,1033.0 L2199.4,1032.9 L2200.2,1032.8 L2201.0,1032.7 L2201.8,1032.6 L2202.6,1032.5 L2203.4,1032.4 L2204.2,1032.3 L2205.0,1032.2 L2205.8,1032.1 L2206.6,1032.0 L2207.4,1031.9 L2208.2,1031.8 L2209.0,1031.7 L2209.8,1031.6 L2210.6,1031.5 L2211.4,1031.4 L2212.2,1031.2 L2213.0,1030.9 L2213.8,1030.3 L2214.6,1030.7 L2215.4,1031.1 L2216.2,1031.0 L2217.0,1030.8 L2217.8,1030.6 L2218.6,1030.5 L2219.4,1030.4 L2220.2,1030.3 L2221.0,1030.2 L2221.8,1030.0 L2222.6,1029.9 L2223.4,1029.8 L2224.2,1029.7 L2225.0,1029.6 L2225.8,1029.5 L2226.6,1029.4 L2227.4,1029.3 L2228.2,1029.2 L2229.0,1029.1 L2229.8,1029.0 L2230.6,1028.8 L2231.4,1028.7 L2232.2,1028.6 L2233.0,1028.5 L2233.8,1028.4 L2234.6,1028.3 L2235.4,1028.2 L2236.2,1028.1 L2237.0,1028.0 L2237.8,1027.9 L2238.6,1027.7 L2239.4,1027.6 L2240.2,1027.5 L2241.0,1027.4 L2241.8,1027.3 L2242.6,1027.2 L2243.4,1027.1 L2244.2,1026.9 L2245.0,1026.8 L2245.8,1026.7 L2246.6,1026.6 L2247.4,1026.5 L2248.2,1026.4 L2249.0,1026.2 L2249.8,1026.1 L2250.6,1026.0 L2251.4,1025.9 L2252.2,1025.8 L2253.0,1025.7 L2253.8,1025.5 L2254.6,1025.4 L2255.4,1025.3 L2256.2,1025.2 L2257.0,1025.1 L2257.8,1024.9 L2258.6,1024.8 L2259.4,1024.7 L2260.2,1024.6 L2261.0,1024.5 L2261.8,1024.3 L2262.6,1024.2 L2263.4,1024.1 L2264.2,1024.0 L2265.0,1023.9 L2265.8,1023.7 L2266.6,1023.6 L2267.4,1023.5 L2268.2,1023.4 L2269.0,1023.2 L2269.8,1023.1 L2270.6,1023.0 L2271.4,1022.9 L2272.2,1022.7 L2273.0,1022.6 L2273.8,1022.5 L2274.6,1022.4 L2275.4,1022.2 L2276.2,1022.1 L2277.0,1022.0 L2277.8,1021.9 L2278.6,1021.7 L2279.4,1021.6 L2280.2,1021.5 L2281.0,1021.3 L2281.8,1021.2 L2282.6,1021.1 L2283.4,1020.9 L2284.2,1020.8 L2285.0,1020.7 L2285.8,1020.6 L2286.6,1020.4 L2287.4,1020.3 L2288.2,1020.2 L2289.0,1020.0 L2289.8,1019.9 L2290.6,1019.8 L2291.4,1019.6 L2292.2,1019.5 L2293.0,1019.4 L2293.8,1019.2 L2294.6,1019.1 L2295.4,1019.0 L2296.2,1018.8 L2297.0,1018.7 L2297.8,1018.6 L2298.6,1018.4 L2299.4,1018.3 L2300.2,1018.1 L2301.0,1018.0 L2301.8,1017.9 L2302.6,1017.7 L2303.4,1017.6 L2304.2,1017.5 L2305.0,1017.3 L2305.8,1017.2 L2306.6,1017.0 L2307.4,1016.9 L2308.2,1016.8 L2309.0,1016.6 L2309.8,1016.5 L2310.6,1016.3 L2311.4,1016.2 L2312.2,1016.1 L2313.0,1015.9 L2313.8,1015.8 L2314.6,1015.6 L2315.4,1015.5 L2316.2,1015.3 L2317.0,1015.2 L2317.8,1015.1 L2318.6,1014.9 L2319.4,1014.8 L2320.2,1014.6 L2321.0,1014.5 L2321.8,1014.3 L2322.6,1014.2 L2323.4,1014.0 L2324.2,1013.9 L2325.0,1013.7 L2325.8,1013.6 L2326.6,1013.5 L2327.4,1013.3 L2328.2,1013.2 L2329.0,1013.0 L2329.8,1012.9 L2330.6,1012.7 L2331.4,1012.6 L2332.2,1012.4 L2333.0,1012.3 L2333.8,1012.1 L2334.6,1012.0 L2335.4,1011.8 L2336.2,1011.7 L2337.0,1011.5 L2337.8,1011.4 L2338.6,1011.2 L2339.4,1011.0 L2340.2,1010.9 L2341.0,1010.7" fill="none" stroke="#9b10ff" stroke-width="3.6"/>
<rect x="1630" y="120.3" width="711.5" height="939.2" fill="none" stroke="#4a4a4a" stroke-width="2.6"/>
<line x1="1630.0" y1="590.0" x2="2341.5" y2="590.0" stroke="#4a4a4a" stroke-width="2.6" />
<line x1="1630.0" y1="461.7" x2="1643.0" y2="461.7" stroke="#4a4a4a" stroke-width="2.4" />
<line x1="1630.0" y1="939.8" x2="1643.0" y2="939.8" stroke="#4a4a4a" stroke-width="2.4" />
<line x1="1630.0" y1="333.4" x2="1643.0" y2="333.4" stroke="#4a4a4a" stroke-width="2.4" />
<line x1="1630.0" y1="821.6" x2="1643.0" y2="821.6" stroke="#4a4a4a" stroke-width="2.4" />
<line x1="1630.0" y1="205.1" x2="1643.0" y2="205.1" stroke="#4a4a4a" stroke-width="2.4" />
<line x1="1630.0" y1="703.4" x2="1643.0" y2="703.4" stroke="#4a4a4a" stroke-width="2.4" />
<line x1="1630.0" y1="525.8" x2="1637.0" y2="525.8" stroke="#4a4a4a" stroke-width="2.4" />
<line x1="1630.0" y1="998.9" x2="1637.0" y2="998.9" stroke="#4a4a4a" stroke-width="2.4" />
<line x1="1630.0" y1="397.5" x2="1637.0" y2="397.5" stroke="#4a4a4a" stroke-width="2.4" />
<line x1="1630.0" y1="880.7" x2="1637.0" y2="880.7" stroke="#4a4a4a" stroke-width="2.4" />
<line x1="1630.0" y1="269.2" x2="1637.0" y2="269.2" stroke="#4a4a4a" stroke-width="2.4" />
<line x1="1630.0" y1="762.5" x2="1637.0" y2="762.5" stroke="#4a4a4a" stroke-width="2.4" />
<line x1="1630.0" y1="140.9" x2="1637.0" y2="140.9" stroke="#4a4a4a" stroke-width="2.4" />
<line x1="1630.0" y1="644.3" x2="1637.0" y2="644.3" stroke="#4a4a4a" stroke-width="2.4" />
<line x1="1630.0" y1="1059.5" x2="1630.0" y2="1071.0" stroke="#4a4a4a" stroke-width="2.6" />
<line x1="1807.8" y1="1059.5" x2="1807.8" y2="1071.0" stroke="#4a4a4a" stroke-width="2.6" />
<line x1="1985.7" y1="1059.5" x2="1985.7" y2="1071.0" stroke="#4a4a4a" stroke-width="2.6" />
<line x1="2163.6" y1="1059.5" x2="2163.6" y2="1071.0" stroke="#4a4a4a" stroke-width="2.6" />
<line x1="2341.4" y1="1059.5" x2="2341.4" y2="1071.0" stroke="#4a4a4a" stroke-width="2.6" />
<line x1="1718.9" y1="1059.5" x2="1718.9" y2="1065.0" stroke="#4a4a4a" stroke-width="2.4" />
<line x1="1896.8" y1="1059.5" x2="1896.8" y2="1065.0" stroke="#4a4a4a" stroke-width="2.4" />
<line x1="2074.6" y1="1059.5" x2="2074.6" y2="1065.0" stroke="#4a4a4a" stroke-width="2.4" />
<line x1="2252.5" y1="1059.5" x2="2252.5" y2="1065.0" stroke="#4a4a4a" stroke-width="2.4" />
<text x="1593.7" y="604.2" font-size="44" textLength="22.0" lengthAdjust="spacingAndGlyphs" fill="#000" >0</text>
<text x="1593.7" y="1072.2" font-size="44" textLength="22.0" lengthAdjust="spacingAndGlyphs" fill="#000" >0</text>
<text x="1549.7" y="475.9" font-size="44" textLength="66.0" lengthAdjust="spacingAndGlyphs" fill="#000" >300</text>
<text x="1549.7" y="954.0" font-size="44" textLength="66.0" lengthAdjust="spacingAndGlyphs" fill="#000" >300</text>
<text x="1549.7" y="347.6" font-size="44" textLength="66.0" lengthAdjust="spacingAndGlyphs" fill="#000" >600</text>
<text x="1549.7" y="835.8" font-size="44" textLength="66.0" lengthAdjust="spacingAndGlyphs" fill="#000" >600</text>
<text x="1549.7" y="219.3" font-size="44" textLength="66.0" lengthAdjust="spacingAndGlyphs" fill="#000" >900</text>
<text x="1549.7" y="717.6" font-size="44" textLength="66.0" lengthAdjust="spacingAndGlyphs" fill="#000" >900</text>
<text x="1615.8" y="1118.5" font-size="52" textLength="26.0" lengthAdjust="spacingAndGlyphs" fill="#000" >3</text>
<text x="1793.7" y="1118.5" font-size="52" textLength="26.0" lengthAdjust="spacingAndGlyphs" fill="#000" >4</text>
<text x="1971.2" y="1118.5" font-size="52" textLength="26.0" lengthAdjust="spacingAndGlyphs" fill="#000" >5</text>
<text x="2149.2" y="1118.5" font-size="52" textLength="26.0" lengthAdjust="spacingAndGlyphs" fill="#000" >6</text>
<text x="2326.4" y="1118.5" font-size="52" textLength="26.0" lengthAdjust="spacingAndGlyphs" fill="#000" >7</text>
<text x="1762.2" y="1166.3" font-size="54.5" textLength="449.4" lengthAdjust="spacingAndGlyphs" fill="#000" >Frequency (GHz)</text>
<text transform="translate(1521.5,849.4) rotate(-90)" x="0" y="0" font-size="64" textLength="528.4" lengthAdjust="spacingAndGlyphs" fill="#000">Extinction cross section</text>
<text x="1455.6" y="103.0" font-size="106" textLength="123.6" lengthAdjust="spacingAndGlyphs" fill="#000" >(b)</text>
<line x1="1766.4" y1="154.0" x2="1863.0" y2="154.0" stroke="#ff1010" stroke-width="4" />
<text x="1874.6" y="166.5" font-size="39.5" textLength="378.5" lengthAdjust="spacingAndGlyphs" fill="#1a1a1a" stroke="#1a1a1a" stroke-width="0.7">the proposed resonator</text>
<line x1="1766.8" y1="625.0" x2="1862.0" y2="625.0" stroke="#9b10ff" stroke-width="4" />
<text x="1872.6" y="638.4" font-size="39.5" textLength="402.5" lengthAdjust="spacingAndGlyphs" fill="#1a1a1a" stroke="#1a1a1a" stroke-width="0.7">the compound resonator</text>
<ellipse cx="1985" cy="310" rx="215.7" ry="93.7" fill="#46f7c2"/>
<rect x="1769.3" y="275" width="431.4" height="35" fill="#46f7c2"/>
<ellipse cx="1985" cy="275" rx="215.7" ry="93.7" fill="#c4fa1e" stroke="#8fa82a" stroke-width="1.5"/>
<ellipse cx="1985" cy="275" rx="199.7" ry="86.2" fill="#4cffc4" stroke="#8fa82a" stroke-width="1.5"/>
<clipPath id="rtclip"><ellipse cx="1985" cy="275" rx="199.7" ry="86.2"/></clipPath><g clip-path="url(#rtclip)">
<line x1="1962.7" y1="190.3" x2="1968.6" y2="261.7" stroke="#8fa82a" stroke-width="7.7" stroke-linecap="butt"/><line x1="1962.7" y1="190.3" x2="1968.6" y2="261.7" stroke="#c4fa1e" stroke-width="5.5" stroke-linecap="butt"/>
<line x1="1993.9" y1="188.8" x2="1999.9" y2="258.7" stroke="#8fa82a" stroke-width="7.7" stroke-linecap="butt"/><line x1="1993.9" y1="188.8" x2="1999.9" y2="258.7" stroke="#c4fa1e" stroke-width="5.5" stroke-linecap="butt"/>
<line x1="1971.6" y1="292.9" x2="1977.6" y2="368.8" stroke="#8fa82a" stroke-width="7.7" stroke-linecap="butt"/><line x1="1971.6" y1="292.9" x2="1977.6" y2="368.8" stroke="#c4fa1e" stroke-width="5.5" stroke-linecap="butt"/>
<line x1="2002.8" y1="288.5" x2="2008.8" y2="365.8" stroke="#8fa82a" stroke-width="7.7" stroke-linecap="butt"/><line x1="2002.8" y1="288.5" x2="2008.8" y2="365.8" stroke="#c4fa1e" stroke-width="5.5" stroke-linecap="butt"/>
<line x1="1816.9" y1="229.0" x2="1958.2" y2="263.2" stroke="#8fa82a" stroke-width="7.7" stroke-linecap="butt"/><line x1="1816.9" y1="229.0" x2="1958.2" y2="263.2" stroke="#c4fa1e" stroke-width="5.5" stroke-linecap="butt"/>
<line x1="1800.6" y1="240.9" x2="1947.8" y2="276.6" stroke="#8fa82a" stroke-width="7.7" stroke-linecap="butt"/><line x1="1800.6" y1="240.9" x2="1947.8" y2="276.6" stroke="#c4fa1e" stroke-width="5.5" stroke-linecap="butt"/>
<line x1="2020.7" y1="263.2" x2="2145.6" y2="224.5" stroke="#8fa82a" stroke-width="7.7" stroke-linecap="butt"/><line x1="2020.7" y1="263.2" x2="2145.6" y2="224.5" stroke="#c4fa1e" stroke-width="5.5" stroke-linecap="butt"/>
<line x1="2023.7" y1="273.6" x2="2166.5" y2="237.9" stroke="#8fa82a" stroke-width="7.7" stroke-linecap="butt"/><line x1="2023.7" y1="273.6" x2="2166.5" y2="237.9" stroke="#c4fa1e" stroke-width="5.5" stroke-linecap="butt"/>
<line x1="1806.5" y1="315.3" x2="1946.3" y2="278.1" stroke="#8fa82a" stroke-width="7.7" stroke-linecap="butt"/><line x1="1806.5" y1="315.3" x2="1946.3" y2="278.1" stroke="#c4fa1e" stroke-width="5.5" stroke-linecap="butt"/>
<line x1="1824.4" y1="327.2" x2="1965.7" y2="288.5" stroke="#8fa82a" stroke-width="7.7" stroke-linecap="butt"/><line x1="1824.4" y1="327.2" x2="1965.7" y2="288.5" stroke="#c4fa1e" stroke-width="5.5" stroke-linecap="butt"/>
<line x1="2020.7" y1="278.1" x2="2172.4" y2="312.3" stroke="#8fa82a" stroke-width="7.7" stroke-linecap="butt"/><line x1="2020.7" y1="278.1" x2="2172.4" y2="312.3" stroke="#c4fa1e" stroke-width="5.5" stroke-linecap="butt"/>
<line x1="2011.8" y1="290.0" x2="2156.0" y2="324.2" stroke="#8fa82a" stroke-width="7.7" stroke-linecap="butt"/><line x1="2011.8" y1="290.0" x2="2156.0" y2="324.2" stroke="#c4fa1e" stroke-width="5.5" stroke-linecap="butt"/>
</g>
<ellipse cx="1985" cy="275" rx="34" ry="15" fill="#c4fa1e" stroke="#8fa82a" stroke-width="1.2"/>
<line x1="1985.0" y1="300.0" x2="1985.0" y2="351.4" stroke="#000" stroke-width="4" /><polygon points="1985.0,369.0 1977.0,347.0 1993.0,347.0" fill="#000" />
<line x1="1982.0" y1="470.0" x2="1982.0" y2="425.1" stroke="#000" stroke-width="4" /><polygon points="1982.0,407.5 1990.0,429.5 1974.0,429.5" fill="#000" />
<text x="1944.9" y="394.0" font-size="33" textLength="24.8" lengthAdjust="spacingAndGlyphs" fill="#000" font-weight="bold" >h</text>
<text x="1970.3" y="404.5" font-size="19" textLength="8.1" lengthAdjust="spacingAndGlyphs" fill="#000" font-weight="bold" >1</text>
<ellipse cx="2025" cy="804" rx="205" ry="101" fill="#48f2c4"/>
<rect x="1820" y="774" width="410" height="30" fill="#48f2c4"/>
<ellipse cx="2025" cy="782" rx="205" ry="101" fill="#00c4ac"/>
<rect x="1820" y="774" width="410" height="8" fill="#00c4ac"/>
<ellipse cx="2025" cy="774" rx="205" ry="101" fill="#c4fa1e" stroke="#8fa82a" stroke-width="1.5"/>
<ellipse cx="2025" cy="774" rx="191" ry="94" fill="#00efd6" stroke="#8fa82a" stroke-width="1.5"/>
<clipPath id="rbclip"><ellipse cx="2025" cy="774" rx="191" ry="94"/></clipPath><g clip-path="url(#rbclip)">
<line x1="1829.7" y1="769.1" x2="1985.9" y2="766.6" stroke="#8fa82a" stroke-width="7.2" stroke-linecap="butt"/><line x1="1829.7" y1="769.1" x2="1985.9" y2="766.6" stroke="#c4fa1e" stroke-width="5" stroke-linecap="butt"/>
<line x1="1837.2" y1="783.9" x2="1993.4" y2="782.9" stroke="#8fa82a" stroke-width="7.2" stroke-linecap="butt"/><line x1="1837.2" y1="783.9" x2="1993.4" y2="782.9" stroke="#c4fa1e" stroke-width="5" stroke-linecap="butt"/>
<line x1="2055.3" y1="763.6" x2="2216.5" y2="763.6" stroke="#8fa82a" stroke-width="7.2" stroke-linecap="butt"/><line x1="2055.3" y1="763.6" x2="2216.5" y2="763.6" stroke="#c4fa1e" stroke-width="5" stroke-linecap="butt"/>
<line x1="2062.8" y1="780.5" x2="2218.9" y2="778.5" stroke="#8fa82a" stroke-width="7.2" stroke-linecap="butt"/><line x1="2062.8" y1="780.5" x2="2218.9" y2="778.5" stroke="#c4fa1e" stroke-width="5" stroke-linecap="butt"/>
<line x1="1912.8" y1="699.2" x2="1995.8" y2="764.8" stroke="#8fa82a" stroke-width="7.2" stroke-linecap="butt"/><line x1="1912.8" y1="699.2" x2="1995.8" y2="764.8" stroke="#c4fa1e" stroke-width="5" stroke-linecap="butt"/>
<line x1="1936.3" y1="690.5" x2="2018.1" y2="754.9" stroke="#8fa82a" stroke-width="7.2" stroke-linecap="butt"/><line x1="1936.3" y1="690.5" x2="2018.1" y2="754.9" stroke="#c4fa1e" stroke-width="5" stroke-linecap="butt"/>
<line x1="2101.2" y1="690.5" x2="2024.3" y2="756.2" stroke="#8fa82a" stroke-width="7.2" stroke-linecap="butt"/><line x1="2101.2" y1="690.5" x2="2024.3" y2="756.2" stroke="#c4fa1e" stroke-width="5" stroke-linecap="butt"/>
<line x1="2129.7" y1="695.4" x2="2055.3" y2="761.1" stroke="#8fa82a" stroke-width="7.2" stroke-linecap="butt"/><line x1="2129.7" y1="695.4" x2="2055.3" y2="761.1" stroke="#c4fa1e" stroke-width="5" stroke-linecap="butt"/>
<line x1="1993.4" y1="787.2" x2="1916.5" y2="855.3" stroke="#8fa82a" stroke-width="7.2" stroke-linecap="butt"/><line x1="1993.4" y1="787.2" x2="1916.5" y2="855.3" stroke="#c4fa1e" stroke-width="5" stroke-linecap="butt"/>
<line x1="2024.3" y1="790.9" x2="1946.3" y2="860.3" stroke="#8fa82a" stroke-width="7.2" stroke-linecap="butt"/><line x1="2024.3" y1="790.9" x2="1946.3" y2="860.3" stroke="#c4fa1e" stroke-width="5" stroke-linecap="butt"/>
<line x1="2030.5" y1="794.6" x2="2109.9" y2="857.8" stroke="#8fa82a" stroke-width="7.2" stroke-linecap="butt"/><line x1="2030.5" y1="794.6" x2="2109.9" y2="857.8" stroke="#c4fa1e" stroke-width="5" stroke-linecap="butt"/>
<line x1="2054.1" y1="783.4" x2="2127.2" y2="844.2" stroke="#8fa82a" stroke-width="7.2" stroke-linecap="butt"/><line x1="2054.1" y1="783.4" x2="2127.2" y2="844.2" stroke="#c4fa1e" stroke-width="5" stroke-linecap="butt"/>
</g>
<ellipse cx="2024" cy="773.5" rx="31" ry="15" fill="#c4fa1e" stroke="#8fa82a" stroke-width="1.2"/>
<line x1="2003.3" y1="824.0" x2="2003.3" y2="853.8" stroke="#000" stroke-width="4" /><polygon points="2003.3,871.4 1995.3,849.4 2011.3,849.4" fill="#000" />
<line x1="2003.3" y1="931.0" x2="2003.3" y2="901.4" stroke="#000" stroke-width="4" /><polygon points="2003.3,883.8 2011.3,905.8 1995.3,905.8" fill="#000" />
<line x1="2132.0" y1="798.0" x2="2132.0" y2="848.9" stroke="#000" stroke-width="4" /><polygon points="2132.0,866.5 2124.0,844.5 2140.0,844.5" fill="#000" />
<line x1="2129.0" y1="957.0" x2="2129.0" y2="910.1" stroke="#000" stroke-width="4" /><polygon points="2129.0,892.5 2137.0,914.5 2121.0,914.5" fill="#000" />
<text x="1953.9" y="864.0" font-size="33" textLength="24.8" lengthAdjust="spacingAndGlyphs" fill="#000" font-weight="bold" >h</text>
<text x="1978.0" y="874.0" font-size="19" textLength="11.3" lengthAdjust="spacingAndGlyphs" fill="#000" font-weight="bold" >2</text>
<text x="2082.7" y="872.7" font-size="33" textLength="23.9" lengthAdjust="spacingAndGlyphs" fill="#000" font-weight="bold" >h</text>
<text x="2107.5" y="882.6" font-size="19" textLength="8.1" lengthAdjust="spacingAndGlyphs" fill="#000" font-weight="bold" >1</text>
<text x="2139.2" y="438.7" font-size="36.5" textLength="184.6" lengthAdjust="spacingAndGlyphs" fill="#1a1a1a" stroke="#1a1a1a" stroke-width="0.7">6.357 GHz</text>
<text x="1989.9" y="512.0" font-size="36.5" textLength="185.2" lengthAdjust="spacingAndGlyphs" fill="#1a1a1a" stroke="#1a1a1a" stroke-width="0.7">5.685 GHz</text>
<text x="1883.6" y="970.5" font-size="36.5" textLength="184.6" lengthAdjust="spacingAndGlyphs" fill="#1a1a1a" stroke="#1a1a1a" stroke-width="0.7">5.603 GHz</text>
<text x="2143.2" y="950.6" font-size="36.5" textLength="184.0" lengthAdjust="spacingAndGlyphs" fill="#1a1a1a" stroke="#1a1a1a" stroke-width="0.7">6.283 GHz</text>
<line x1="2226.0" y1="442.0" x2="2226.0" y2="532.2" stroke="#000" stroke-width="2.2" /><polygon points="2226.0,545.0 2221.5,529.0 2230.5,529.0" fill="#000" />
<line x1="2076.8" y1="504.7" x2="2102.0" y2="552.1" stroke="#000" stroke-width="2.2" /><polygon points="2108.0,563.4 2096.5,551.4 2104.5,547.2" fill="#000" />
<line x1="2023.6" y1="968.0" x2="2082.6" y2="1024.8" stroke="#000" stroke-width="2.2" /><polygon points="2091.8,1033.7 2077.2,1025.8 2083.4,1019.4" fill="#000" />
<line x1="2226.9" y1="950.6" x2="2217.7" y2="1009.9" stroke="#000" stroke-width="2.2" /><polygon points="2215.7,1022.5 2213.7,1006.0 2222.6,1007.4" fill="#000" />
<defs><radialGradient id="gC"><stop offset="0" stop-color="#30f0e8" stop-opacity="1"/><stop offset="0.5" stop-color="#20c8f0" stop-opacity="0.8"/><stop offset="1" stop-color="#0000dc" stop-opacity="0"/></radialGradient><radialGradient id="gY"><stop offset="0" stop-color="#f0f000" stop-opacity="1"/><stop offset="0.45" stop-color="#80e000" stop-opacity="0.9"/><stop offset="1" stop-color="#00d000" stop-opacity="0"/></radialGradient><radialGradient id="gG"><stop offset="0" stop-color="#00e000" stop-opacity="1"/><stop offset="0.6" stop-color="#00e060" stop-opacity="0.7"/><stop offset="1" stop-color="#00e0a0" stop-opacity="0"/></radialGradient><radialGradient id="gO"><stop offset="0" stop-color="#ffb000" stop-opacity="1"/><stop offset="0.5" stop-color="#ff6000" stop-opacity="0.7"/><stop offset="1" stop-color="#ff0000" stop-opacity="0"/></radialGradient><radialGradient id="gLB"><stop offset="0" stop-color="#40a8ff" stop-opacity="1"/><stop offset="0.6" stop-color="#2060f0" stop-opacity="0.6"/><stop offset="1" stop-color="#0000dc" stop-opacity="0"/></radialGradient><filter id="blur4" x="-50%" y="-50%" width="200%" height="200%"><feGaussianBlur stdDeviation="4"/></filter><filter id="blur2" x="-50%" y="-50%" width="200%" height="200%"><feGaussianBlur stdDeviation="2"/></filter><filter id="blur1"><feGaussianBlur stdDeviation="0.5"/></filter></defs>
<clipPath id="mc1"><rect x="155.7" y="1355.7" width="286.8" height="272.0"/></clipPath><g clip-path="url(#mc1)"><g filter="url(#blur1)"><rect x="150.7" y="1350.7" width="296.8" height="282.0" fill="#0000dc"/><path d="M321.4,1554.3 C323.0,1550.5 329.7,1559.8 332.9,1564.2 C336.1,1568.6 339.8,1575.2 340.3,1580.7 C340.9,1586.2 338.5,1592.8 336.2,1597.2 C333.9,1601.6 328.5,1608.7 326.3,1607.1 C324.1,1605.4 323.8,1596.1 323.0,1587.3 C322.2,1578.5 319.7,1558.2 321.4,1554.3 Z" fill="#20d8e0" filter="url(#blur2)"/><path d="M321.4,1559.3 C322.2,1553.8 327.4,1563.9 329.6,1567.5 C331.8,1571.1 334.3,1576.3 334.5,1580.7 C334.8,1585.1 332.9,1590.6 331.2,1593.9 C329.6,1597.2 326.3,1606.3 324.6,1600.5 C323.0,1594.7 320.5,1564.8 321.4,1559.3 Z" fill="#00e040" filter="url(#blur2)"/><path d="M275.2,1373.0 C276.3,1368.6 277.4,1373.0 278.5,1382.9 C279.6,1392.8 280.7,1421.9 281.8,1432.3 C282.9,1442.8 285.4,1445.5 285.1,1445.5 C284.8,1445.5 282.3,1438.4 280.1,1432.3 C277.9,1426.3 272.7,1419.1 271.9,1409.2 C271.1,1399.4 274.1,1377.4 275.2,1373.0 Z" fill="#20d8e0" filter="url(#blur2)"/><path d="M149.9,1349.9 L275.2,1349.9 L276.8,1373.0 L260.4,1401.0 L268.6,1419.1 L283.4,1445.5 L288.4,1468.6 L293.3,1471.9 L293.3,1511.5 L308.2,1518.1 L311.5,1537.8 L321.4,1570.8 L324.6,1603.8 L321.4,1636.8 L149.9,1636.8 Z" fill="none" stroke="#18d8e0" stroke-width="11" stroke-linejoin="round"/><path d="M149.9,1349.9 L275.2,1349.9 L276.8,1373.0 L260.4,1401.0 L268.6,1419.1 L283.4,1445.5 L288.4,1468.6 L293.3,1471.9 L293.3,1511.5 L308.2,1518.1 L311.5,1537.8 L321.4,1570.8 L324.6,1603.8 L321.4,1636.8 L149.9,1636.8 Z" fill="none" stroke="#00e000" stroke-width="6.5" stroke-linejoin="round"/><path d="M149.9,1349.9 L275.2,1349.9 L276.8,1373.0 L260.4,1401.0 L268.6,1419.1 L283.4,1445.5 L288.4,1468.6 L293.3,1471.9 L293.3,1511.5 L308.2,1518.1 L311.5,1537.8 L321.4,1570.8 L324.6,1603.8 L321.4,1636.8 L149.9,1636.8 Z" fill="#ff0000" stroke="#e8f000" stroke-width="2.5" stroke-linejoin="round"/><line x1="192.8" y1="1448.0" x2="262.0" y2="1485.1" stroke="#20c0c0" stroke-width="3.2" stroke-linecap="round"/><ellipse cx="192.8" cy="1448.0" rx="3.6" ry="2.4" transform="rotate(28.2 192.8 1448.0)" fill="#3080d8"/><ellipse cx="204.3" cy="1454.2" rx="3.6" ry="2.4" transform="rotate(28.2 204.3 1454.2)" fill="#3080d8"/><ellipse cx="215.8" cy="1460.4" rx="3.6" ry="2.4" transform="rotate(28.2 215.8 1460.4)" fill="#3080d8"/><ellipse cx="227.4" cy="1466.5" rx="3.6" ry="2.4" transform="rotate(28.2 227.4 1466.5)" fill="#3080d8"/><ellipse cx="238.9" cy="1472.7" rx="3.6" ry="2.4" transform="rotate(28.2 238.9 1472.7)" fill="#3080d8"/><ellipse cx="250.5" cy="1478.9" rx="3.6" ry="2.4" transform="rotate(28.2 250.5 1478.9)" fill="#3080d8"/><ellipse cx="262.0" cy="1485.1" rx="3.6" ry="2.4" transform="rotate(28.2 262.0 1485.1)" fill="#3080d8"/><line x1="334.5" y1="1503.2" x2="414.5" y2="1544.4" stroke="#20b0c0" stroke-width="3.2" stroke-linecap="round"/><ellipse cx="334.5" cy="1503.2" rx="3.6" ry="2.4" transform="rotate(27.3 334.5 1503.2)" fill="#f07020"/><ellipse cx="344.5" cy="1508.4" rx="3.6" ry="2.4" transform="rotate(27.3 344.5 1508.4)" fill="#f07020"/><ellipse cx="354.5" cy="1513.5" rx="3.6" ry="2.4" transform="rotate(27.3 354.5 1513.5)" fill="#f07020"/><ellipse cx="364.5" cy="1518.7" rx="3.6" ry="2.4" transform="rotate(27.3 364.5 1518.7)" fill="#f07020"/><ellipse cx="374.5" cy="1523.8" rx="3.6" ry="2.4" transform="rotate(27.3 374.5 1523.8)" fill="#f07020"/><ellipse cx="384.5" cy="1529.0" rx="3.6" ry="2.4" transform="rotate(27.3 384.5 1529.0)" fill="#f07020"/><ellipse cx="394.5" cy="1534.1" rx="3.6" ry="2.4" transform="rotate(27.3 394.5 1534.1)" fill="#f07020"/><ellipse cx="404.5" cy="1539.3" rx="3.6" ry="2.4" transform="rotate(27.3 404.5 1539.3)" fill="#f07020"/><ellipse cx="414.5" cy="1544.4" rx="3.6" ry="2.4" transform="rotate(27.3 414.5 1544.4)" fill="#f07020"/><ellipse cx="297.9" cy="1493.3" rx="139.7" ry="132.7" fill="none" stroke="#1a1010" stroke-width="1.7"/></g></g>
<rect x="155.7" y="1354.5" width="53.5" height="91.8" fill="#ff8719"/>
<text x="168.3" y="1424.0" font-size="66.5" textLength="27.0" lengthAdjust="spacingAndGlyphs" fill="#000" >1</text>
<clipPath id="mc3"><rect x="447.4" y="1354.5" width="286.9" height="270.7"/></clipPath><g clip-path="url(#mc3)"><g filter="url(#blur1)"><rect x="442.4" y="1349.5" width="296.9" height="280.7" fill="#0000dc"/><g filter="url(#blur4)"><polygon points="761.5,1432.3 761.5,1653.2 423.5,1653.2 423.5,1551.0 489.5,1570.8 604.9,1587.3 720.3,1504.9" fill="#ff0000" /><ellipse cx="456.5" cy="1612.0" rx="60" ry="75" fill="url(#gY)"/><ellipse cx="449.9" cy="1546.1" rx="25" ry="30" fill="url(#gG)"/><ellipse cx="730.2" cy="1373.0" rx="45" ry="60" fill="url(#gC)"/><ellipse cx="731.8" cy="1442.2" rx="14" ry="22" fill="url(#gY)"/></g><clipPath id="ec2"><ellipse cx="591.6" cy="1490.8" rx="141.0" ry="132.7"/></clipPath><ellipse cx="591.6" cy="1490.8" rx="141.0" ry="132.7" fill="#00e000"/><g clip-path="url(#ec2)"><path d="M593.8,1492.9 L606.5,1484.7 L954.1,1319.2 L991.7,1491.3 L950.8,1664.5 L838.8,1802.9 L677.9,1879.0 L499.9,1877.7 L340.1,1799.3 L230.9,1661.1 L579.4,1497.5 Z" fill="#0000dc" stroke="#18d0f0" stroke-width="2.2" stroke-linejoin="round"/><path d="M589.5,1483.9 L576.8,1492.0 L229.3,1657.7 L191.7,1485.6 L232.5,1312.3 L344.5,1173.9 L505.5,1097.8 L683.5,1099.1 L843.3,1177.5 L952.5,1315.7 L603.9,1479.2 Z" fill="#ff0000" stroke="#f0e800" stroke-width="2.2" stroke-linejoin="round"/><ellipse cx="591.7" cy="1488.4" rx="13.6" ry="9.3" fill="#00e000" stroke="#60e8a0" stroke-width="1.5"/></g><ellipse cx="591.6" cy="1490.8" rx="139.2" ry="130.9" fill="none" stroke="#00e000" stroke-width="3.2"/><ellipse cx="591.6" cy="1490.8" rx="141.4" ry="133.1" fill="none" stroke="#103030" stroke-width="1.6"/></g></g>
<rect x="447.4" y="1354.5" width="53.6" height="89.4" fill="#ff8719"/>
<text x="460.0" y="1421.6" font-size="66.0" textLength="27.0" lengthAdjust="spacingAndGlyphs" fill="#000" >1</text>
<clipPath id="mc4"><rect x="737.4" y="1354.9" width="288.0" height="269.1"/></clipPath><g clip-path="url(#mc4)"><g filter="url(#blur1)"><rect x="732.4" y="1349.9" width="298.0" height="279.1" fill="#ff0000"/><path d="M839.6,1354.6 C840.4,1352.8 844.5,1349.7 847.3,1354.6 C850.1,1359.5 854.2,1376.4 856.5,1383.8 C858.8,1391.3 858.8,1388.5 861.2,1399.2 C863.5,1410.0 868.6,1437.4 870.4,1448.5 C872.2,1459.5 872.7,1465.4 871.9,1465.4 C871.2,1465.4 868.6,1454.4 865.8,1448.5 C862.9,1442.6 858.8,1435.1 855.0,1430.0 C851.2,1424.9 846.8,1421.8 842.7,1417.7 C838.6,1413.6 832.7,1409.0 830.4,1405.4 C828.1,1401.8 827.8,1400.3 828.8,1396.2 C829.9,1392.1 834.2,1385.9 836.5,1380.8 C838.8,1375.6 842.2,1369.7 842.7,1365.4 C843.2,1361.0 838.8,1356.4 839.6,1354.6 Z" fill="#b0e800" filter="url(#blur2)"/><path d="M839.6,1354.6 C840.1,1352.6 842.2,1349.7 844.2,1354.6 C846.3,1359.5 849.9,1376.2 851.9,1383.8 C854.0,1391.5 854.2,1391.0 856.5,1400.8 C858.8,1410.5 863.7,1432.8 865.8,1442.3 C867.8,1451.8 869.6,1458.7 868.8,1457.7 C868.1,1456.7 864.5,1442.1 861.2,1436.2 C857.8,1430.3 853.2,1426.9 848.8,1422.3 C844.5,1417.7 838.1,1412.3 835.0,1408.5 C831.9,1404.6 830.1,1403.3 830.4,1399.2 C830.6,1395.1 834.7,1389.2 836.5,1383.8 C838.3,1378.5 840.6,1371.8 841.2,1366.9 C841.7,1362.1 839.1,1356.7 839.6,1354.6 Z" fill="#00e040" filter="url(#blur2)"/><path d="M836.5,1380.8 C838.8,1379.2 841.2,1385.4 842.7,1390.0 C844.2,1394.6 843.7,1403.1 845.8,1408.5 C847.8,1413.8 856.8,1422.1 855.0,1422.3 C853.2,1422.6 839.4,1413.8 835.0,1410.0 C830.6,1406.2 828.6,1404.1 828.8,1399.2 C829.1,1394.4 834.2,1382.3 836.5,1380.8 Z" fill="#20d8e0" filter="url(#blur2)"/><path d="M870.4,1463.8 C873.5,1461.0 885.3,1467.4 888.8,1471.5 C892.4,1475.6 891.5,1481.5 891.9,1488.5 C892.3,1495.4 891.2,1507.9 891.2,1513.1 C891.2,1518.2 894.9,1520.3 891.9,1519.2 C889.0,1518.2 877.1,1512.1 873.5,1506.9 C869.9,1501.8 870.9,1495.6 870.4,1488.5 C869.9,1481.3 867.3,1466.7 870.4,1463.8 Z" fill="#b0e800" filter="url(#blur2)"/><path d="M870.4,1465.4 C872.3,1462.6 880.3,1467.7 882.7,1471.5 C885.1,1475.4 884.7,1482.1 885.0,1488.5 C885.3,1494.9 886.2,1507.4 884.2,1510.0 C882.3,1512.6 875.6,1507.4 873.5,1503.8 C871.3,1500.3 871.7,1494.9 871.2,1488.5 C870.6,1482.1 868.5,1468.2 870.4,1465.4 Z" fill="#00e040" filter="url(#blur2)"/><path d="M895.0,1531.5 C897.6,1535.1 905.5,1548.5 911.9,1556.2 C918.3,1563.8 929.6,1572.1 933.5,1577.7 C937.3,1583.3 936.5,1586.4 935.0,1590.0 C933.5,1593.6 926.3,1593.3 924.2,1599.2 C922.2,1605.1 923.5,1624.6 922.7,1625.4 C921.9,1626.2 920.1,1610.0 919.6,1603.8 C919.1,1597.7 920.6,1594.9 919.6,1588.5 C918.6,1582.1 916.0,1571.8 913.5,1565.4 C910.9,1559.0 907.1,1555.1 904.2,1550.0 C901.4,1544.9 898.1,1537.7 896.5,1534.6 C895.0,1531.5 892.4,1527.9 895.0,1531.5 Z" fill="#b0e800" filter="url(#blur2)"/><path d="M898.1,1534.6 C898.6,1534.1 907.8,1552.3 911.9,1559.2 C916.0,1566.2 920.9,1570.5 922.7,1576.2 C924.5,1581.8 923.1,1589.7 922.7,1593.1 C922.3,1596.4 921.2,1598.2 920.4,1596.2 C919.6,1594.1 920.0,1586.4 918.1,1580.8 C916.2,1575.1 912.2,1570.0 908.8,1562.3 C905.5,1554.6 897.6,1535.1 898.1,1534.6 Z" fill="#00e040" filter="url(#blur2)"/><polygon points="735.0,1350.0 839.6,1350.0 841.2,1365.4 835.0,1380.8 828.1,1396.2 830.4,1405.4 842.7,1417.7 858.1,1433.1 867.3,1448.5 870.4,1463.8 873.5,1466.9 879.6,1471.5 881.2,1488.5 881.2,1503.8 890.4,1510.0 891.9,1519.2 896.5,1534.6 904.2,1550.0 911.9,1565.4 916.5,1588.5 918.1,1603.8 919.6,1626.9 735.0,1626.9" fill="#0000dc" /><line x1="788.8" y1="1453.1" x2="842.7" y2="1479.2" stroke="#20c0a0" stroke-width="3.2" stroke-linecap="round"/><ellipse cx="788.8" cy="1453.1" rx="3.6" ry="2.4" transform="rotate(25.9 788.8 1453.1)" fill="#f06020"/><ellipse cx="799.6" cy="1458.3" rx="3.6" ry="2.4" transform="rotate(25.9 799.6 1458.3)" fill="#f06020"/><ellipse cx="810.4" cy="1463.5" rx="3.6" ry="2.4" transform="rotate(25.9 810.4 1463.5)" fill="#f06020"/><ellipse cx="821.2" cy="1468.8" rx="3.6" ry="2.4" transform="rotate(25.9 821.2 1468.8)" fill="#f06020"/><ellipse cx="831.9" cy="1474.0" rx="3.6" ry="2.4" transform="rotate(25.9 831.9 1474.0)" fill="#f06020"/><ellipse cx="842.7" cy="1479.2" rx="3.6" ry="2.4" transform="rotate(25.9 842.7 1479.2)" fill="#f06020"/><line x1="919.6" y1="1499.2" x2="998.1" y2="1541.5" stroke="#20b0c0" stroke-width="3.2" stroke-linecap="round"/><ellipse cx="919.6" cy="1499.2" rx="3.9" ry="2.6" transform="rotate(28.3 919.6 1499.2)" fill="#2050e0"/><ellipse cx="929.4" cy="1504.5" rx="3.9" ry="2.6" transform="rotate(28.3 929.4 1504.5)" fill="#2050e0"/><ellipse cx="939.2" cy="1509.8" rx="3.9" ry="2.6" transform="rotate(28.3 939.2 1509.8)" fill="#2050e0"/><ellipse cx="949.0" cy="1515.1" rx="3.9" ry="2.6" transform="rotate(28.3 949.0 1515.1)" fill="#2050e0"/><ellipse cx="958.8" cy="1520.4" rx="3.9" ry="2.6" transform="rotate(28.3 958.8 1520.4)" fill="#2050e0"/><ellipse cx="968.7" cy="1525.7" rx="3.9" ry="2.6" transform="rotate(28.3 968.7 1525.7)" fill="#2050e0"/><ellipse cx="978.5" cy="1531.0" rx="3.9" ry="2.6" transform="rotate(28.3 978.5 1531.0)" fill="#2050e0"/><ellipse cx="988.3" cy="1536.2" rx="3.9" ry="2.6" transform="rotate(28.3 988.3 1536.2)" fill="#2050e0"/><ellipse cx="998.1" cy="1541.5" rx="3.9" ry="2.6" transform="rotate(28.3 998.1 1541.5)" fill="#2050e0"/><ellipse cx="880.7" cy="1490.8" rx="141.8" ry="133" fill="none" stroke="#1a1010" stroke-width="1.7"/></g></g>
<rect x="739.0" y="1355.0" width="75.8" height="98.0" fill="#ff8719"/>
<text x="752.0" y="1429.2" font-size="67.4" textLength="27.3" lengthAdjust="spacingAndGlyphs" fill="#000" >1</text>
<text x="784.5" y="1402.3" font-size="40.6" textLength="20.3" lengthAdjust="spacingAndGlyphs" fill="#000" >*</text>
<clipPath id="mc6"><rect x="1029.0" y="1353.4" width="288.5" height="270.6"/></clipPath><g clip-path="url(#mc6)"><g filter="url(#blur1)"><rect x="1024.0" y="1348.4" width="298.5" height="280.6" fill="#0000dc"/><g filter="url(#blur4)"><polygon points="1012.6,1453.0 1057.2,1548.2 1116.7,1607.7 1235.7,1607.7 1339.8,1548.2 1339.8,1640.4 1012.6,1640.4" fill="#ff0000" /><ellipse cx="1304.1" cy="1583.9" rx="40" ry="55" fill="url(#gG)"/><ellipse cx="1033.4" cy="1616.6" rx="30" ry="35" fill="url(#gY)"/><ellipse cx="1317.5" cy="1357.8" rx="30" ry="40" fill="url(#gC)"/></g><clipPath id="ec5"><ellipse cx="1173.0" cy="1488.6" rx="141.0" ry="132.5"/></clipPath><ellipse cx="1173.0" cy="1488.6" rx="141.0" ry="132.5" fill="#00e000"/><g clip-path="url(#ec5)"><path d="M1175.8,1484.5 L1162.0,1478.3 L833.6,1277.5 L957.3,1152.0 L1124.7,1091.7 L1301.8,1110.0 L1453.4,1203.3 L1549.5,1353.1 L1571.1,1529.8 L1514.9,1696.8 L1187.6,1494.0 Z" fill="#ff0000" stroke="#f0e800" stroke-width="2.2" stroke-linejoin="round"/><path d="M1170.6,1493.0 L1184.4,1499.2 L1512.9,1700.0 L1389.2,1825.4 L1221.7,1885.8 L1044.6,1867.5 L893.0,1774.2 L796.9,1624.4 L775.3,1447.7 L831.6,1280.7 L1158.9,1483.5 Z" fill="#0000dc" stroke="#18d0f0" stroke-width="2.2" stroke-linejoin="round"/><ellipse cx="1173.2" cy="1488.7" rx="15.6" ry="10.0" fill="#00e000" stroke="#60e8a0" stroke-width="1.5"/></g><ellipse cx="1173.0" cy="1488.6" rx="139.2" ry="130.7" fill="none" stroke="#00e000" stroke-width="3.2"/><ellipse cx="1173.0" cy="1488.6" rx="141.4" ry="132.9" fill="none" stroke="#103030" stroke-width="1.6"/></g></g>
<rect x="1031.0" y="1352.5" width="77.4" height="98.2" fill="#ff8719"/>
<text x="1043.5" y="1429.2" font-size="67.4" textLength="27.4" lengthAdjust="spacingAndGlyphs" fill="#000" >1</text>
<text x="1076.0" y="1403.6" font-size="45.2" textLength="20.3" lengthAdjust="spacingAndGlyphs" fill="#000" >*</text>
<clipPath id="mc7"><rect x="155.5" y="1630.4" width="286.5" height="269.2"/></clipPath><g clip-path="url(#mc7)"><g filter="url(#blur1)"><rect x="150.5" y="1625.4" width="296.5" height="279.2" fill="#ff0000"/><path d="M225.4,1630.4 C229.0,1627.7 249.7,1627.7 251.5,1630.4 C253.3,1633.1 239.7,1643.8 236.2,1646.5 C232.6,1649.2 231.8,1649.2 230.0,1646.5 C228.2,1643.8 221.8,1633.1 225.4,1630.4 Z" fill="#20d8e0" filter="url(#blur2)"/><path d="M236.2,1630.4 C239.1,1627.8 251.0,1627.9 251.5,1630.4 C252.1,1632.8 242.2,1642.4 239.2,1645.0 C236.3,1647.6 234.4,1648.2 233.8,1645.8 C233.3,1643.3 233.2,1632.9 236.2,1630.4 Z" fill="#b0e800" filter="url(#blur2)"/><path d="M250.0,1649.6 C251.8,1647.6 257.4,1647.1 260.8,1649.6 C264.1,1652.2 267.2,1658.3 270.0,1665.0 C272.8,1671.7 275.1,1681.9 277.7,1689.6 C280.3,1697.3 283.6,1704.0 285.4,1711.2 C287.2,1718.3 289.5,1732.7 288.5,1732.7 C287.4,1732.7 282.8,1718.3 279.2,1711.2 C275.6,1704.0 270.8,1695.8 266.9,1689.6 C263.1,1683.5 259.0,1678.8 256.2,1674.2 C253.3,1669.6 251.0,1666.0 250.0,1661.9 C249.0,1657.8 248.2,1651.7 250.0,1649.6 Z" fill="#20d8e0" filter="url(#blur2)"/><path d="M256.2,1649.6 C257.2,1647.3 261.3,1647.6 263.8,1651.2 C266.4,1654.7 268.7,1663.2 271.5,1671.2 C274.4,1679.1 278.2,1689.9 280.8,1698.8 C283.3,1707.8 287.4,1724.5 286.9,1725.0 C286.4,1725.5 281.0,1708.8 277.7,1701.9 C274.4,1695.0 270.3,1689.6 266.9,1683.5 C263.6,1677.3 259.5,1670.6 257.7,1665.0 C255.9,1659.4 255.1,1651.9 256.2,1649.6 Z" fill="#00e040" filter="url(#blur2)"/><path d="M313.1,1809.6 C314.1,1809.6 321.4,1825.5 325.4,1832.7 C329.4,1839.9 335.4,1847.3 336.9,1852.7 C338.5,1858.1 337.3,1860.6 334.6,1865.0 C331.9,1869.4 322.1,1880.4 320.8,1878.8 C319.5,1877.3 327.2,1863.5 326.9,1855.8 C326.7,1848.1 321.5,1840.4 319.2,1832.7 C316.9,1825.0 312.1,1809.6 313.1,1809.6 Z" fill="#00e040" filter="url(#blur2)"/><path d="M316.2,1812.7 C316.7,1811.9 323.8,1829.1 326.9,1835.8 C330.0,1842.4 333.8,1848.1 334.6,1852.7 C335.4,1857.3 333.1,1861.9 331.5,1863.5 C330.0,1865.0 326.7,1865.8 325.4,1861.9 C324.1,1858.1 325.4,1848.6 323.8,1840.4 C322.3,1832.2 315.6,1813.5 316.2,1812.7 Z" fill="#20d8e0" filter="url(#blur2)"/><path d="M283.8,1768.1 C286.7,1766.0 298.7,1763.2 302.3,1766.5 C305.9,1769.9 306.4,1784.2 305.4,1788.1 C304.4,1791.9 299.5,1791.2 296.2,1789.6 C292.8,1788.1 287.4,1782.4 285.4,1778.8 C283.3,1775.3 281.0,1770.1 283.8,1768.1 Z" fill="#b0e800" filter="url(#blur2)"/><path d="M209.2,1625.0 L226.9,1625.0 L230.0,1646.5 L256.2,1648.1 L251.5,1663.5 L260.8,1683.5 L276.2,1705.0 L285.4,1723.5 L288.5,1738.8 L296.2,1745.0 L294.6,1760.4 L283.8,1763.5 L270.0,1758.8 L226.9,1760.4 L193.1,1761.9 L170.0,1749.6 L163.8,1741.9 L150.0,1738.8 L150.0,1720.4 L209.2,1720.4 Z" fill="none" stroke="#e8f000" stroke-width="11" stroke-linejoin="round"/><path d="M436.2,1732.7 L457.7,1732.7 L457.7,1901.9 L317.7,1901.9 L319.2,1878.8 L331.5,1855.8 L323.8,1840.4 L313.1,1809.6 L310.0,1791.2 L303.8,1788.1 L308.5,1777.3 L319.2,1771.2 L334.6,1774.2 L380.8,1774.2 L403.8,1768.1 L419.2,1748.1 Z" fill="none" stroke="#e8f000" stroke-width="11" stroke-linejoin="round"/><path d="M209.2,1625.0 L226.9,1625.0 L230.0,1646.5 L256.2,1648.1 L251.5,1663.5 L260.8,1683.5 L276.2,1705.0 L285.4,1723.5 L288.5,1738.8 L296.2,1745.0 L294.6,1760.4 L283.8,1763.5 L270.0,1758.8 L226.9,1760.4 L193.1,1761.9 L170.0,1749.6 L163.8,1741.9 L150.0,1738.8 L150.0,1720.4 L209.2,1720.4 Z" fill="none" stroke="#00e000" stroke-width="6.5" stroke-linejoin="round"/><path d="M436.2,1732.7 L457.7,1732.7 L457.7,1901.9 L317.7,1901.9 L319.2,1878.8 L331.5,1855.8 L323.8,1840.4 L313.1,1809.6 L310.0,1791.2 L303.8,1788.1 L308.5,1777.3 L319.2,1771.2 L334.6,1774.2 L380.8,1774.2 L403.8,1768.1 L419.2,1748.1 Z" fill="none" stroke="#00e000" stroke-width="6.5" stroke-linejoin="round"/><path d="M209.2,1625.0 L226.9,1625.0 L230.0,1646.5 L256.2,1648.1 L251.5,1663.5 L260.8,1683.5 L276.2,1705.0 L285.4,1723.5 L288.5,1738.8 L296.2,1745.0 L294.6,1760.4 L283.8,1763.5 L270.0,1758.8 L226.9,1760.4 L193.1,1761.9 L170.0,1749.6 L163.8,1741.9 L150.0,1738.8 L150.0,1720.4 L209.2,1720.4 Z" fill="#0000dc" stroke="#18d8e0" stroke-width="2.5" stroke-linejoin="round"/><path d="M436.2,1732.7 L457.7,1732.7 L457.7,1901.9 L317.7,1901.9 L319.2,1878.8 L331.5,1855.8 L323.8,1840.4 L313.1,1809.6 L310.0,1791.2 L303.8,1788.1 L308.5,1777.3 L319.2,1771.2 L334.6,1774.2 L380.8,1774.2 L403.8,1768.1 L419.2,1748.1 Z" fill="#0000dc" stroke="#18d8e0" stroke-width="2.5" stroke-linejoin="round"/><line x1="193.1" y1="1832.7" x2="256.2" y2="1800.4" stroke="#20c0c0" stroke-width="3.2" stroke-linecap="round"/><ellipse cx="193.1" cy="1832.7" rx="3.9" ry="2.6" transform="rotate(-27.1 193.1 1832.7)" fill="#2070e0"/><ellipse cx="203.6" cy="1827.3" rx="3.9" ry="2.6" transform="rotate(-27.1 203.6 1827.3)" fill="#2070e0"/><ellipse cx="214.1" cy="1821.9" rx="3.9" ry="2.6" transform="rotate(-27.1 214.1 1821.9)" fill="#2070e0"/><ellipse cx="224.6" cy="1816.5" rx="3.9" ry="2.6" transform="rotate(-27.1 224.6 1816.5)" fill="#2070e0"/><ellipse cx="235.1" cy="1811.2" rx="3.9" ry="2.6" transform="rotate(-27.1 235.1 1811.2)" fill="#2070e0"/><ellipse cx="245.6" cy="1805.8" rx="3.9" ry="2.6" transform="rotate(-27.1 245.6 1805.8)" fill="#2070e0"/><ellipse cx="256.2" cy="1800.4" rx="3.9" ry="2.6" transform="rotate(-27.1 256.2 1800.4)" fill="#2070e0"/><line x1="273.1" y1="1789.6" x2="283.8" y2="1783.5" stroke="#40c080" stroke-width="3.2" stroke-linecap="round"/><ellipse cx="273.1" cy="1789.6" rx="3.0" ry="2.0" transform="rotate(-29.7 273.1 1789.6)" fill="#30a0c0"/><ellipse cx="283.8" cy="1783.5" rx="3.0" ry="2.0" transform="rotate(-29.7 283.8 1783.5)" fill="#30a0c0"/><ellipse cx="296.9" cy="1764.2" rx="139.2" ry="132.3" fill="none" stroke="#1a1010" stroke-width="1.7"/></g></g>
<rect x="155.5" y="1631.3" width="53.5" height="86.9" fill="#ff8719"/>
<text x="163.5" y="1697.0" font-size="65.0" textLength="37.0" lengthAdjust="spacingAndGlyphs" fill="#000" >2</text>
<clipPath id="mc9"><rect x="447.9" y="1630.4" width="285.5" height="269.2"/></clipPath><g clip-path="url(#mc9)"><g filter="url(#blur1)"><rect x="442.9" y="1625.4" width="295.5" height="279.2" fill="#0000dc"/><g filter="url(#blur4)"><polygon points="500.4,1615.8 745.0,1615.8 745.0,1689.6 718.8,1697.3 698.8,1671.2 660.4,1645.0 591.2,1635.8 537.3,1641.9 500.4,1660.4" fill="#30d8f0" /><path d="M448.1,1797.3 C450.6,1788.3 458.8,1796.0 463.5,1801.9 C468.1,1807.8 475.0,1823.7 475.8,1832.7 C476.5,1841.7 472.7,1851.9 468.1,1855.8 C463.5,1859.6 451.4,1865.5 448.1,1855.8 C444.7,1846.0 445.5,1806.3 448.1,1797.3 Z" fill="#20d8e0" /><polygon points="435.8,1825.0 468.1,1829.6 483.5,1855.8 498.8,1909.6 435.8,1909.6" fill="#30e020" /><polygon points="435.8,1848.1 475.8,1843.5 494.2,1871.2 506.5,1909.6 435.8,1909.6" fill="#b0e400" /><polygon points="745.0,1817.3 714.2,1825.0 698.8,1855.8 691.2,1909.6 745.0,1909.6" fill="#30e020" /><polygon points="745.0,1855.8 709.6,1852.7 697.3,1878.8 691.2,1909.6 745.0,1909.6" fill="#b0e400" /><polygon points="485.0,1858.8 521.9,1885.0 591.2,1897.3 660.4,1885.0 697.3,1858.8 706.5,1909.6 475.8,1909.6" fill="#ff1800" /></g><clipPath id="ec8"><ellipse cx="591.4" cy="1763.5" rx="140.0" ry="133.0"/></clipPath><ellipse cx="591.4" cy="1763.5" rx="140.0" ry="133.0" fill="#00e000"/><g clip-path="url(#ec8)"><path d="M591.0,1760.0 L579.6,1755.2 L253.8,1550.1 L370.6,1431.7 L527.4,1370.8 L695.3,1379.7 L844.8,1456.9 L948.5,1586.9 L602.8,1756.4 Z" fill="#0000dc" stroke="#18d0f0" stroke-width="2.2" stroke-linejoin="round"/><path d="M601.0,1766.2 L605.5,1761.8 L950.2,1590.4 L990.2,1784.0 L932.6,1973.3 L605.0,1771.0 Z" fill="#ff0000" stroke="#f0e800" stroke-width="2.2" stroke-linejoin="round"/><path d="M590.3,1771.4 L601.9,1776.2 L930.6,1976.5 L813.2,2098.1 L654.2,2160.7 L483.6,2151.2 L332.5,2071.3 L229.3,1937.4 L578.4,1774.9 Z" fill="#0000dc" stroke="#18d0f0" stroke-width="2.2" stroke-linejoin="round"/><path d="M580.3,1765.1 L575.8,1769.4 L227.7,1933.9 L191.5,1740.6 L251.7,1553.3 L576.4,1760.3 Z" fill="#ff0000" stroke="#f0e800" stroke-width="2.2" stroke-linejoin="round"/><path d="M588.1,1788.1 C590.9,1779.4 591.4,1778.3 600.4,1788.1 C609.4,1797.8 639.1,1833.7 641.9,1846.5 C644.7,1859.4 625.5,1860.9 617.3,1865.0 C609.1,1869.1 598.3,1875.3 592.7,1871.2 C587.1,1867.1 584.2,1854.2 583.5,1840.4 C582.7,1826.5 585.3,1796.8 588.1,1788.1 Z" fill="#3aa0f0" opacity="0.8" filter="url(#blur4)"/><path d="M588.8,1648.1 C589.2,1641.9 592.2,1641.9 592.7,1648.1 C593.2,1654.2 592.3,1678.8 591.9,1685.0 C591.5,1691.2 590.9,1691.2 590.4,1685.0 C589.9,1678.8 588.5,1654.2 588.8,1648.1 Z" fill="#3080f0" opacity="0.6" filter="url(#blur2)"/><ellipse cx="590.7" cy="1765.8" rx="13.8" ry="11.2" fill="#00e000" stroke="#60e8a0" stroke-width="1.5"/></g><ellipse cx="591.4" cy="1763.5" rx="138.2" ry="131.2" fill="none" stroke="#00e000" stroke-width="3.2"/><ellipse cx="591.4" cy="1763.5" rx="140.4" ry="133.4" fill="none" stroke="#103030" stroke-width="1.6"/></g></g>
<rect x="447.9" y="1631.3" width="52.6" height="86.9" fill="#ff8719"/>
<text x="456.7" y="1697.3" font-size="65.1" textLength="35.2" lengthAdjust="spacingAndGlyphs" fill="#000" >2</text>
<clipPath id="mc10"><rect x="736.5" y="1630.4" width="288.9" height="270.6"/></clipPath><g clip-path="url(#mc10)"><g filter="url(#blur1)"><rect x="731.5" y="1625.4" width="298.9" height="280.6" fill="#0000dc"/><path d="M810.4,1630.4 C818.6,1627.9 861.2,1628.2 870.4,1630.4 C879.6,1632.6 874.0,1641.0 865.8,1643.5 C857.6,1645.9 830.4,1647.2 821.2,1645.0 C811.9,1642.8 802.2,1632.8 810.4,1630.4 Z" fill="#20d8e0" filter="url(#blur2)"/><path d="M815.0,1630.4 C819.9,1628.1 844.7,1628.5 851.9,1630.4 C859.1,1632.3 862.9,1639.6 858.1,1641.9 C853.2,1644.2 829.9,1646.2 822.7,1644.2 C815.5,1642.3 810.1,1632.7 815.0,1630.4 Z" fill="#00e040" filter="url(#blur2)"/><path d="M810.4,1630.4 C811.9,1628.1 825.3,1628.2 827.3,1630.4 C829.4,1632.6 824.2,1641.2 822.7,1643.5 C821.2,1645.8 820.1,1646.4 818.1,1644.2 C816.0,1642.1 808.8,1632.7 810.4,1630.4 Z" fill="#b0e800" filter="url(#blur2)"/><path d="M833.5,1663.5 C835.0,1659.1 841.7,1654.7 845.8,1651.2 C849.9,1647.6 855.5,1642.2 858.1,1641.9 C860.6,1641.7 861.4,1644.7 861.2,1649.6 C860.9,1654.5 856.0,1662.4 856.5,1671.2 C857.1,1679.9 861.9,1692.9 864.2,1701.9 C866.5,1710.9 869.6,1718.8 870.4,1725.0 C871.2,1731.2 870.4,1740.1 868.8,1738.8 C867.3,1737.6 864.5,1724.5 861.2,1717.3 C857.8,1710.1 852.9,1702.4 848.8,1695.8 C844.7,1689.1 839.1,1682.7 836.5,1677.3 C834.0,1671.9 831.9,1667.8 833.5,1663.5 Z" fill="#20d8e0" filter="url(#blur2)"/><path d="M836.5,1665.0 C838.3,1660.9 845.8,1655.0 848.8,1652.7 C851.9,1650.4 854.5,1648.1 855.0,1651.2 C855.5,1654.2 851.2,1663.2 851.9,1671.2 C852.7,1679.1 857.1,1690.1 859.6,1698.8 C862.2,1707.6 867.6,1721.4 867.3,1723.5 C867.1,1725.5 861.7,1716.3 858.1,1711.2 C854.5,1706.0 849.1,1698.3 845.8,1692.7 C842.4,1687.1 839.6,1681.9 838.1,1677.3 C836.5,1672.7 834.7,1669.1 836.5,1665.0 Z" fill="#00e040" filter="url(#blur2)"/><path d="M758.1,1749.6 C759.4,1749.9 764.5,1760.6 773.5,1761.9 C782.4,1763.2 799.4,1757.8 811.9,1757.3 C824.5,1756.8 840.1,1757.6 848.8,1758.8 C857.6,1760.1 865.3,1763.7 864.2,1765.0 C863.2,1766.3 851.4,1766.7 842.7,1766.5 C834.0,1766.4 823.2,1764.2 811.9,1764.2 C800.6,1764.2 782.7,1767.2 775.0,1766.5 C767.3,1765.9 768.6,1763.2 765.8,1760.4 C762.9,1757.6 756.8,1749.4 758.1,1749.6 Z" fill="#20d8e0" filter="url(#blur2)"/><path d="M898.1,1812.7 C899.9,1814.2 908.1,1833.2 911.9,1840.4 C915.8,1847.6 921.9,1850.1 921.2,1855.8 C920.4,1861.4 909.1,1874.7 907.3,1874.2 C905.5,1873.7 911.4,1859.9 910.4,1852.7 C909.4,1845.5 903.2,1837.8 901.2,1831.2 C899.1,1824.5 896.3,1811.2 898.1,1812.7 Z" fill="#b0e800" filter="url(#blur2)"/><path d="M904.2,1829.6 C905.0,1828.8 911.4,1839.1 913.5,1843.5 C915.5,1847.8 917.3,1852.2 916.5,1855.8 C915.8,1859.4 910.1,1866.3 908.8,1865.0 C907.6,1863.7 909.6,1854.0 908.8,1848.1 C908.1,1842.2 903.5,1830.4 904.2,1829.6 Z" fill="#00e040" filter="url(#blur2)"/><path d="M913.5,1772.7 C913.5,1772.2 923.7,1775.1 935.0,1775.8 C946.3,1776.4 970.9,1778.6 981.2,1776.5 C991.4,1774.5 991.4,1769.0 996.5,1763.5 C1001.7,1757.9 1011.2,1742.4 1011.9,1743.5 C1012.7,1744.5 1006.3,1763.5 1001.2,1769.6 C996.0,1775.8 992.2,1778.8 981.2,1780.4 C970.1,1781.9 946.3,1780.1 935.0,1778.8 C923.7,1777.6 913.5,1773.2 913.5,1772.7 Z" fill="#b0e800" filter="url(#blur2)"/><path d="M870.4,1763.5 C872.4,1757.3 879.9,1744.5 882.7,1741.9 C885.5,1739.4 886.3,1743.2 887.3,1748.1 C888.3,1752.9 887.1,1766.3 888.8,1771.2 C890.6,1776.0 898.1,1774.7 898.1,1777.3 C898.1,1779.9 890.6,1783.2 888.8,1786.5 C887.1,1789.9 888.3,1797.1 887.3,1797.3 C886.3,1797.6 885.5,1791.2 882.7,1788.1 C879.9,1785.0 872.4,1782.9 870.4,1778.8 C868.3,1774.7 868.3,1769.6 870.4,1763.5 Z" fill="#00e040" filter="url(#blur2)"/><path d="M797.3,1625.0 L810.4,1625.0 L821.2,1645.0 L858.1,1641.9 L845.8,1651.2 L833.5,1665.0 L835.0,1674.2 L845.8,1691.2 L858.1,1705.0 L867.3,1720.4 L870.4,1738.8 L876.5,1745.0 L873.5,1760.4 L864.2,1765.0 L848.8,1758.8 L811.9,1757.3 L773.5,1761.9 L758.1,1749.6 L744.2,1735.8 L735.0,1734.2 L735.0,1703.5 L797.3,1703.5 Z" fill="none" stroke="#18d8e0" stroke-width="11" stroke-linejoin="round"/><path d="M1019.6,1732.7 L1042.7,1732.7 L1042.7,1901.9 L887.3,1901.9 L887.3,1889.6 L896.5,1878.8 L919.6,1855.8 L911.9,1840.4 L896.5,1809.6 L891.9,1794.2 L888.8,1786.5 L896.5,1777.3 L910.4,1772.7 L935.0,1777.3 L981.2,1777.3 L996.5,1763.5 L1011.9,1743.5 Z" fill="none" stroke="#18d8e0" stroke-width="11" stroke-linejoin="round"/><path d="M797.3,1625.0 L810.4,1625.0 L821.2,1645.0 L858.1,1641.9 L845.8,1651.2 L833.5,1665.0 L835.0,1674.2 L845.8,1691.2 L858.1,1705.0 L867.3,1720.4 L870.4,1738.8 L876.5,1745.0 L873.5,1760.4 L864.2,1765.0 L848.8,1758.8 L811.9,1757.3 L773.5,1761.9 L758.1,1749.6 L744.2,1735.8 L735.0,1734.2 L735.0,1703.5 L797.3,1703.5 Z" fill="none" stroke="#00e000" stroke-width="6.5" stroke-linejoin="round"/><path d="M1019.6,1732.7 L1042.7,1732.7 L1042.7,1901.9 L887.3,1901.9 L887.3,1889.6 L896.5,1878.8 L919.6,1855.8 L911.9,1840.4 L896.5,1809.6 L891.9,1794.2 L888.8,1786.5 L896.5,1777.3 L910.4,1772.7 L935.0,1777.3 L981.2,1777.3 L996.5,1763.5 L1011.9,1743.5 Z" fill="none" stroke="#00e000" stroke-width="6.5" stroke-linejoin="round"/><path d="M797.3,1625.0 L810.4,1625.0 L821.2,1645.0 L858.1,1641.9 L845.8,1651.2 L833.5,1665.0 L835.0,1674.2 L845.8,1691.2 L858.1,1705.0 L867.3,1720.4 L870.4,1738.8 L876.5,1745.0 L873.5,1760.4 L864.2,1765.0 L848.8,1758.8 L811.9,1757.3 L773.5,1761.9 L758.1,1749.6 L744.2,1735.8 L735.0,1734.2 L735.0,1703.5 L797.3,1703.5 Z" fill="#ff0000" stroke="#e8f000" stroke-width="2.5" stroke-linejoin="round"/><path d="M1019.6,1732.7 L1042.7,1732.7 L1042.7,1901.9 L887.3,1901.9 L887.3,1889.6 L896.5,1878.8 L919.6,1855.8 L911.9,1840.4 L896.5,1809.6 L891.9,1794.2 L888.8,1786.5 L896.5,1777.3 L910.4,1772.7 L935.0,1777.3 L981.2,1777.3 L996.5,1763.5 L1011.9,1743.5 Z" fill="#ff0000" stroke="#e8f000" stroke-width="2.5" stroke-linejoin="round"/><ellipse cx="922.7" cy="1677.3" rx="12" ry="20" fill="url(#gLB)"/><ellipse cx="842.7" cy="1845.0" rx="9" ry="16" fill="url(#gLB)"/><line x1="773.5" y1="1834.2" x2="836.5" y2="1801.9" stroke="#20b0c0" stroke-width="3.2" stroke-linecap="round"/><ellipse cx="773.5" cy="1834.2" rx="3.9" ry="2.6" transform="rotate(-27.1 773.5 1834.2)" fill="#f05020"/><ellipse cx="784.0" cy="1828.8" rx="3.9" ry="2.6" transform="rotate(-27.1 784.0 1828.8)" fill="#f05020"/><ellipse cx="794.5" cy="1823.5" rx="3.9" ry="2.6" transform="rotate(-27.1 794.5 1823.5)" fill="#f05020"/><ellipse cx="805.0" cy="1818.1" rx="3.9" ry="2.6" transform="rotate(-27.1 805.0 1818.1)" fill="#f05020"/><ellipse cx="815.5" cy="1812.7" rx="3.9" ry="2.6" transform="rotate(-27.1 815.5 1812.7)" fill="#f05020"/><ellipse cx="826.0" cy="1807.3" rx="3.9" ry="2.6" transform="rotate(-27.1 826.0 1807.3)" fill="#f05020"/><ellipse cx="836.5" cy="1801.9" rx="3.9" ry="2.6" transform="rotate(-27.1 836.5 1801.9)" fill="#f05020"/><ellipse cx="881.2" cy="1766" rx="141.5" ry="132.7" fill="none" stroke="#1a1010" stroke-width="1.7"/></g></g>
<rect x="738.3" y="1631.3" width="59.5" height="71.4" fill="#ff8719"/>
<text x="745.2" y="1687.0" font-size="51.8" textLength="29.7" lengthAdjust="spacingAndGlyphs" fill="#000" >2</text>
<text x="772.8" y="1666.2" font-size="36.5" textLength="18.5" lengthAdjust="spacingAndGlyphs" fill="#000" >*</text>
<clipPath id="mc12"><rect x="1029.5" y="1630.4" width="291.0" height="270.6"/></clipPath><g clip-path="url(#mc12)"><g filter="url(#blur1)"><rect x="1024.5" y="1625.4" width="301.0" height="280.6" fill="#0000dc"/><g filter="url(#blur4)"><ellipse cx="1313.0" cy="1643.8" rx="80" ry="70" fill="url(#gG)"/><ellipse cx="1316.0" cy="1709.2" rx="20" ry="40" fill="url(#gY)"/><polygon points="1029.6,1834.2 1057.2,1834.2 1072.1,1846.1 1029.6,1849.1" fill="#20d8f0" /><polygon points="1320.5,1828.2 1295.2,1834.2 1301.1,1846.1 1320.5,1849.1" fill="#20d8f0" /><polygon points="1029.6,1810.4 1045.3,1813.4 1051.3,1831.2 1029.6,1834.2" fill="#40e040" /><polygon points="1313.0,1709.2 1320.5,1709.2 1320.5,1828.2 1313.0,1828.2" fill="#30e030" /></g><clipPath id="ec11"><ellipse cx="1175.5" cy="1764.3" rx="143.5" ry="132.4"/></clipPath><ellipse cx="1175.5" cy="1764.3" rx="143.5" ry="132.4" fill="#00e000"/><g clip-path="url(#ec11)"><path d="M1175.0,1761.5 L1163.8,1756.6 L839.7,1548.7 L956.3,1432.1 L1111.9,1372.2 L1278.4,1380.9 L1426.9,1456.8 L1530.7,1584.9 L1186.7,1757.8 Z" fill="#ff0000" stroke="#f0e800" stroke-width="2.2" stroke-linejoin="round"/><path d="M1185.0,1767.7 L1189.5,1763.2 L1532.5,1588.3 L1574.4,1783.1 L1517.1,1974.0 L1189.1,1772.5 Z" fill="#0000dc" stroke="#18d0f0" stroke-width="2.2" stroke-linejoin="round"/><path d="M1174.4,1772.9 L1185.9,1777.7 L1515.1,1977.3 L1397.9,2099.2 L1238.9,2162.1 L1068.1,2152.8 L916.8,2073.0 L813.5,1939.1 L1162.4,1776.4 Z" fill="#ff0000" stroke="#f0e800" stroke-width="2.2" stroke-linejoin="round"/><path d="M1164.4,1766.6 L1159.8,1770.9 L811.9,1935.6 L775.6,1740.5 L837.6,1551.9 L1160.5,1761.7 Z" fill="#0000dc" stroke="#18d0f0" stroke-width="2.2" stroke-linejoin="round"/><ellipse cx="1156.9" cy="1838.6" rx="11" ry="22" fill="url(#gO)"/><ellipse cx="1174.7" cy="1767.2" rx="12.3" ry="12.3" fill="#00e000" stroke="#60e8a0" stroke-width="1.5"/></g><ellipse cx="1175.5" cy="1764.3" rx="141.7" ry="130.6" fill="none" stroke="#00e000" stroke-width="3.2"/><ellipse cx="1175.5" cy="1764.3" rx="143.9" ry="132.8" fill="none" stroke="#103030" stroke-width="1.6"/></g></g>
<rect x="1030.4" y="1631.3" width="78.9" height="97.3" fill="#ff8719"/>
<text x="1038.9" y="1706.3" font-size="67.5" textLength="35.7" lengthAdjust="spacingAndGlyphs" fill="#000" >2</text>
<text x="1076.0" y="1681.6" font-size="48.8" textLength="20.3" lengthAdjust="spacingAndGlyphs" fill="#000" >*</text>
<clipPath id="mc13"><rect x="155.5" y="1903.3" width="287.3" height="269.8"/></clipPath><g clip-path="url(#mc13)"><g filter="url(#blur1)"><rect x="150.5" y="1898.3" width="297.3" height="279.8" fill="#0000dc"/><path d="M373.1,1904.6 C383.8,1902.3 430.8,1900.0 442.3,1904.6 C453.8,1909.2 451.8,1927.6 442.3,1932.3 C432.8,1937.1 396.2,1935.4 385.4,1933.1 C374.6,1930.8 379.7,1923.2 377.7,1918.5 C375.6,1913.7 362.3,1906.9 373.1,1904.6 Z" fill="#b0e800" filter="url(#blur2)"/><path d="M373.1,1904.6 C374.4,1900.3 383.1,1900.3 385.4,1904.6 C387.7,1909.0 388.2,1926.4 386.9,1930.8 C385.6,1935.1 380.0,1935.1 377.7,1930.8 C375.4,1926.4 371.8,1909.0 373.1,1904.6 Z" fill="#20d8e0" filter="url(#blur2)"/><path d="M396.2,2127.7 C403.8,2120.1 434.6,2120.1 442.3,2127.7 C450.0,2135.3 450.0,2165.5 442.3,2173.1 C434.6,2180.6 403.8,2180.6 396.2,2173.1 C388.5,2165.5 388.5,2135.3 396.2,2127.7 Z" fill="#20d8e0" filter="url(#blur2)"/><path d="M403.8,2140.0 C407.9,2136.8 424.1,2148.3 426.9,2153.8 C429.7,2159.4 424.9,2169.9 420.8,2173.1 C416.7,2176.3 405.1,2178.6 402.3,2173.1 C399.5,2167.6 399.7,2143.2 403.8,2140.0 Z" fill="#00e040" filter="url(#blur2)"/><path d="M240.8,1906.2 C242.1,1904.1 243.6,1902.8 245.4,1906.2 C247.2,1909.5 247.9,1920.5 251.5,1926.2 C255.1,1931.8 262.8,1934.1 266.9,1940.0 C271.0,1945.9 273.3,1953.8 276.2,1961.5 C279.0,1969.2 281.5,1978.5 283.8,1986.2 C286.2,1993.8 289.7,2003.6 290.0,2007.7 C290.3,2011.8 287.4,2014.4 285.4,2010.8 C283.3,2007.2 280.8,1994.4 277.7,1986.2 C274.6,1977.9 270.5,1968.2 266.9,1961.5 C263.3,1954.9 260.3,1950.8 256.2,1946.2 C252.1,1941.5 245.4,1938.5 242.3,1933.8 C239.2,1929.2 237.9,1923.1 237.7,1918.5 C237.4,1913.8 239.5,1908.2 240.8,1906.2 Z" fill="#00e040" filter="url(#blur2)"/><path d="M339.2,1935.4 C345.4,1929.7 370.0,1931.5 376.2,1935.4 C382.3,1939.2 375.4,1952.8 376.2,1958.5 C376.9,1964.1 382.6,1966.2 380.8,1969.2 C379.0,1972.3 371.5,1972.1 365.4,1976.9 C359.2,1981.8 348.5,1995.9 343.8,1998.5 C339.2,2001.0 338.5,1997.2 337.7,1992.3 C336.9,1987.4 339.0,1978.7 339.2,1969.2 C339.5,1959.7 333.1,1941.0 339.2,1935.4 Z" fill="#20d8e0" filter="url(#blur2)"/><path d="M354.6,1936.9 C358.7,1932.8 371.0,1932.8 374.6,1936.9 C378.2,1941.0 375.6,1956.2 376.2,1961.5 C376.7,1966.9 380.8,1966.2 377.7,1969.2 C374.6,1972.3 362.3,1981.3 357.7,1980.0 C353.1,1978.7 350.5,1968.7 350.0,1961.5 C349.5,1954.4 350.5,1941.0 354.6,1936.9 Z" fill="#00e040" filter="url(#blur2)"/><path d="M156.2,2006.2 C158.2,2005.9 163.8,2006.4 168.5,2009.2 C173.1,2012.1 178.7,2019.2 183.8,2023.1 C189.0,2026.9 191.5,2031.0 199.2,2032.3 C206.9,2033.6 219.7,2031.0 230.0,2030.8 C240.3,2030.5 253.6,2030.0 260.8,2030.8 C267.9,2031.5 271.5,2034.1 273.1,2035.4 C274.6,2036.7 275.1,2037.9 270.0,2038.5 C264.9,2039.0 251.5,2037.7 242.3,2038.5 C233.1,2039.2 222.3,2041.5 214.6,2043.1 C206.9,2044.6 200.5,2047.9 196.2,2047.7 C191.8,2047.4 191.5,2045.1 188.5,2041.5 C185.4,2037.9 181.8,2030.8 177.7,2026.2 C173.6,2021.5 167.4,2016.4 163.8,2013.8 C160.3,2011.3 157.4,2012.1 156.2,2010.8 C154.9,2009.5 154.1,2006.4 156.2,2006.2 Z" fill="#20d8e0" filter="url(#blur2)"/><path d="M163.8,2007.7 C163.3,2006.2 174.9,2013.3 180.8,2016.9 C186.7,2020.5 191.0,2027.4 199.2,2029.2 C207.4,2031.0 219.7,2027.7 230.0,2027.7 C240.3,2027.7 254.1,2027.9 260.8,2029.2 C267.4,2030.5 275.1,2034.6 270.0,2035.4 C264.9,2036.2 241.5,2033.6 230.0,2033.8 C218.5,2034.1 208.5,2038.2 200.8,2036.9 C193.1,2035.6 190.0,2031.0 183.8,2026.2 C177.7,2021.3 164.4,2009.2 163.8,2007.7 Z" fill="#00e040" filter="url(#blur2)"/><path d="M194.6,2103.1 C201.0,2097.9 245.1,2077.2 256.2,2075.4 C267.2,2073.6 260.3,2084.4 260.8,2092.3 C261.3,2100.3 259.0,2113.6 259.2,2123.1 C259.5,2132.6 263.6,2144.9 262.3,2149.2 C261.0,2153.6 255.9,2154.1 251.5,2149.2 C247.2,2144.4 241.8,2127.2 236.2,2120.0 C230.5,2112.8 224.6,2109.0 217.7,2106.2 C210.8,2103.3 188.2,2108.2 194.6,2103.1 Z" fill="#20d8e0" filter="url(#blur2)"/><path d="M226.9,2100.0 C229.7,2094.9 250.8,2076.9 256.2,2076.9 C261.5,2076.9 259.0,2091.0 259.2,2100.0 C259.5,2109.0 259.5,2126.9 257.7,2130.8 C255.9,2134.6 251.5,2126.9 248.5,2123.1 C245.4,2119.2 242.8,2111.5 239.2,2107.7 C235.6,2103.8 224.1,2105.1 226.9,2100.0 Z" fill="#00e040" filter="url(#blur2)"/><path d="M319.2,2036.9 C321.8,2035.3 339.7,2035.4 350.0,2033.8 C360.3,2032.3 371.8,2029.0 380.8,2027.7 C389.7,2026.4 398.5,2025.1 403.8,2026.2 C409.2,2027.2 409.5,2027.9 413.1,2033.8 C416.7,2039.7 422.3,2053.7 425.4,2061.5 C428.5,2069.4 432.6,2078.7 431.5,2080.8 C430.5,2082.8 425.1,2078.1 419.2,2073.8 C413.3,2069.6 405.1,2059.7 396.2,2055.4 C387.2,2051.0 375.6,2049.6 365.4,2047.7 C355.1,2045.8 342.3,2045.6 334.6,2043.8 C326.9,2042.1 316.7,2038.6 319.2,2036.9 Z" fill="#b0e800" filter="url(#blur2)"/><path d="M326.9,2042.3 C328.2,2041.3 353.8,2042.9 365.4,2044.6 C376.9,2046.3 387.2,2047.9 396.2,2052.3 C405.1,2056.7 414.1,2066.2 419.2,2070.8 C424.4,2075.4 428.2,2079.7 426.9,2080.0 C425.6,2080.3 417.9,2075.4 411.5,2072.3 C405.1,2069.2 397.4,2065.1 388.5,2061.5 C379.5,2057.9 367.9,2054.0 357.7,2050.8 C347.4,2047.6 325.6,2043.3 326.9,2042.3 Z" fill="#00e040" filter="url(#blur2)"/><path d="M317.7,2083.1 C319.0,2082.8 322.8,2097.4 326.9,2103.1 C331.0,2108.7 333.3,2114.1 342.3,2116.9 C351.3,2119.7 369.5,2119.6 380.8,2120.0 C392.1,2120.4 404.9,2118.3 410.0,2119.2 C415.1,2120.1 421.5,2124.1 411.5,2125.4 C401.5,2126.7 363.6,2127.3 350.0,2126.9 C336.4,2126.5 335.1,2126.8 330.0,2123.1 C324.9,2119.4 321.3,2111.3 319.2,2104.6 C317.2,2097.9 316.4,2083.3 317.7,2083.1 Z" fill="#b0e800" filter="url(#blur2)"/><path d="M208.5,1904.6 L241.5,1904.6 L242.3,1915.4 L248.5,1930.8 L263.8,1943.1 L273.1,1961.5 L282.3,1986.2 L288.5,2007.7 L296.2,2020.0 L303.8,2027.7 L305.4,2038.5 L306.9,2053.8 L310.0,2069.2 L316.2,2084.6 L323.8,2104.6 L334.6,2118.5 L350.0,2123.1 L380.8,2123.1 L410.0,2121.5 L411.5,2130.8 L403.8,2146.2 L399.2,2176.9 L263.8,2176.9 L260.8,2146.2 L257.7,2100.0 L257.7,2076.9 L260.8,2069.2 L277.7,2056.9 L279.2,2041.5 L273.1,2035.4 L257.7,2032.3 L226.9,2033.8 L203.8,2041.5 L194.6,2038.5 L180.8,2023.1 L165.4,2009.2 L153.1,2006.2 L153.1,1993.8 L208.5,1993.8 Z" fill="none" stroke="#18d8e0" stroke-width="11" stroke-linejoin="round"/><path d="M376.2,1938.5 L385.4,1931.5 L445.4,1929.2 L445.4,2081.5 L430.0,2081.5 L420.8,2061.5 L411.5,2033.8 L396.2,2029.2 L365.4,2035.4 L334.6,2041.5 L319.2,2038.5 L317.7,2027.7 L323.8,2020.0 L342.3,2010.8 L357.7,1998.5 L380.8,1983.1 L405.4,1970.8 L380.8,1969.2 L376.2,1958.5 Z" fill="none" stroke="#18d8e0" stroke-width="11" stroke-linejoin="round"/><path d="M208.5,1904.6 L241.5,1904.6 L242.3,1915.4 L248.5,1930.8 L263.8,1943.1 L273.1,1961.5 L282.3,1986.2 L288.5,2007.7 L296.2,2020.0 L303.8,2027.7 L305.4,2038.5 L306.9,2053.8 L310.0,2069.2 L316.2,2084.6 L323.8,2104.6 L334.6,2118.5 L350.0,2123.1 L380.8,2123.1 L410.0,2121.5 L411.5,2130.8 L403.8,2146.2 L399.2,2176.9 L263.8,2176.9 L260.8,2146.2 L257.7,2100.0 L257.7,2076.9 L260.8,2069.2 L277.7,2056.9 L279.2,2041.5 L273.1,2035.4 L257.7,2032.3 L226.9,2033.8 L203.8,2041.5 L194.6,2038.5 L180.8,2023.1 L165.4,2009.2 L153.1,2006.2 L153.1,1993.8 L208.5,1993.8 Z" fill="none" stroke="#00e000" stroke-width="6.5" stroke-linejoin="round"/><path d="M376.2,1938.5 L385.4,1931.5 L445.4,1929.2 L445.4,2081.5 L430.0,2081.5 L420.8,2061.5 L411.5,2033.8 L396.2,2029.2 L365.4,2035.4 L334.6,2041.5 L319.2,2038.5 L317.7,2027.7 L323.8,2020.0 L342.3,2010.8 L357.7,1998.5 L380.8,1983.1 L405.4,1970.8 L380.8,1969.2 L376.2,1958.5 Z" fill="none" stroke="#00e000" stroke-width="6.5" stroke-linejoin="round"/><path d="M208.5,1904.6 L241.5,1904.6 L242.3,1915.4 L248.5,1930.8 L263.8,1943.1 L273.1,1961.5 L282.3,1986.2 L288.5,2007.7 L296.2,2020.0 L303.8,2027.7 L305.4,2038.5 L306.9,2053.8 L310.0,2069.2 L316.2,2084.6 L323.8,2104.6 L334.6,2118.5 L350.0,2123.1 L380.8,2123.1 L410.0,2121.5 L411.5,2130.8 L403.8,2146.2 L399.2,2176.9 L263.8,2176.9 L260.8,2146.2 L257.7,2100.0 L257.7,2076.9 L260.8,2069.2 L277.7,2056.9 L279.2,2041.5 L273.1,2035.4 L257.7,2032.3 L226.9,2033.8 L203.8,2041.5 L194.6,2038.5 L180.8,2023.1 L165.4,2009.2 L153.1,2006.2 L153.1,1993.8 L208.5,1993.8 Z" fill="#ff0000" stroke="#e8f000" stroke-width="2.5" stroke-linejoin="round"/><path d="M376.2,1938.5 L385.4,1931.5 L445.4,1929.2 L445.4,2081.5 L430.0,2081.5 L420.8,2061.5 L411.5,2033.8 L396.2,2029.2 L365.4,2035.4 L334.6,2041.5 L319.2,2038.5 L317.7,2027.7 L323.8,2020.0 L342.3,2010.8 L357.7,1998.5 L380.8,1983.1 L405.4,1970.8 L380.8,1969.2 L376.2,1958.5 Z" fill="#ff0000" stroke="#e8f000" stroke-width="2.5" stroke-linejoin="round"/><line x1="191.5" y1="2104.6" x2="256.2" y2="2073.8" stroke="#20e0a0" stroke-width="3.2" stroke-linecap="round"/><ellipse cx="191.5" cy="2104.6" rx="3.6" ry="2.4" transform="rotate(-25.5 191.5 2104.6)" fill="#ff5020"/><ellipse cx="200.8" cy="2100.2" rx="3.6" ry="2.4" transform="rotate(-25.5 200.8 2100.2)" fill="#ff5020"/><ellipse cx="210.0" cy="2095.8" rx="3.6" ry="2.4" transform="rotate(-25.5 210.0 2095.8)" fill="#ff5020"/><ellipse cx="219.2" cy="2091.4" rx="3.6" ry="2.4" transform="rotate(-25.5 219.2 2091.4)" fill="#ff5020"/><ellipse cx="228.5" cy="2087.0" rx="3.6" ry="2.4" transform="rotate(-25.5 228.5 2087.0)" fill="#ff5020"/><ellipse cx="237.7" cy="2082.6" rx="3.6" ry="2.4" transform="rotate(-25.5 237.7 2082.6)" fill="#ff5020"/><ellipse cx="246.9" cy="2078.2" rx="3.6" ry="2.4" transform="rotate(-25.5 246.9 2078.2)" fill="#ff5020"/><ellipse cx="256.2" cy="2073.8" rx="3.6" ry="2.4" transform="rotate(-25.5 256.2 2073.8)" fill="#ff5020"/><line x1="342.3" y1="2000.0" x2="405.4" y2="1970.8" stroke="#20c8f0" stroke-width="3.2" stroke-linecap="round"/><ellipse cx="342.3" cy="2000.0" rx="3.6" ry="2.4" transform="rotate(-24.9 342.3 2000.0)" fill="#2040f0"/><ellipse cx="350.2" cy="1996.3" rx="3.6" ry="2.4" transform="rotate(-24.9 350.2 1996.3)" fill="#2040f0"/><ellipse cx="358.1" cy="1992.7" rx="3.6" ry="2.4" transform="rotate(-24.9 358.1 1992.7)" fill="#2040f0"/><ellipse cx="366.0" cy="1989.0" rx="3.6" ry="2.4" transform="rotate(-24.9 366.0 1989.0)" fill="#2040f0"/><ellipse cx="373.8" cy="1985.4" rx="3.6" ry="2.4" transform="rotate(-24.9 373.8 1985.4)" fill="#2040f0"/><ellipse cx="381.7" cy="1981.7" rx="3.6" ry="2.4" transform="rotate(-24.9 381.7 1981.7)" fill="#2040f0"/><ellipse cx="389.6" cy="1978.1" rx="3.6" ry="2.4" transform="rotate(-24.9 389.6 1978.1)" fill="#2040f0"/><ellipse cx="397.5" cy="1974.4" rx="3.6" ry="2.4" transform="rotate(-24.9 397.5 1974.4)" fill="#2040f0"/><ellipse cx="405.4" cy="1970.8" rx="3.6" ry="2.4" transform="rotate(-24.9 405.4 1970.8)" fill="#2040f0"/><ellipse cx="310.0" cy="2029.2" rx="5" ry="7" fill="#00e000"/><ellipse cx="297.7" cy="2037.7" rx="140" ry="133" fill="none" stroke="#1a1010" stroke-width="1.7"/><ellipse cx="155.4" cy="2173.1" rx="40" ry="25" fill="url(#gC)"/></g></g>
<rect x="155.5" y="1904.0" width="53.5" height="89.0" fill="#ff8719"/>
<text x="164.9" y="1969.0" font-size="65.6" textLength="32.7" lengthAdjust="spacingAndGlyphs" fill="#000" >3</text>
<clipPath id="mc15"><rect x="447.9" y="1903.3" width="285.5" height="269.8"/></clipPath><g clip-path="url(#mc15)"><g filter="url(#blur1)"><rect x="442.9" y="1898.3" width="295.5" height="279.8" fill="#0000dc"/><g filter="url(#blur4)"><polygon points="501.4,1903.3 598.1,1903.3 586.2,1912.8 501.4,1915.8" fill="#60e020" /><ellipse cx="732.0" cy="1906.9" rx="110" ry="90" fill="url(#gC)"/></g><clipPath id="ec14"><ellipse cx="592.0" cy="2037.8" rx="141.0" ry="133.0"/></clipPath><ellipse cx="592.0" cy="2037.8" rx="141.0" ry="133.0" fill="#00e000"/><g clip-path="url(#ec14)"><path d="M586.2,2026.3 L579.4,2024.5 L248.6,1827.4 L403.8,1681.2 L612.0,1635.4 L588.5,2019.7 Z" fill="#0000dc" stroke="#18d0f0" stroke-width="2.2" stroke-linejoin="round"/><path d="M596.1,2026.8 L594.6,2020.0 L615.8,1635.6 L816.7,1704.8 L953.9,1867.2 L603.1,2025.8 Z" fill="#ff0000" stroke="#f0e800" stroke-width="2.2" stroke-linejoin="round"/><path d="M601.0,2035.6 L605.6,2031.4 L955.4,1870.7 L989.5,2065.6 L925.9,2253.0 L604.9,2040.5 Z" fill="#0000dc" stroke="#18d0f0" stroke-width="2.2" stroke-linejoin="round"/><path d="M595.4,2043.9 L601.5,2045.6 L923.8,2256.2 L774.4,2390.1 L578.6,2434.6 L593.2,2049.9 Z" fill="#ff0000" stroke="#f0e800" stroke-width="2.2" stroke-linejoin="round"/><path d="M585.4,2042.8 L587.1,2049.7 L574.8,2434.5 L370.3,2368.6 L229.3,2206.4 L578.4,2043.9 Z" fill="#0000dc" stroke="#18d0f0" stroke-width="2.2" stroke-linejoin="round"/><path d="M580.0,2034.3 L575.8,2038.4 L227.7,2203.0 L191.2,2014.5 L246.7,1830.6 L576.2,2029.7 Z" fill="#ff0000" stroke="#f0e800" stroke-width="2.2" stroke-linejoin="round"/><ellipse cx="639.7" cy="1957.5" rx="14" ry="12" fill="url(#gO)" opacity="0.8"/><ellipse cx="505.9" cy="2028.9" rx="16" ry="12" fill="url(#gO)" opacity="0.8"/><ellipse cx="627.8" cy="2103.2" rx="18" ry="22" fill="url(#gO)" opacity="0.8"/><ellipse cx="590.7" cy="2034.8" rx="12.3" ry="11.2" fill="#00e000" stroke="#60e8a0" stroke-width="1.5"/></g><ellipse cx="592.0" cy="2037.8" rx="139.2" ry="131.2" fill="none" stroke="#00e000" stroke-width="3.2"/><ellipse cx="592.0" cy="2037.8" rx="141.4" ry="133.4" fill="none" stroke="#103030" stroke-width="1.6"/></g></g>
<rect x="447.9" y="1904.0" width="52.6" height="89.2" fill="#ff8719"/>
<text x="456.7" y="1969.0" font-size="65.3" textLength="32.3" lengthAdjust="spacingAndGlyphs" fill="#000" >3</text>
<clipPath id="mc16"><rect x="736.5" y="1905.4" width="288.9" height="269.2"/></clipPath><g clip-path="url(#mc16)"><g filter="url(#blur1)"><rect x="731.5" y="1900.4" width="298.9" height="279.2" fill="#0000dc"/><path d="M947.3,1905.4 C959.1,1901.7 1012.7,1899.6 1025.8,1905.4 C1038.8,1911.2 1033.2,1937.1 1025.8,1940.0 C1018.3,1942.9 992.9,1925.1 981.2,1923.1 C969.4,1921.0 960.6,1930.6 955.0,1927.7 C949.4,1924.7 935.5,1909.1 947.3,1905.4 Z" fill="#b0e800" filter="url(#blur2)"/><path d="M947.3,1905.4 C948.3,1901.9 956.5,1901.9 958.1,1905.4 C959.6,1908.8 957.6,1922.7 956.5,1926.2 C955.5,1929.6 953.5,1929.6 951.9,1926.2 C950.4,1922.7 946.3,1908.8 947.3,1905.4 Z" fill="#20d8e0" filter="url(#blur2)"/><path d="M988.8,2130.8 C995.8,2123.6 1019.6,2123.6 1025.8,2130.8 C1031.9,2137.9 1032.7,2166.7 1025.8,2173.8 C1018.8,2181.0 990.4,2181.0 984.2,2173.8 C978.1,2166.7 981.9,2137.9 988.8,2130.8 Z" fill="#20d8e0" filter="url(#blur2)"/><path d="M993.5,2140.0 C997.6,2137.4 1009.9,2152.8 1011.9,2158.5 C1014.0,2164.1 1009.9,2171.3 1005.8,2173.8 C1001.7,2176.4 989.4,2179.5 987.3,2173.8 C985.3,2168.2 989.4,2142.6 993.5,2140.0 Z" fill="#00e040" filter="url(#blur2)"/><path d="M737.3,2138.5 C744.6,2135.1 769.2,2151.3 781.2,2153.8 C793.1,2156.4 803.7,2150.5 808.8,2153.8 C814.0,2157.2 823.8,2170.5 811.9,2173.8 C800.0,2177.2 749.7,2179.7 737.3,2173.8 C724.9,2167.9 730.0,2141.8 737.3,2138.5 Z" fill="#20d8e0" filter="url(#blur2)"/><path d="M781.2,2161.5 C783.7,2157.9 803.7,2150.3 808.8,2152.3 C814.0,2154.4 814.5,2170.3 811.9,2173.8 C809.4,2177.4 798.6,2175.9 793.5,2173.8 C788.3,2171.8 778.6,2165.1 781.2,2161.5 Z" fill="#00e040" filter="url(#blur2)"/><path d="M815.0,1944.6 C819.6,1941.8 836.0,1943.8 842.7,1944.6 C849.4,1945.4 851.9,1945.1 855.0,1949.2 C858.1,1953.3 858.8,1961.0 861.2,1969.2 C863.5,1977.4 866.8,1990.5 868.8,1998.5 C870.9,2006.4 873.7,2013.8 873.5,2016.9 C873.2,2020.0 870.4,2021.0 867.3,2016.9 C864.2,2012.8 860.6,1999.7 855.0,1992.3 C849.4,1984.9 840.1,1977.4 833.5,1972.3 C826.8,1967.2 818.1,1966.2 815.0,1961.5 C811.9,1956.9 810.4,1947.4 815.0,1944.6 Z" fill="#20d8e0" filter="url(#blur2)"/><path d="M815.0,1950.8 C819.1,1950.0 832.9,1950.8 839.6,1953.8 C846.3,1956.9 850.6,1961.8 855.0,1969.2 C859.4,1976.7 863.2,1990.8 865.8,1998.5 C868.3,2006.2 871.7,2015.4 870.4,2015.4 C869.1,2015.4 863.2,2004.9 858.1,1998.5 C852.9,1992.1 846.8,1983.6 839.6,1976.9 C832.4,1970.3 819.1,1962.8 815.0,1958.5 C810.9,1954.1 810.9,1951.5 815.0,1950.8 Z" fill="#00e040" filter="url(#blur2)"/><path d="M951.9,1923.1 C954.5,1924.6 953.5,1939.2 955.0,1946.2 C956.5,1953.1 959.4,1960.0 961.2,1964.6 C962.9,1969.2 968.8,1970.3 965.8,1973.8 C962.7,1977.4 949.9,1981.0 942.7,1986.2 C935.5,1991.3 927.1,2004.6 922.7,2004.6 C918.3,2004.6 917.1,1992.8 916.5,1986.2 C916.0,1979.5 918.1,1971.3 919.6,1964.6 C921.2,1957.9 922.4,1950.8 925.8,1946.2 C929.1,1941.5 935.3,1940.8 939.6,1936.9 C944.0,1933.1 949.4,1921.5 951.9,1923.1 Z" fill="#20d8e0" filter="url(#blur2)"/><path d="M947.3,1933.8 C950.4,1933.8 950.9,1944.6 953.5,1950.8 C956.0,1956.9 964.7,1965.4 962.7,1970.8 C960.6,1976.2 947.3,1978.5 941.2,1983.1 C935.0,1987.7 927.8,2000.0 925.8,1998.5 C923.7,1996.9 927.3,1981.8 928.8,1973.8 C930.4,1965.9 931.9,1957.4 935.0,1950.8 C938.1,1944.1 944.2,1933.8 947.3,1933.8 Z" fill="#00e040" filter="url(#blur2)"/><path d="M741.2,2001.5 C742.4,2001.5 751.4,2007.7 758.1,2010.8 C764.7,2013.8 773.5,2017.4 781.2,2020.0 C788.8,2022.6 795.3,2023.8 804.2,2026.2 C813.2,2028.5 826.0,2032.1 835.0,2033.8 C844.0,2035.6 854.0,2035.9 858.1,2036.9 C862.2,2037.9 864.7,2039.6 859.6,2040.0 C854.5,2040.4 836.5,2038.8 827.3,2039.2 C818.1,2039.6 811.9,2040.3 804.2,2042.3 C796.5,2044.4 786.8,2050.6 781.2,2051.5 C775.5,2052.4 772.9,2051.2 770.4,2047.7 C767.8,2044.2 769.1,2036.9 765.8,2030.8 C762.4,2024.6 754.5,2015.6 750.4,2010.8 C746.3,2005.9 739.9,2001.5 741.2,2001.5 Z" fill="#20d8e0" filter="url(#blur2)"/><path d="M750.4,2006.2 C751.2,2004.9 764.5,2014.9 773.5,2018.5 C782.4,2022.1 792.7,2024.9 804.2,2027.7 C815.8,2030.5 842.7,2033.8 842.7,2035.4 C842.7,2036.9 815.0,2036.4 804.2,2036.9 C793.5,2037.4 784.0,2040.3 778.1,2038.5 C772.2,2036.7 773.5,2031.5 768.8,2026.2 C764.2,2020.8 749.6,2007.4 750.4,2006.2 Z" fill="#00e040" filter="url(#blur2)"/><path d="M773.5,2107.7 C780.4,2102.1 830.6,2077.9 842.7,2075.4 C854.7,2072.8 847.1,2085.6 845.8,2092.3 C844.5,2099.0 839.1,2106.4 835.0,2115.4 C830.9,2124.4 825.3,2139.7 821.2,2146.2 C817.1,2152.6 812.4,2156.4 810.4,2153.8 C808.3,2151.3 810.4,2138.2 808.8,2130.8 C807.3,2123.3 807.1,2113.1 801.2,2109.2 C795.3,2105.4 766.5,2113.3 773.5,2107.7 Z" fill="#20d8e0" filter="url(#blur2)"/><path d="M804.2,2103.1 C808.8,2096.9 836.3,2079.0 842.7,2078.5 C849.1,2077.9 845.3,2091.3 842.7,2100.0 C840.1,2108.7 831.7,2125.6 827.3,2130.8 C822.9,2135.9 818.6,2133.3 816.5,2130.8 C814.5,2128.2 817.1,2120.0 815.0,2115.4 C812.9,2110.8 799.6,2109.2 804.2,2103.1 Z" fill="#00e040" filter="url(#blur2)"/><path d="M904.2,2043.1 C909.4,2041.5 937.6,2040.5 950.4,2038.5 C963.2,2036.4 974.0,2031.3 981.2,2030.8 C988.3,2030.3 989.6,2030.3 993.5,2035.4 C997.3,2040.5 1000.6,2053.6 1004.2,2061.5 C1007.8,2069.5 1015.0,2080.5 1015.0,2083.1 C1015.0,2085.6 1009.9,2080.3 1004.2,2076.9 C998.6,2073.6 990.1,2067.2 981.2,2063.1 C972.2,2059.0 960.6,2054.9 950.4,2052.3 C940.1,2049.7 927.3,2049.2 919.6,2047.7 C911.9,2046.2 899.1,2044.6 904.2,2043.1 Z" fill="#b0e800" filter="url(#blur2)"/><path d="M919.6,2046.2 C918.3,2044.9 940.1,2045.9 950.4,2047.7 C960.6,2049.5 971.9,2052.3 981.2,2056.9 C990.4,2061.5 1004.5,2073.3 1005.8,2075.4 C1007.1,2077.4 996.8,2072.6 988.8,2069.2 C980.9,2065.9 969.6,2059.2 958.1,2055.4 C946.5,2051.5 920.9,2047.4 919.6,2046.2 Z" fill="#00e040" filter="url(#blur2)"/><path d="M895.0,2084.6 C895.5,2084.6 900.1,2099.5 904.2,2104.6 C908.3,2109.7 911.9,2112.8 919.6,2115.4 C927.3,2117.9 938.6,2119.0 950.4,2120.0 C962.2,2121.0 983.7,2120.5 990.4,2121.5 C997.1,2122.6 999.6,2125.1 990.4,2126.2 C981.2,2127.2 948.1,2127.9 935.0,2127.7 C921.9,2127.4 917.6,2128.5 911.9,2124.6 C906.3,2120.8 904.0,2111.3 901.2,2104.6 C898.3,2097.9 894.5,2084.6 895.0,2084.6 Z" fill="#b0e800" filter="url(#blur2)"/><path d="M815.0,1961.5 L835.0,1972.3 L855.0,1989.2 L867.3,2004.6 L873.5,2021.5 L876.5,2032.3 L873.5,2043.1 L868.8,2052.3 L862.7,2058.5 L855.0,2066.2 L845.8,2076.9 L842.7,2084.6 L833.5,2107.7 L821.2,2130.8 L811.9,2153.8 L811.9,2176.9 L984.2,2176.9 L988.8,2153.8 L996.5,2130.8 L990.4,2124.6 L935.0,2126.2 L911.9,2123.1 L904.2,2104.6 L895.0,2084.6 L891.9,2069.2 L882.7,2063.1 L878.1,2053.8 L873.5,2046.2 L870.4,2041.5 L858.1,2036.9 L835.0,2033.8 L804.2,2026.2 L781.2,2020.0 L758.1,2010.8 L739.6,2001.5 L739.6,1998.5 L815.0,1998.5 Z" fill="none" stroke="#18d8e0" stroke-width="11" stroke-linejoin="round"/><path d="M950.4,1930.8 L981.2,1923.1 L1027.3,1938.5 L1027.3,2083.1 L1015.0,2083.1 L1004.2,2061.5 L993.5,2035.4 L981.2,2030.8 L950.4,2038.5 L919.6,2044.6 L904.2,2043.1 L901.2,2030.8 L904.2,2023.1 L919.6,2013.8 L935.0,2003.1 L958.1,1986.2 L988.8,1972.3 L965.8,1973.8 L955.0,1958.5 L950.4,1940.0 Z" fill="none" stroke="#18d8e0" stroke-width="11" stroke-linejoin="round"/><path d="M815.0,1961.5 L835.0,1972.3 L855.0,1989.2 L867.3,2004.6 L873.5,2021.5 L876.5,2032.3 L873.5,2043.1 L868.8,2052.3 L862.7,2058.5 L855.0,2066.2 L845.8,2076.9 L842.7,2084.6 L833.5,2107.7 L821.2,2130.8 L811.9,2153.8 L811.9,2176.9 L984.2,2176.9 L988.8,2153.8 L996.5,2130.8 L990.4,2124.6 L935.0,2126.2 L911.9,2123.1 L904.2,2104.6 L895.0,2084.6 L891.9,2069.2 L882.7,2063.1 L878.1,2053.8 L873.5,2046.2 L870.4,2041.5 L858.1,2036.9 L835.0,2033.8 L804.2,2026.2 L781.2,2020.0 L758.1,2010.8 L739.6,2001.5 L739.6,1998.5 L815.0,1998.5 Z" fill="none" stroke="#00e000" stroke-width="6.5" stroke-linejoin="round"/><path d="M950.4,1930.8 L981.2,1923.1 L1027.3,1938.5 L1027.3,2083.1 L1015.0,2083.1 L1004.2,2061.5 L993.5,2035.4 L981.2,2030.8 L950.4,2038.5 L919.6,2044.6 L904.2,2043.1 L901.2,2030.8 L904.2,2023.1 L919.6,2013.8 L935.0,2003.1 L958.1,1986.2 L988.8,1972.3 L965.8,1973.8 L955.0,1958.5 L950.4,1940.0 Z" fill="none" stroke="#00e000" stroke-width="6.5" stroke-linejoin="round"/><path d="M815.0,1961.5 L835.0,1972.3 L855.0,1989.2 L867.3,2004.6 L873.5,2021.5 L876.5,2032.3 L873.5,2043.1 L868.8,2052.3 L862.7,2058.5 L855.0,2066.2 L845.8,2076.9 L842.7,2084.6 L833.5,2107.7 L821.2,2130.8 L811.9,2153.8 L811.9,2176.9 L984.2,2176.9 L988.8,2153.8 L996.5,2130.8 L990.4,2124.6 L935.0,2126.2 L911.9,2123.1 L904.2,2104.6 L895.0,2084.6 L891.9,2069.2 L882.7,2063.1 L878.1,2053.8 L873.5,2046.2 L870.4,2041.5 L858.1,2036.9 L835.0,2033.8 L804.2,2026.2 L781.2,2020.0 L758.1,2010.8 L739.6,2001.5 L739.6,1998.5 L815.0,1998.5 Z" fill="#ff0000" stroke="#e8f000" stroke-width="2.5" stroke-linejoin="round"/><path d="M950.4,1930.8 L981.2,1923.1 L1027.3,1938.5 L1027.3,2083.1 L1015.0,2083.1 L1004.2,2061.5 L993.5,2035.4 L981.2,2030.8 L950.4,2038.5 L919.6,2044.6 L904.2,2043.1 L901.2,2030.8 L904.2,2023.1 L919.6,2013.8 L935.0,2003.1 L958.1,1986.2 L988.8,1972.3 L965.8,1973.8 L955.0,1958.5 L950.4,1940.0 Z" fill="#ff0000" stroke="#e8f000" stroke-width="2.5" stroke-linejoin="round"/><line x1="773.5" y1="2107.7" x2="838.1" y2="2076.9" stroke="#20e0a0" stroke-width="3.2" stroke-linecap="round"/><ellipse cx="773.5" cy="2107.7" rx="3.6" ry="2.4" transform="rotate(-25.5 773.5 2107.7)" fill="#ff5020"/><ellipse cx="782.7" cy="2103.3" rx="3.6" ry="2.4" transform="rotate(-25.5 782.7 2103.3)" fill="#ff5020"/><ellipse cx="791.9" cy="2098.9" rx="3.6" ry="2.4" transform="rotate(-25.5 791.9 2098.9)" fill="#ff5020"/><ellipse cx="801.2" cy="2094.5" rx="3.6" ry="2.4" transform="rotate(-25.5 801.2 2094.5)" fill="#ff5020"/><ellipse cx="810.4" cy="2090.1" rx="3.6" ry="2.4" transform="rotate(-25.5 810.4 2090.1)" fill="#ff5020"/><ellipse cx="819.6" cy="2085.7" rx="3.6" ry="2.4" transform="rotate(-25.5 819.6 2085.7)" fill="#ff5020"/><ellipse cx="828.8" cy="2081.3" rx="3.6" ry="2.4" transform="rotate(-25.5 828.8 2081.3)" fill="#ff5020"/><ellipse cx="838.1" cy="2076.9" rx="3.6" ry="2.4" transform="rotate(-25.5 838.1 2076.9)" fill="#ff5020"/><line x1="925.8" y1="2004.6" x2="988.8" y2="1972.3" stroke="#20c8f0" stroke-width="3.2" stroke-linecap="round"/><ellipse cx="925.8" cy="2004.6" rx="3.6" ry="2.4" transform="rotate(-27.1 925.8 2004.6)" fill="#2040f0"/><ellipse cx="933.7" cy="2000.6" rx="3.6" ry="2.4" transform="rotate(-27.1 933.7 2000.6)" fill="#2040f0"/><ellipse cx="941.5" cy="1996.5" rx="3.6" ry="2.4" transform="rotate(-27.1 941.5 1996.5)" fill="#2040f0"/><ellipse cx="949.4" cy="1992.5" rx="3.6" ry="2.4" transform="rotate(-27.1 949.4 1992.5)" fill="#2040f0"/><ellipse cx="957.3" cy="1988.5" rx="3.6" ry="2.4" transform="rotate(-27.1 957.3 1988.5)" fill="#2040f0"/><ellipse cx="965.2" cy="1984.4" rx="3.6" ry="2.4" transform="rotate(-27.1 965.2 1984.4)" fill="#2040f0"/><ellipse cx="973.1" cy="1980.4" rx="3.6" ry="2.4" transform="rotate(-27.1 973.1 1980.4)" fill="#2040f0"/><ellipse cx="981.0" cy="1976.3" rx="3.6" ry="2.4" transform="rotate(-27.1 981.0 1976.3)" fill="#2040f0"/><ellipse cx="988.8" cy="1972.3" rx="3.6" ry="2.4" transform="rotate(-27.1 988.8 1972.3)" fill="#2040f0"/><ellipse cx="881.2" cy="2038.5" rx="6" ry="8" fill="#20e0a0"/><ellipse cx="881.5" cy="2039" rx="141" ry="133" fill="none" stroke="#1a1010" stroke-width="1.7"/></g></g>
<rect x="738.3" y="1906.3" width="76.5" height="94.3" fill="#ff8719"/>
<text x="749.4" y="1977.9" font-size="65.1" textLength="30.6" lengthAdjust="spacingAndGlyphs" fill="#000" >3</text>
<text x="782.8" y="1956.6" font-size="48.8" textLength="22.2" lengthAdjust="spacingAndGlyphs" fill="#000" >*</text>
<clipPath id="mc18"><rect x="1029.0" y="1905.4" width="287.0" height="269.2"/></clipPath><g clip-path="url(#mc18)"><g filter="url(#blur1)"><rect x="1024.0" y="1900.4" width="297.0" height="279.2" fill="#0000dc"/><g filter="url(#blur4)"><ellipse cx="1316.0" cy="2043.7" rx="25" ry="140" fill="url(#gC)"/><ellipse cx="1029.0" cy="2147.8" rx="70" ry="60" fill="url(#gC)"/><ellipse cx="1316.0" cy="1912.8" rx="90" ry="80" fill="url(#gC)"/></g><clipPath id="ec17"><ellipse cx="1173.2" cy="2037.8" rx="141.0" ry="133.0"/></clipPath><ellipse cx="1173.2" cy="2037.8" rx="141.0" ry="133.0" fill="#00e000"/><g clip-path="url(#ec17)"><path d="M1168.4,2029.6 L1161.3,2028.2 L819.5,1851.1 L969.9,1693.3 L1180.7,1637.9 L1170.5,2022.7 Z" fill="#0000dc" stroke="#18d0f0" stroke-width="2.2" stroke-linejoin="round"/><path d="M1178.4,2030.0 L1176.6,2022.9 L1184.5,1637.9 L1394.4,1704.5 L1537.2,1871.9 L1185.7,2028.9 Z" fill="#ff0000" stroke="#f0e800" stroke-width="2.2" stroke-linejoin="round"/><path d="M1183.7,2038.6 L1188.2,2034.4 L1538.8,1875.4 L1572.2,2067.1 L1511.2,2251.8 L1187.5,2043.3 Z" fill="#0000dc" stroke="#18d0f0" stroke-width="2.2" stroke-linejoin="round"/><path d="M1177.6,2046.6 L1184.2,2048.4 L1509.1,2255.0 L1353.3,2394.9 L1148.2,2437.0 L1175.3,2053.0 Z" fill="#ff0000" stroke="#f0e800" stroke-width="2.2" stroke-linejoin="round"/><path d="M1167.7,2046.1 L1169.2,2052.5 L1144.4,2436.8 L950.0,2369.7 L814.6,2214.9 L1161.1,2047.1 Z" fill="#0000dc" stroke="#18d0f0" stroke-width="2.2" stroke-linejoin="round"/><path d="M1162.1,2037.6 L1158.4,2041.6 L812.9,2211.4 L773.3,2032.4 L817.7,1854.4 L1158.5,2033.5 Z" fill="#ff0000" stroke="#f0e800" stroke-width="2.2" stroke-linejoin="round"/><ellipse cx="1173.2" cy="2037.8" rx="11.2" ry="10.0" fill="#00e000" stroke="#60e8a0" stroke-width="1.5"/></g><ellipse cx="1173.2" cy="2037.8" rx="139.2" ry="131.2" fill="none" stroke="#00e000" stroke-width="3.2"/><ellipse cx="1173.2" cy="2037.8" rx="141.4" ry="133.4" fill="none" stroke="#103030" stroke-width="1.6"/></g></g>
<rect x="1031.0" y="1906.3" width="78.3" height="94.3" fill="#ff8719"/>
<text x="1040.9" y="1977.9" font-size="65.1" textLength="30.6" lengthAdjust="spacingAndGlyphs" fill="#000" >3</text>
<text x="1074.4" y="1956.6" font-size="48.8" textLength="22.1" lengthAdjust="spacingAndGlyphs" fill="#000" >*</text>
<text x="217.1" y="1328.4" font-size="94" textLength="118.5" lengthAdjust="spacingAndGlyphs" fill="#000" >(c)</text>
<text x="525.2" y="1328.4" font-size="94" textLength="126.8" lengthAdjust="spacingAndGlyphs" fill="#000" >(d)</text>
<text x="822.4" y="1328.4" font-size="94" textLength="121.4" lengthAdjust="spacingAndGlyphs" fill="#000" >(e)</text>
<text x="1141.6" y="1323.9" font-size="94" textLength="104.7" lengthAdjust="spacingAndGlyphs" fill="#000" >(f)</text>
<defs><linearGradient id="cbar" x1="0" y1="0" x2="0" y2="1"><stop offset="0" stop-color="#ff0000"/><stop offset="0.1" stop-color="#ff4000"/><stop offset="0.2" stop-color="#ff8800"/><stop offset="0.28" stop-color="#ffc000"/><stop offset="0.33" stop-color="#ffff00"/><stop offset="0.39" stop-color="#a0f000"/><stop offset="0.43" stop-color="#00d000"/><stop offset="0.51" stop-color="#009a10"/><stop offset="0.58" stop-color="#006878"/><stop offset="0.655" stop-color="#0020f8"/><stop offset="0.72" stop-color="#0000e0"/><stop offset="0.82" stop-color="#000090"/><stop offset="0.9" stop-color="#150080"/><stop offset="1" stop-color="#400090"/></linearGradient></defs>
<rect x="1357" y="1389" width="56" height="742" fill="url(#cbar)"/>
<line x1="1414.0" y1="1389.0" x2="1414.0" y2="2131.0" stroke="#222" stroke-width="2.5" />
<line x1="1414.0" y1="1389.0" x2="1427.0" y2="1389.0" stroke="#222" stroke-width="2.5" />
<line x1="1414.0" y1="1463.2" x2="1427.0" y2="1463.2" stroke="#222" stroke-width="2.5" />
<line x1="1414.0" y1="1537.4" x2="1427.0" y2="1537.4" stroke="#222" stroke-width="2.5" />
<line x1="1414.0" y1="1611.6" x2="1427.0" y2="1611.6" stroke="#222" stroke-width="2.5" />
<line x1="1414.0" y1="1685.8" x2="1427.0" y2="1685.8" stroke="#222" stroke-width="2.5" />
<line x1="1414.0" y1="1760.0" x2="1427.0" y2="1760.0" stroke="#222" stroke-width="2.5" />
<line x1="1414.0" y1="1834.2" x2="1427.0" y2="1834.2" stroke="#222" stroke-width="2.5" />
<line x1="1414.0" y1="1908.4" x2="1427.0" y2="1908.4" stroke="#222" stroke-width="2.5" />
<line x1="1414.0" y1="1982.6" x2="1427.0" y2="1982.6" stroke="#222" stroke-width="2.5" />
<line x1="1414.0" y1="2056.8" x2="1427.0" y2="2056.8" stroke="#222" stroke-width="2.5" />
<line x1="1414.0" y1="2131.0" x2="1427.0" y2="2131.0" stroke="#222" stroke-width="2.5" />
<text x="1440.3" y="1412.0" font-size="61" textLength="27.0" lengthAdjust="spacingAndGlyphs" fill="#000" >1</text>
<text x="1422.2" y="2154.7" font-size="61" textLength="52.6" lengthAdjust="spacingAndGlyphs" fill="#000" >-1</text>
<line x1="1752.8" y1="1362.9" x2="2414.9" y2="1362.9" stroke="#111" stroke-width="2.7" stroke-dasharray="7,4.5"/>
<line x1="1752.8" y1="1362.9" x2="1752.8" y2="1989.5" stroke="#111" stroke-width="2.7" stroke-dasharray="7,4.5"/>
<line x1="1752.8" y1="1989.5" x2="2248.0" y2="1989.5" stroke="#111" stroke-width="2.7" stroke-dasharray="7,4.5"/>
<line x1="1585.9" y1="1449.2" x2="2248.0" y2="1449.2" stroke="#111" stroke-width="2.7" stroke-dasharray="7,4.5"/>
<line x1="1585.9" y1="1449.2" x2="1585.9" y2="2082.2" stroke="#111" stroke-width="2.7" stroke-dasharray="7,4.5"/>
<line x1="1585.9" y1="2082.2" x2="2248.0" y2="2082.2" stroke="#111" stroke-width="2.7" stroke-dasharray="7,4.5"/>
<line x1="1585.9" y1="1449.2" x2="1752.8" y2="1362.9" stroke="#111" stroke-width="2.7" stroke-dasharray="7,4.5"/>
<line x1="1585.9" y1="2082.2" x2="1752.8" y2="1989.5" stroke="#111" stroke-width="2.7" stroke-dasharray="7,4.5"/>
<polygon points="2248.0,1449.2 2417.5,1362.9 2417.5,1989.5 2248.0,2082.2" fill="#ff8020" />
<line x1="2248.3" y1="1449.2" x2="2248.3" y2="2082.2" stroke="#8aaad8" stroke-width="1.4" />
<circle cx="2001.7" cy="1716.0" r="234.5" fill="#063c34"/>
<circle cx="2001.7" cy="1710.0" r="234" fill="#f2f200" stroke="#6a7a10" stroke-width="1.2"/>
<circle cx="2001.7" cy="1710.0" r="215" fill="#00f0d4" stroke="#3a8a50" stroke-width="1.6"/>
<line x1="2001.5" y1="1500.0" x2="2004.6" y2="1642.3" stroke="#2a7a50" stroke-width="7.4" stroke-linecap="butt"/>
<line x1="2001.5" y1="1500.0" x2="2004.6" y2="1642.3" stroke="#f2f200" stroke-width="5" stroke-linecap="butt"/>
<line x1="2033.8" y1="1496.2" x2="2036.9" y2="1635.4" stroke="#2a7a50" stroke-width="7.4" stroke-linecap="butt"/>
<line x1="2033.8" y1="1496.2" x2="2036.9" y2="1635.4" stroke="#f2f200" stroke-width="5" stroke-linecap="butt"/>
<line x1="2060.0" y1="1673.0" x2="2184.6" y2="1602.3" stroke="#2a7a50" stroke-width="7.4" stroke-linecap="butt"/>
<line x1="2060.0" y1="1673.0" x2="2184.6" y2="1602.3" stroke="#f2f200" stroke-width="5" stroke-linecap="butt"/>
<line x1="2083.0" y1="1700.8" x2="2203.0" y2="1630.0" stroke="#2a7a50" stroke-width="7.4" stroke-linecap="butt"/>
<line x1="2083.0" y1="1700.8" x2="2203.0" y2="1630.0" stroke="#f2f200" stroke-width="5" stroke-linecap="butt"/>
<line x1="2058.5" y1="1744.6" x2="2186.2" y2="1809.2" stroke="#2a7a50" stroke-width="7.4" stroke-linecap="butt"/>
<line x1="2058.5" y1="1744.6" x2="2186.2" y2="1809.2" stroke="#f2f200" stroke-width="5" stroke-linecap="butt"/>
<line x1="2048.5" y1="1773.0" x2="2171.5" y2="1834.6" stroke="#2a7a50" stroke-width="7.4" stroke-linecap="butt"/>
<line x1="2048.5" y1="1773.0" x2="2171.5" y2="1834.6" stroke="#f2f200" stroke-width="5" stroke-linecap="butt"/>
<line x1="1967.7" y1="1779.2" x2="1970.0" y2="1917.7" stroke="#2a7a50" stroke-width="7.4" stroke-linecap="butt"/>
<line x1="1967.7" y1="1779.2" x2="1970.0" y2="1917.7" stroke="#f2f200" stroke-width="5" stroke-linecap="butt"/>
<line x1="2000.0" y1="1773.0" x2="2002.3" y2="1914.6" stroke="#2a7a50" stroke-width="7.4" stroke-linecap="butt"/>
<line x1="2000.0" y1="1773.0" x2="2002.3" y2="1914.6" stroke="#f2f200" stroke-width="5" stroke-linecap="butt"/>
<line x1="1800.0" y1="1783.8" x2="1920.8" y2="1714.6" stroke="#2a7a50" stroke-width="7.4" stroke-linecap="butt"/>
<line x1="1800.0" y1="1783.8" x2="1920.8" y2="1714.6" stroke="#f2f200" stroke-width="5" stroke-linecap="butt"/>
<line x1="1820.0" y1="1811.5" x2="1941.5" y2="1740.8" stroke="#2a7a50" stroke-width="7.4" stroke-linecap="butt"/>
<line x1="1820.0" y1="1811.5" x2="1941.5" y2="1740.8" stroke="#f2f200" stroke-width="5" stroke-linecap="butt"/>
<line x1="1836.5" y1="1574.2" x2="1956.5" y2="1641.4" stroke="#2a7a50" stroke-width="7.4" stroke-linecap="butt"/>
<line x1="1836.5" y1="1574.2" x2="1956.5" y2="1641.4" stroke="#f2f200" stroke-width="5" stroke-linecap="butt"/>
<line x1="1818.7" y1="1605.8" x2="1944.6" y2="1670.4" stroke="#2a7a50" stroke-width="7.4" stroke-linecap="butt"/>
<line x1="1818.7" y1="1605.8" x2="1944.6" y2="1670.4" stroke="#f2f200" stroke-width="5" stroke-linecap="butt"/>
<circle cx="2001.7" cy="1706" r="66" fill="#f2f200" stroke="#3a8a50" stroke-width="1.4"/>
<line x1="2357.6" y1="1726.8" x2="2357.6" y2="1858.0" stroke="#dd0000" stroke-width="6.5" />
<polygon points="2358.2,1866.0 2341.0,1832.0 2349.0,1830.0 2358.2,1850.0 2367.0,1830.0 2375.0,1832.0" fill="#dd0000" />
<line x1="2363.0" y1="1726.8" x2="2250.0" y2="1726.8" stroke="#000" stroke-width="6.5" />
<polyline points="2278.0,1710.0 2247.0,1727.0 2278.0,1744.0" fill="none" stroke="#000" stroke-width="6.5" stroke-linejoin="round" stroke-linecap="round" stroke-linecap="round" stroke-linejoin="miter"/>
<line x1="2360.6" y1="1723.9" x2="2409.0" y2="1681.5" stroke="#2a7ad8" stroke-width="4.6" />
<polyline points="2389.0,1684.5 2411.0,1679.0 2403.0,1701.0" fill="none" stroke="#2a7ad8" stroke-width="4.6" stroke-linejoin="round" stroke-linecap="round" stroke-linecap="round" stroke-linejoin="miter"/>
<text x="2333.0" y="1677.9" font-size="70" textLength="36.7" lengthAdjust="spacingAndGlyphs" fill="#1a70d0" font-weight="bold" >h</text>
<text x="2260.9" y="1799.5" font-size="66" textLength="38.2" lengthAdjust="spacingAndGlyphs" fill="#000" font-weight="bold" >k</text>
<text x="2309.8" y="1873.5" font-size="73" textLength="32.6" lengthAdjust="spacingAndGlyphs" fill="#dd0000" font-weight="bold" >e</text>
<text x="1485.3" y="1339.5" font-size="114" textLength="140.4" lengthAdjust="spacingAndGlyphs" fill="#000" >(g)</text>
</svg></body></html>
